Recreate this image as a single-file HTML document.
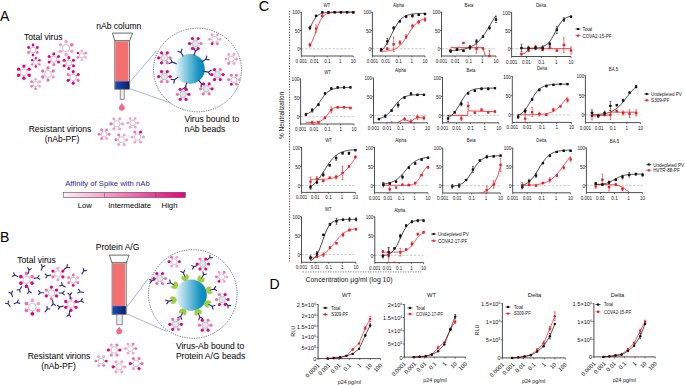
<!DOCTYPE html>
<html><head><meta charset="utf-8"><style>html,body{margin:0;padding:0;background:#fff;width:685px;height:385px;overflow:hidden}svg{display:block}text{font-family:"Liberation Sans", sans-serif}</style></head>
<body><svg width="685" height="385" viewBox="0 0 685 385" font-family='"Liberation Sans", sans-serif'>
<defs>
<linearGradient id="blueg" x1="0" y1="0" x2="1" y2="0"><stop offset="0" stop-color="#1a4fb0"/><stop offset="1" stop-color="#0a1f70"/></linearGradient>
<linearGradient id="beadg" x1="0" y1="0" x2="1" y2="0"><stop offset="0" stop-color="#f0f8fb"/><stop offset="0.45" stop-color="#72c0da"/><stop offset="0.8" stop-color="#1492c0"/><stop offset="1" stop-color="#0788b8"/></linearGradient>
<linearGradient id="affg" x1="0" y1="0" x2="1" y2="0"><stop offset="0" stop-color="#fdf0f6"/><stop offset="0.5" stop-color="#f47ab9"/><stop offset="1" stop-color="#e6007a"/></linearGradient>
</defs>
<rect width="685" height="385" fill="#fff"/>
<text x="0.00" y="21.20" font-size="14" text-anchor="start" fill="#000" >A</text>
<text x="0.00" y="242.30" font-size="14" text-anchor="start" fill="#000" >B</text>
<text x="258.80" y="10.60" font-size="14.6" text-anchor="start" fill="#000" >C</text>
<text x="269.60" y="288.60" font-size="14" text-anchor="start" fill="#000" >D</text>
<text x="24.00" y="40.30" font-size="8.55" text-anchor="start" fill="#000" >Total virus</text>
<line x1="33.00" y1="47.20" x2="33.00" y2="44.96" stroke="#e6007e" stroke-width="0.55"/><circle cx="33.00" cy="44.96" r="1.40" fill="#e6007e"/><line x1="35.42" y1="48.60" x2="37.36" y2="47.48" stroke="#e6007e" stroke-width="0.55"/><circle cx="37.36" cy="47.48" r="1.40" fill="#e6007e"/><line x1="35.42" y1="51.40" x2="37.36" y2="52.52" stroke="#ef6fb2" stroke-width="0.55"/><circle cx="37.36" cy="52.52" r="1.40" fill="#ef6fb2"/><line x1="33.00" y1="52.80" x2="33.00" y2="55.04" stroke="#e6007e" stroke-width="0.55"/><circle cx="33.00" cy="55.04" r="1.40" fill="#e6007e"/><line x1="30.58" y1="51.40" x2="28.64" y2="52.52" stroke="#ef6fb2" stroke-width="0.55"/><circle cx="28.64" cy="52.52" r="1.40" fill="#ef6fb2"/><line x1="30.58" y1="48.60" x2="28.64" y2="47.48" stroke="#e6007e" stroke-width="0.55"/><circle cx="28.64" cy="47.48" r="1.40" fill="#e6007e"/>
<circle cx="33.00" cy="50.00" r="2.80" fill="#fff" stroke="#b4b4b4" stroke-width="0.75"/>
<line x1="66.10" y1="44.50" x2="66.10" y2="41.62" stroke="#f5a0cc" stroke-width="0.55"/><circle cx="66.10" cy="41.62" r="1.80" fill="#f5a0cc"/><line x1="69.22" y1="46.30" x2="71.71" y2="44.86" stroke="#ef6fb2" stroke-width="0.55"/><circle cx="71.71" cy="44.86" r="1.80" fill="#ef6fb2"/><line x1="69.22" y1="49.90" x2="71.71" y2="51.34" stroke="#f5a0cc" stroke-width="0.55"/><circle cx="71.71" cy="51.34" r="1.80" fill="#f5a0cc"/><line x1="66.10" y1="51.70" x2="66.10" y2="54.58" stroke="#f5a0cc" stroke-width="0.55"/><circle cx="66.10" cy="54.58" r="1.80" fill="#f5a0cc"/><line x1="62.98" y1="49.90" x2="60.49" y2="51.34" stroke="#f5a0cc" stroke-width="0.55"/><circle cx="60.49" cy="51.34" r="1.80" fill="#f5a0cc"/><line x1="62.98" y1="46.30" x2="60.49" y2="44.86" stroke="#f5a0cc" stroke-width="0.55"/><circle cx="60.49" cy="44.86" r="1.80" fill="#f5a0cc"/>
<circle cx="66.10" cy="48.10" r="3.60" fill="#fff" stroke="#b4b4b4" stroke-width="0.75"/>
<line x1="81.80" y1="52.80" x2="81.80" y2="50.80" stroke="#f5a0cc" stroke-width="0.55"/><circle cx="81.80" cy="50.80" r="1.25" fill="#f5a0cc"/><line x1="83.97" y1="54.05" x2="85.70" y2="53.05" stroke="#ef6fb2" stroke-width="0.55"/><circle cx="85.70" cy="53.05" r="1.25" fill="#ef6fb2"/><line x1="83.97" y1="56.55" x2="85.70" y2="57.55" stroke="#f5a0cc" stroke-width="0.55"/><circle cx="85.70" cy="57.55" r="1.25" fill="#f5a0cc"/><line x1="81.80" y1="57.80" x2="81.80" y2="59.80" stroke="#f5a0cc" stroke-width="0.55"/><circle cx="81.80" cy="59.80" r="1.25" fill="#f5a0cc"/><line x1="79.63" y1="56.55" x2="77.90" y2="57.55" stroke="#ef6fb2" stroke-width="0.55"/><circle cx="77.90" cy="57.55" r="1.25" fill="#ef6fb2"/><line x1="79.63" y1="54.05" x2="77.90" y2="53.05" stroke="#e6007e" stroke-width="0.55"/><circle cx="77.90" cy="53.05" r="1.25" fill="#e6007e"/>
<circle cx="81.80" cy="55.30" r="2.50" fill="#fff" stroke="#b4b4b4" stroke-width="0.75"/>
<line x1="35.80" y1="59.95" x2="35.80" y2="58.07" stroke="#e6007e" stroke-width="0.55"/><circle cx="35.80" cy="58.07" r="1.18" fill="#e6007e"/><line x1="37.84" y1="61.12" x2="39.46" y2="60.18" stroke="#e6007e" stroke-width="0.55"/><circle cx="39.46" cy="60.18" r="1.18" fill="#e6007e"/><line x1="37.84" y1="63.47" x2="39.46" y2="64.41" stroke="#ef6fb2" stroke-width="0.55"/><circle cx="39.46" cy="64.41" r="1.18" fill="#ef6fb2"/><line x1="35.80" y1="64.65" x2="35.80" y2="66.53" stroke="#e6007e" stroke-width="0.55"/><circle cx="35.80" cy="66.53" r="1.18" fill="#e6007e"/><line x1="33.76" y1="63.48" x2="32.14" y2="64.41" stroke="#ef6fb2" stroke-width="0.55"/><circle cx="32.14" cy="64.41" r="1.18" fill="#ef6fb2"/><line x1="33.76" y1="61.12" x2="32.14" y2="60.18" stroke="#e6007e" stroke-width="0.55"/><circle cx="32.14" cy="60.18" r="1.18" fill="#e6007e"/>
<circle cx="35.80" cy="62.30" r="2.35" fill="#fff" stroke="#b4b4b4" stroke-width="0.75"/>
<line x1="53.80" y1="56.20" x2="53.80" y2="53.80" stroke="#e6007e" stroke-width="0.55"/><circle cx="53.80" cy="53.80" r="1.50" fill="#e6007e"/><line x1="56.40" y1="57.70" x2="58.48" y2="56.50" stroke="#e6007e" stroke-width="0.55"/><circle cx="58.48" cy="56.50" r="1.50" fill="#e6007e"/><line x1="56.40" y1="60.70" x2="58.48" y2="61.90" stroke="#e6007e" stroke-width="0.55"/><circle cx="58.48" cy="61.90" r="1.50" fill="#e6007e"/><line x1="53.80" y1="62.20" x2="53.80" y2="64.60" stroke="#ef6fb2" stroke-width="0.55"/><circle cx="53.80" cy="64.60" r="1.50" fill="#ef6fb2"/><line x1="51.20" y1="60.70" x2="49.12" y2="61.90" stroke="#e6007e" stroke-width="0.55"/><circle cx="49.12" cy="61.90" r="1.50" fill="#e6007e"/><line x1="51.20" y1="57.70" x2="49.12" y2="56.50" stroke="#e6007e" stroke-width="0.55"/><circle cx="49.12" cy="56.50" r="1.50" fill="#e6007e"/>
<circle cx="53.80" cy="59.20" r="3.00" fill="#fff" stroke="#b4b4b4" stroke-width="0.75"/>
<line x1="68.80" y1="60.00" x2="68.80" y2="57.60" stroke="#e6007e" stroke-width="0.55"/><circle cx="68.80" cy="57.60" r="1.50" fill="#e6007e"/><line x1="71.40" y1="61.50" x2="73.48" y2="60.30" stroke="#e6007e" stroke-width="0.55"/><circle cx="73.48" cy="60.30" r="1.50" fill="#e6007e"/><line x1="71.40" y1="64.50" x2="73.48" y2="65.70" stroke="#e6007e" stroke-width="0.55"/><circle cx="73.48" cy="65.70" r="1.50" fill="#e6007e"/><line x1="68.80" y1="66.00" x2="68.80" y2="68.40" stroke="#e6007e" stroke-width="0.55"/><circle cx="68.80" cy="68.40" r="1.50" fill="#e6007e"/><line x1="66.20" y1="64.50" x2="64.12" y2="65.70" stroke="#e6007e" stroke-width="0.55"/><circle cx="64.12" cy="65.70" r="1.50" fill="#e6007e"/><line x1="66.20" y1="61.50" x2="64.12" y2="60.30" stroke="#e6007e" stroke-width="0.55"/><circle cx="64.12" cy="60.30" r="1.50" fill="#e6007e"/>
<circle cx="68.80" cy="63.00" r="3.00" fill="#fff" stroke="#b4b4b4" stroke-width="0.75"/>
<line x1="23.90" y1="68.80" x2="23.90" y2="66.08" stroke="#e6007e" stroke-width="0.55"/><circle cx="23.90" cy="66.08" r="1.70" fill="#e6007e"/><line x1="26.84" y1="70.50" x2="29.20" y2="69.14" stroke="#e6007e" stroke-width="0.55"/><circle cx="29.20" cy="69.14" r="1.70" fill="#e6007e"/><line x1="26.84" y1="73.90" x2="29.20" y2="75.26" stroke="#e6007e" stroke-width="0.55"/><circle cx="29.20" cy="75.26" r="1.70" fill="#e6007e"/><line x1="23.90" y1="75.60" x2="23.90" y2="78.32" stroke="#e6007e" stroke-width="0.55"/><circle cx="23.90" cy="78.32" r="1.70" fill="#e6007e"/><line x1="20.96" y1="73.90" x2="18.60" y2="75.26" stroke="#e6007e" stroke-width="0.55"/><circle cx="18.60" cy="75.26" r="1.70" fill="#e6007e"/><line x1="20.96" y1="70.50" x2="18.60" y2="69.14" stroke="#e6007e" stroke-width="0.55"/><circle cx="18.60" cy="69.14" r="1.70" fill="#e6007e"/>
<circle cx="23.90" cy="72.20" r="3.40" fill="#fff" stroke="#b4b4b4" stroke-width="0.75"/>
<line x1="48.00" y1="70.60" x2="48.00" y2="67.88" stroke="#ef6fb2" stroke-width="0.55"/><circle cx="48.00" cy="67.88" r="1.70" fill="#ef6fb2"/><line x1="50.94" y1="72.30" x2="53.30" y2="70.94" stroke="#ef6fb2" stroke-width="0.55"/><circle cx="53.30" cy="70.94" r="1.70" fill="#ef6fb2"/><line x1="50.94" y1="75.70" x2="53.30" y2="77.06" stroke="#f5a0cc" stroke-width="0.55"/><circle cx="53.30" cy="77.06" r="1.70" fill="#f5a0cc"/><line x1="48.00" y1="77.40" x2="48.00" y2="80.12" stroke="#ef6fb2" stroke-width="0.55"/><circle cx="48.00" cy="80.12" r="1.70" fill="#ef6fb2"/><line x1="45.06" y1="75.70" x2="42.70" y2="77.06" stroke="#ef6fb2" stroke-width="0.55"/><circle cx="42.70" cy="77.06" r="1.70" fill="#ef6fb2"/><line x1="45.06" y1="72.30" x2="42.70" y2="70.94" stroke="#ef6fb2" stroke-width="0.55"/><circle cx="42.70" cy="70.94" r="1.70" fill="#ef6fb2"/>
<circle cx="48.00" cy="74.00" r="3.40" fill="#fff" stroke="#b4b4b4" stroke-width="0.75"/>
<line x1="73.20" y1="74.20" x2="73.20" y2="71.64" stroke="#e6007e" stroke-width="0.55"/><circle cx="73.20" cy="71.64" r="1.60" fill="#e6007e"/><line x1="75.97" y1="75.80" x2="78.19" y2="74.52" stroke="#e6007e" stroke-width="0.55"/><circle cx="78.19" cy="74.52" r="1.60" fill="#e6007e"/><line x1="75.97" y1="79.00" x2="78.19" y2="80.28" stroke="#ef6fb2" stroke-width="0.55"/><circle cx="78.19" cy="80.28" r="1.60" fill="#ef6fb2"/><line x1="73.20" y1="80.60" x2="73.20" y2="83.16" stroke="#e6007e" stroke-width="0.55"/><circle cx="73.20" cy="83.16" r="1.60" fill="#e6007e"/><line x1="70.43" y1="79.00" x2="68.21" y2="80.28" stroke="#e6007e" stroke-width="0.55"/><circle cx="68.21" cy="80.28" r="1.60" fill="#e6007e"/><line x1="70.43" y1="75.80" x2="68.21" y2="74.52" stroke="#ef6fb2" stroke-width="0.55"/><circle cx="68.21" cy="74.52" r="1.60" fill="#ef6fb2"/>
<circle cx="73.20" cy="77.40" r="3.20" fill="#fff" stroke="#b4b4b4" stroke-width="0.75"/>
<line x1="35.60" y1="81.40" x2="35.60" y2="79.32" stroke="#f5a0cc" stroke-width="0.55"/><circle cx="35.60" cy="79.32" r="1.30" fill="#f5a0cc"/><line x1="37.85" y1="82.70" x2="39.65" y2="81.66" stroke="#f5a0cc" stroke-width="0.55"/><circle cx="39.65" cy="81.66" r="1.30" fill="#f5a0cc"/><line x1="37.85" y1="85.30" x2="39.65" y2="86.34" stroke="#f5a0cc" stroke-width="0.55"/><circle cx="39.65" cy="86.34" r="1.30" fill="#f5a0cc"/><line x1="35.60" y1="86.60" x2="35.60" y2="88.68" stroke="#ef6fb2" stroke-width="0.55"/><circle cx="35.60" cy="88.68" r="1.30" fill="#ef6fb2"/><line x1="33.35" y1="85.30" x2="31.55" y2="86.34" stroke="#ef6fb2" stroke-width="0.55"/><circle cx="31.55" cy="86.34" r="1.30" fill="#ef6fb2"/><line x1="33.35" y1="82.70" x2="31.55" y2="81.66" stroke="#ef6fb2" stroke-width="0.55"/><circle cx="31.55" cy="81.66" r="1.30" fill="#ef6fb2"/>
<circle cx="35.60" cy="84.00" r="2.60" fill="#fff" stroke="#b4b4b4" stroke-width="0.75"/>
<text x="96.20" y="29.40" font-size="8.55" text-anchor="start" fill="#000" >nAb column</text>
<path d="M112.5,33.1 L132.6,33.1 L129.5,40.9 L114.8,40.9 Z" fill="#fff" stroke="#444" stroke-width="0.8"/>
<rect x="114.8" y="40.9" width="14.700000000000003" height="48.300000000000004" fill="#e9ecee" stroke="#555" stroke-width="0.8"/>
<rect x="115.39999999999999" y="41.5" width="13.000000000000004" height="39.8" fill="#f46f6f"/>
<rect x="115.2" y="81.3" width="13.900000000000002" height="7.7000000000000055" fill="url(#blueg)"/>
<rect x="120.2" y="89.2" width="4.0" height="10.099999999999994" fill="#ececec" stroke="#666" stroke-width="0.7"/>
<path d="M121.8,102.8 C122.6,104.8 124.8,106.39999999999999 124.8,107.8 A3,3 0 0 1 118.8,107.8 C118.8,106.39999999999999 121.0,104.8 121.8,102.8 Z" fill="#ee6d84"/>
<line x1="129.5" y1="82.5" x2="156.7" y2="50.5" stroke="#6f85cf" stroke-width="0.6"/>
<line x1="129.5" y1="88.5" x2="170.5" y2="103" stroke="#6f85cf" stroke-width="0.6"/>
<ellipse cx="197.5" cy="70" rx="44" ry="41.8" fill="#fff" stroke="#333" stroke-width="0.7" stroke-dasharray="1.2,1.2"/>
<circle cx="189.8" cy="68.9" r="15.0" fill="url(#beadg)"/>
<path d="M182.95,56.01 L180.99,52.34 M177.80,51.23 L180.99,52.34 L181.87,49.07" stroke="#2b2d8c" stroke-width="1.2" fill="none" stroke-linecap="round" stroke-linejoin="round"/>
<path d="M194.14,54.96 L195.38,50.99 M193.91,47.94 L195.38,50.99 L198.31,49.31" stroke="#2b2d8c" stroke-width="1.2" fill="none" stroke-linecap="round" stroke-linejoin="round"/>
<path d="M202.31,61.38 L205.88,59.24 M206.81,55.99 L205.88,59.24 L209.19,59.94" stroke="#2b2d8c" stroke-width="1.2" fill="none" stroke-linecap="round" stroke-linejoin="round"/>
<path d="M176.17,63.67 L172.29,62.18 M169.15,63.44 L172.29,62.18 L170.80,59.14" stroke="#2b2d8c" stroke-width="1.2" fill="none" stroke-linecap="round" stroke-linejoin="round"/>
<path d="M177.90,77.36 L174.51,79.77 M173.83,83.08 L174.51,79.77 L171.16,79.32" stroke="#2b2d8c" stroke-width="1.2" fill="none" stroke-linecap="round" stroke-linejoin="round"/>
<path d="M186.52,83.13 L185.58,87.18 M187.27,90.11 L185.58,87.18 L182.78,89.07" stroke="#2b2d8c" stroke-width="1.2" fill="none" stroke-linecap="round" stroke-linejoin="round"/>
<path d="M198.83,80.37 L201.40,83.64 M204.74,84.16 L201.40,83.64 L201.12,87.01" stroke="#2b2d8c" stroke-width="1.2" fill="none" stroke-linecap="round" stroke-linejoin="round"/>
<path d="M204.18,71.44 L208.27,72.16 M211.11,70.32 L208.27,72.16 L210.31,74.86" stroke="#2b2d8c" stroke-width="1.2" fill="none" stroke-linecap="round" stroke-linejoin="round"/>
<line x1="198.50" y1="43.50" x2="201.06" y2="43.50" stroke="#ef6fb2" stroke-width="0.55"/><circle cx="201.06" cy="43.50" r="1.60" fill="#ef6fb2"/><line x1="196.90" y1="46.27" x2="198.18" y2="48.49" stroke="#e6007e" stroke-width="0.55"/><circle cx="198.18" cy="48.49" r="1.60" fill="#e6007e"/><line x1="193.70" y1="46.27" x2="192.42" y2="48.49" stroke="#e6007e" stroke-width="0.55"/><circle cx="192.42" cy="48.49" r="1.60" fill="#e6007e"/><line x1="192.10" y1="43.50" x2="189.54" y2="43.50" stroke="#e6007e" stroke-width="0.55"/><circle cx="189.54" cy="43.50" r="1.60" fill="#e6007e"/><line x1="193.70" y1="40.73" x2="192.42" y2="38.51" stroke="#e6007e" stroke-width="0.55"/><circle cx="192.42" cy="38.51" r="1.60" fill="#e6007e"/><line x1="196.90" y1="40.73" x2="198.18" y2="38.51" stroke="#e6007e" stroke-width="0.55"/><circle cx="198.18" cy="38.51" r="1.60" fill="#e6007e"/>
<circle cx="195.30" cy="43.50" r="3.20" fill="#dde7ea" stroke="#b4b4b4" stroke-width="0.75"/>
<line x1="167.60" y1="57.80" x2="170.16" y2="57.80" stroke="#ef6fb2" stroke-width="0.55"/><circle cx="170.16" cy="57.80" r="1.60" fill="#ef6fb2"/><line x1="166.00" y1="60.57" x2="167.28" y2="62.79" stroke="#ef6fb2" stroke-width="0.55"/><circle cx="167.28" cy="62.79" r="1.60" fill="#ef6fb2"/><line x1="162.80" y1="60.57" x2="161.52" y2="62.79" stroke="#e6007e" stroke-width="0.55"/><circle cx="161.52" cy="62.79" r="1.60" fill="#e6007e"/><line x1="161.20" y1="57.80" x2="158.64" y2="57.80" stroke="#e6007e" stroke-width="0.55"/><circle cx="158.64" cy="57.80" r="1.60" fill="#e6007e"/><line x1="162.80" y1="55.03" x2="161.52" y2="52.81" stroke="#e6007e" stroke-width="0.55"/><circle cx="161.52" cy="52.81" r="1.60" fill="#e6007e"/><line x1="166.00" y1="55.03" x2="167.28" y2="52.81" stroke="#e6007e" stroke-width="0.55"/><circle cx="167.28" cy="52.81" r="1.60" fill="#e6007e"/>
<circle cx="164.40" cy="57.80" r="3.20" fill="#dde7ea" stroke="#b4b4b4" stroke-width="0.75"/>
<line x1="167.60" y1="76.60" x2="170.16" y2="76.60" stroke="#e6007e" stroke-width="0.55"/><circle cx="170.16" cy="76.60" r="1.60" fill="#e6007e"/><line x1="166.00" y1="79.37" x2="167.28" y2="81.59" stroke="#ef6fb2" stroke-width="0.55"/><circle cx="167.28" cy="81.59" r="1.60" fill="#ef6fb2"/><line x1="162.80" y1="79.37" x2="161.52" y2="81.59" stroke="#ef6fb2" stroke-width="0.55"/><circle cx="161.52" cy="81.59" r="1.60" fill="#ef6fb2"/><line x1="161.20" y1="76.60" x2="158.64" y2="76.60" stroke="#e6007e" stroke-width="0.55"/><circle cx="158.64" cy="76.60" r="1.60" fill="#e6007e"/><line x1="162.80" y1="73.83" x2="161.52" y2="71.61" stroke="#e6007e" stroke-width="0.55"/><circle cx="161.52" cy="71.61" r="1.60" fill="#e6007e"/><line x1="166.00" y1="73.83" x2="167.28" y2="71.61" stroke="#e6007e" stroke-width="0.55"/><circle cx="167.28" cy="71.61" r="1.60" fill="#e6007e"/>
<circle cx="164.40" cy="76.60" r="3.20" fill="#dde7ea" stroke="#b4b4b4" stroke-width="0.75"/>
<line x1="220.60" y1="74.60" x2="223.16" y2="74.60" stroke="#e6007e" stroke-width="0.55"/><circle cx="223.16" cy="74.60" r="1.60" fill="#e6007e"/><line x1="219.00" y1="77.37" x2="220.28" y2="79.59" stroke="#e6007e" stroke-width="0.55"/><circle cx="220.28" cy="79.59" r="1.60" fill="#e6007e"/><line x1="215.80" y1="77.37" x2="214.52" y2="79.59" stroke="#e6007e" stroke-width="0.55"/><circle cx="214.52" cy="79.59" r="1.60" fill="#e6007e"/><line x1="214.20" y1="74.60" x2="211.64" y2="74.60" stroke="#e6007e" stroke-width="0.55"/><circle cx="211.64" cy="74.60" r="1.60" fill="#e6007e"/><line x1="215.80" y1="71.83" x2="214.52" y2="69.61" stroke="#e6007e" stroke-width="0.55"/><circle cx="214.52" cy="69.61" r="1.60" fill="#e6007e"/><line x1="219.00" y1="71.83" x2="220.28" y2="69.61" stroke="#ef6fb2" stroke-width="0.55"/><circle cx="220.28" cy="69.61" r="1.60" fill="#ef6fb2"/>
<circle cx="217.40" cy="74.60" r="3.20" fill="#dde7ea" stroke="#b4b4b4" stroke-width="0.75"/>
<line x1="186.30" y1="94.30" x2="188.86" y2="94.30" stroke="#e6007e" stroke-width="0.55"/><circle cx="188.86" cy="94.30" r="1.60" fill="#e6007e"/><line x1="184.70" y1="97.07" x2="185.98" y2="99.29" stroke="#e6007e" stroke-width="0.55"/><circle cx="185.98" cy="99.29" r="1.60" fill="#e6007e"/><line x1="181.50" y1="97.07" x2="180.22" y2="99.29" stroke="#e6007e" stroke-width="0.55"/><circle cx="180.22" cy="99.29" r="1.60" fill="#e6007e"/><line x1="179.90" y1="94.30" x2="177.34" y2="94.30" stroke="#ef6fb2" stroke-width="0.55"/><circle cx="177.34" cy="94.30" r="1.60" fill="#ef6fb2"/><line x1="181.50" y1="91.53" x2="180.22" y2="89.31" stroke="#e6007e" stroke-width="0.55"/><circle cx="180.22" cy="89.31" r="1.60" fill="#e6007e"/><line x1="184.70" y1="91.53" x2="185.98" y2="89.31" stroke="#e6007e" stroke-width="0.55"/><circle cx="185.98" cy="89.31" r="1.60" fill="#e6007e"/>
<circle cx="183.10" cy="94.30" r="3.20" fill="#dde7ea" stroke="#b4b4b4" stroke-width="0.75"/>
<line x1="209.50" y1="88.80" x2="212.06" y2="88.80" stroke="#e6007e" stroke-width="0.55"/><circle cx="212.06" cy="88.80" r="1.60" fill="#e6007e"/><line x1="207.90" y1="91.57" x2="209.18" y2="93.79" stroke="#ef6fb2" stroke-width="0.55"/><circle cx="209.18" cy="93.79" r="1.60" fill="#ef6fb2"/><line x1="204.70" y1="91.57" x2="203.42" y2="93.79" stroke="#ef6fb2" stroke-width="0.55"/><circle cx="203.42" cy="93.79" r="1.60" fill="#ef6fb2"/><line x1="203.10" y1="88.80" x2="200.54" y2="88.80" stroke="#ef6fb2" stroke-width="0.55"/><circle cx="200.54" cy="88.80" r="1.60" fill="#ef6fb2"/><line x1="204.70" y1="86.03" x2="203.42" y2="83.81" stroke="#e6007e" stroke-width="0.55"/><circle cx="203.42" cy="83.81" r="1.60" fill="#e6007e"/><line x1="207.90" y1="86.03" x2="209.18" y2="83.81" stroke="#e6007e" stroke-width="0.55"/><circle cx="209.18" cy="83.81" r="1.60" fill="#e6007e"/>
<circle cx="206.30" cy="88.80" r="3.20" fill="#dde7ea" stroke="#b4b4b4" stroke-width="0.75"/>
<line x1="217.70" y1="39.30" x2="220.02" y2="39.30" stroke="#f5a0cc" stroke-width="0.55"/><circle cx="220.02" cy="39.30" r="1.45" fill="#f5a0cc"/><line x1="216.25" y1="41.81" x2="217.41" y2="43.82" stroke="#ef6fb2" stroke-width="0.55"/><circle cx="217.41" cy="43.82" r="1.45" fill="#ef6fb2"/><line x1="213.35" y1="41.81" x2="212.19" y2="43.82" stroke="#e6007e" stroke-width="0.55"/><circle cx="212.19" cy="43.82" r="1.45" fill="#e6007e"/><line x1="211.90" y1="39.30" x2="209.58" y2="39.30" stroke="#f5a0cc" stroke-width="0.55"/><circle cx="209.58" cy="39.30" r="1.45" fill="#f5a0cc"/><line x1="213.35" y1="36.79" x2="212.19" y2="34.78" stroke="#f5a0cc" stroke-width="0.55"/><circle cx="212.19" cy="34.78" r="1.45" fill="#f5a0cc"/><line x1="216.25" y1="36.79" x2="217.41" y2="34.78" stroke="#f5a0cc" stroke-width="0.55"/><circle cx="217.41" cy="34.78" r="1.45" fill="#f5a0cc"/>
<circle cx="214.80" cy="39.30" r="2.90" fill="#fff" stroke="#b4b4b4" stroke-width="0.75"/>
<line x1="234.20" y1="59.00" x2="236.52" y2="59.00" stroke="#f5a0cc" stroke-width="0.55"/><circle cx="236.52" cy="59.00" r="1.45" fill="#f5a0cc"/><line x1="232.75" y1="61.51" x2="233.91" y2="63.52" stroke="#f5a0cc" stroke-width="0.55"/><circle cx="233.91" cy="63.52" r="1.45" fill="#f5a0cc"/><line x1="229.85" y1="61.51" x2="228.69" y2="63.52" stroke="#ef6fb2" stroke-width="0.55"/><circle cx="228.69" cy="63.52" r="1.45" fill="#ef6fb2"/><line x1="228.40" y1="59.00" x2="226.08" y2="59.00" stroke="#f5a0cc" stroke-width="0.55"/><circle cx="226.08" cy="59.00" r="1.45" fill="#f5a0cc"/><line x1="229.85" y1="56.49" x2="228.69" y2="54.48" stroke="#f5a0cc" stroke-width="0.55"/><circle cx="228.69" cy="54.48" r="1.45" fill="#f5a0cc"/><line x1="232.75" y1="56.49" x2="233.91" y2="54.48" stroke="#f5a0cc" stroke-width="0.55"/><circle cx="233.91" cy="54.48" r="1.45" fill="#f5a0cc"/>
<circle cx="231.30" cy="59.00" r="2.90" fill="#fff" stroke="#b4b4b4" stroke-width="0.75"/>
<line x1="236.80" y1="79.80" x2="239.12" y2="79.80" stroke="#f5a0cc" stroke-width="0.55"/><circle cx="239.12" cy="79.80" r="1.45" fill="#f5a0cc"/><line x1="235.35" y1="82.31" x2="236.51" y2="84.32" stroke="#ef6fb2" stroke-width="0.55"/><circle cx="236.51" cy="84.32" r="1.45" fill="#ef6fb2"/><line x1="232.45" y1="82.31" x2="231.29" y2="84.32" stroke="#e6007e" stroke-width="0.55"/><circle cx="231.29" cy="84.32" r="1.45" fill="#e6007e"/><line x1="231.00" y1="79.80" x2="228.68" y2="79.80" stroke="#ef6fb2" stroke-width="0.55"/><circle cx="228.68" cy="79.80" r="1.45" fill="#ef6fb2"/><line x1="232.45" y1="77.29" x2="231.29" y2="75.28" stroke="#ef6fb2" stroke-width="0.55"/><circle cx="231.29" cy="75.28" r="1.45" fill="#ef6fb2"/><line x1="235.35" y1="77.29" x2="236.51" y2="75.28" stroke="#ef6fb2" stroke-width="0.55"/><circle cx="236.51" cy="75.28" r="1.45" fill="#ef6fb2"/>
<circle cx="233.90" cy="79.80" r="2.90" fill="#fff" stroke="#b4b4b4" stroke-width="0.75"/>
<text x="184.40" y="122.00" font-size="8.55" text-anchor="start" fill="#000" >Virus bound to</text>
<text x="184.40" y="132.30" font-size="8.55" text-anchor="start" fill="#000" >nAb beads</text>
<text x="60.00" y="131.60" font-size="8.55" text-anchor="middle" fill="#000" >Resistant virions</text>
<text x="62.00" y="141.70" font-size="8.55" text-anchor="middle" fill="#000" >(nAb-PF)</text>
<line x1="106.90" y1="134.30" x2="109.14" y2="134.30" stroke="#ef6fb2" stroke-width="0.55"/><circle cx="109.14" cy="134.30" r="1.40" fill="#ef6fb2"/><line x1="105.50" y1="136.72" x2="106.62" y2="138.66" stroke="#f5a0cc" stroke-width="0.55"/><circle cx="106.62" cy="138.66" r="1.40" fill="#f5a0cc"/><line x1="102.70" y1="136.72" x2="101.58" y2="138.66" stroke="#ef6fb2" stroke-width="0.55"/><circle cx="101.58" cy="138.66" r="1.40" fill="#ef6fb2"/><line x1="101.30" y1="134.30" x2="99.06" y2="134.30" stroke="#ef6fb2" stroke-width="0.55"/><circle cx="99.06" cy="134.30" r="1.40" fill="#ef6fb2"/><line x1="102.70" y1="131.88" x2="101.58" y2="129.94" stroke="#ef6fb2" stroke-width="0.55"/><circle cx="101.58" cy="129.94" r="1.40" fill="#ef6fb2"/><line x1="105.50" y1="131.88" x2="106.62" y2="129.94" stroke="#ef6fb2" stroke-width="0.55"/><circle cx="106.62" cy="129.94" r="1.40" fill="#ef6fb2"/>
<circle cx="104.10" cy="134.30" r="2.80" fill="#fff" stroke="#b4b4b4" stroke-width="0.75"/>
<line x1="120.00" y1="123.80" x2="122.56" y2="123.80" stroke="#f5a0cc" stroke-width="0.55"/><circle cx="122.56" cy="123.80" r="1.60" fill="#f5a0cc"/><line x1="118.40" y1="126.57" x2="119.68" y2="128.79" stroke="#f5a0cc" stroke-width="0.55"/><circle cx="119.68" cy="128.79" r="1.60" fill="#f5a0cc"/><line x1="115.20" y1="126.57" x2="113.92" y2="128.79" stroke="#f5a0cc" stroke-width="0.55"/><circle cx="113.92" cy="128.79" r="1.60" fill="#f5a0cc"/><line x1="113.60" y1="123.80" x2="111.04" y2="123.80" stroke="#ef6fb2" stroke-width="0.55"/><circle cx="111.04" cy="123.80" r="1.60" fill="#ef6fb2"/><line x1="115.20" y1="121.03" x2="113.92" y2="118.81" stroke="#f5a0cc" stroke-width="0.55"/><circle cx="113.92" cy="118.81" r="1.60" fill="#f5a0cc"/><line x1="118.40" y1="121.03" x2="119.68" y2="118.81" stroke="#f5a0cc" stroke-width="0.55"/><circle cx="119.68" cy="118.81" r="1.60" fill="#f5a0cc"/>
<circle cx="116.80" cy="123.80" r="3.20" fill="#fff" stroke="#b4b4b4" stroke-width="0.75"/>
<line x1="135.50" y1="122.90" x2="137.74" y2="122.90" stroke="#f5a0cc" stroke-width="0.55"/><circle cx="137.74" cy="122.90" r="1.40" fill="#f5a0cc"/><line x1="134.10" y1="125.32" x2="135.22" y2="127.26" stroke="#f5a0cc" stroke-width="0.55"/><circle cx="135.22" cy="127.26" r="1.40" fill="#f5a0cc"/><line x1="131.30" y1="125.32" x2="130.18" y2="127.26" stroke="#f5a0cc" stroke-width="0.55"/><circle cx="130.18" cy="127.26" r="1.40" fill="#f5a0cc"/><line x1="129.90" y1="122.90" x2="127.66" y2="122.90" stroke="#f5a0cc" stroke-width="0.55"/><circle cx="127.66" cy="122.90" r="1.40" fill="#f5a0cc"/><line x1="131.30" y1="120.48" x2="130.18" y2="118.54" stroke="#f5a0cc" stroke-width="0.55"/><circle cx="130.18" cy="118.54" r="1.40" fill="#f5a0cc"/><line x1="134.10" y1="120.48" x2="135.22" y2="118.54" stroke="#f5a0cc" stroke-width="0.55"/><circle cx="135.22" cy="118.54" r="1.40" fill="#f5a0cc"/>
<circle cx="132.70" cy="122.90" r="2.80" fill="#fff" stroke="#b4b4b4" stroke-width="0.75"/>
<line x1="124.40" y1="139.70" x2="126.80" y2="139.70" stroke="#f5a0cc" stroke-width="0.55"/><circle cx="126.80" cy="139.70" r="1.50" fill="#f5a0cc"/><line x1="122.90" y1="142.30" x2="124.10" y2="144.38" stroke="#f5a0cc" stroke-width="0.55"/><circle cx="124.10" cy="144.38" r="1.50" fill="#f5a0cc"/><line x1="119.90" y1="142.30" x2="118.70" y2="144.38" stroke="#f5a0cc" stroke-width="0.55"/><circle cx="118.70" cy="144.38" r="1.50" fill="#f5a0cc"/><line x1="118.40" y1="139.70" x2="116.00" y2="139.70" stroke="#ef6fb2" stroke-width="0.55"/><circle cx="116.00" cy="139.70" r="1.50" fill="#ef6fb2"/><line x1="119.90" y1="137.10" x2="118.70" y2="135.02" stroke="#ef6fb2" stroke-width="0.55"/><circle cx="118.70" cy="135.02" r="1.50" fill="#ef6fb2"/><line x1="122.90" y1="137.10" x2="124.10" y2="135.02" stroke="#f5a0cc" stroke-width="0.55"/><circle cx="124.10" cy="135.02" r="1.50" fill="#f5a0cc"/>
<circle cx="121.40" cy="139.70" r="3.00" fill="#fff" stroke="#b4b4b4" stroke-width="0.75"/>
<line x1="140.90" y1="137.00" x2="143.46" y2="137.00" stroke="#f5a0cc" stroke-width="0.55"/><circle cx="143.46" cy="137.00" r="1.60" fill="#f5a0cc"/><line x1="139.30" y1="139.77" x2="140.58" y2="141.99" stroke="#f5a0cc" stroke-width="0.55"/><circle cx="140.58" cy="141.99" r="1.60" fill="#f5a0cc"/><line x1="136.10" y1="139.77" x2="134.82" y2="141.99" stroke="#f5a0cc" stroke-width="0.55"/><circle cx="134.82" cy="141.99" r="1.60" fill="#f5a0cc"/><line x1="134.50" y1="137.00" x2="131.94" y2="137.00" stroke="#f5a0cc" stroke-width="0.55"/><circle cx="131.94" cy="137.00" r="1.60" fill="#f5a0cc"/><line x1="136.10" y1="134.23" x2="134.82" y2="132.01" stroke="#ef6fb2" stroke-width="0.55"/><circle cx="134.82" cy="132.01" r="1.60" fill="#ef6fb2"/><line x1="139.30" y1="134.23" x2="140.58" y2="132.01" stroke="#e6007e" stroke-width="0.55"/><circle cx="140.58" cy="132.01" r="1.60" fill="#e6007e"/>
<circle cx="137.70" cy="137.00" r="3.20" fill="#fff" stroke="#b4b4b4" stroke-width="0.75"/>
<text x="65.20" y="185.60" font-size="7.7" text-anchor="start" fill="#2a2aae" >Affinity of Spike with nAb</text>
<rect x="63.2" y="192.4" width="122.1" height="5.1" fill="url(#affg)" stroke="#333" stroke-width="0.5"/>
<line x1="104.5" y1="192.4" x2="104.5" y2="197.5" stroke="#555" stroke-width="0.5"/>
<line x1="155.8" y1="192.4" x2="155.8" y2="197.5" stroke="#555" stroke-width="0.5"/>
<text x="84.70" y="207.80" font-size="7.7" text-anchor="middle" fill="#000" >Low</text>
<text x="129.60" y="207.80" font-size="7.7" text-anchor="middle" fill="#000" >Intermediate</text>
<text x="169.50" y="207.80" font-size="7.7" text-anchor="middle" fill="#000" >High</text>
<text x="17.30" y="262.50" font-size="8.55" text-anchor="start" fill="#000" >Total virus</text>
<line x1="26.50" y1="276.30" x2="26.50" y2="273.42" stroke="#ef6fb2" stroke-width="0.55"/><circle cx="26.50" cy="273.42" r="1.80" fill="#ef6fb2"/><line x1="29.62" y1="278.10" x2="32.11" y2="276.66" stroke="#ef6fb2" stroke-width="0.55"/><circle cx="32.11" cy="276.66" r="1.80" fill="#ef6fb2"/><line x1="29.62" y1="281.70" x2="32.11" y2="283.14" stroke="#e6007e" stroke-width="0.55"/><circle cx="32.11" cy="283.14" r="1.80" fill="#e6007e"/><line x1="26.50" y1="283.50" x2="26.50" y2="286.38" stroke="#e6007e" stroke-width="0.55"/><circle cx="26.50" cy="286.38" r="1.80" fill="#e6007e"/><line x1="23.38" y1="281.70" x2="20.89" y2="283.14" stroke="#e6007e" stroke-width="0.55"/><circle cx="20.89" cy="283.14" r="1.80" fill="#e6007e"/><line x1="23.38" y1="278.10" x2="20.89" y2="276.66" stroke="#e6007e" stroke-width="0.55"/><circle cx="20.89" cy="276.66" r="1.80" fill="#e6007e"/>
<circle cx="26.50" cy="279.90" r="3.60" fill="#fff" stroke="#b4b4b4" stroke-width="0.75"/>
<line x1="57.90" y1="270.80" x2="57.90" y2="268.24" stroke="#f5a0cc" stroke-width="0.55"/><circle cx="57.90" cy="268.24" r="1.60" fill="#f5a0cc"/><line x1="60.67" y1="272.40" x2="62.89" y2="271.12" stroke="#e6007e" stroke-width="0.55"/><circle cx="62.89" cy="271.12" r="1.60" fill="#e6007e"/><line x1="60.67" y1="275.60" x2="62.89" y2="276.88" stroke="#e6007e" stroke-width="0.55"/><circle cx="62.89" cy="276.88" r="1.60" fill="#e6007e"/><line x1="57.90" y1="277.20" x2="57.90" y2="279.76" stroke="#f5a0cc" stroke-width="0.55"/><circle cx="57.90" cy="279.76" r="1.60" fill="#f5a0cc"/><line x1="55.13" y1="275.60" x2="52.91" y2="276.88" stroke="#ef6fb2" stroke-width="0.55"/><circle cx="52.91" cy="276.88" r="1.60" fill="#ef6fb2"/><line x1="55.13" y1="272.40" x2="52.91" y2="271.12" stroke="#e6007e" stroke-width="0.55"/><circle cx="52.91" cy="271.12" r="1.60" fill="#e6007e"/>
<circle cx="57.90" cy="274.00" r="3.20" fill="#fff" stroke="#b4b4b4" stroke-width="0.75"/>
<line x1="73.20" y1="277.30" x2="73.20" y2="274.98" stroke="#ef6fb2" stroke-width="0.55"/><circle cx="73.20" cy="274.98" r="1.45" fill="#ef6fb2"/><line x1="75.71" y1="278.75" x2="77.72" y2="277.59" stroke="#f5a0cc" stroke-width="0.55"/><circle cx="77.72" cy="277.59" r="1.45" fill="#f5a0cc"/><line x1="75.71" y1="281.65" x2="77.72" y2="282.81" stroke="#ef6fb2" stroke-width="0.55"/><circle cx="77.72" cy="282.81" r="1.45" fill="#ef6fb2"/><line x1="73.20" y1="283.10" x2="73.20" y2="285.42" stroke="#e6007e" stroke-width="0.55"/><circle cx="73.20" cy="285.42" r="1.45" fill="#e6007e"/><line x1="70.69" y1="281.65" x2="68.68" y2="282.81" stroke="#ef6fb2" stroke-width="0.55"/><circle cx="68.68" cy="282.81" r="1.45" fill="#ef6fb2"/><line x1="70.69" y1="278.75" x2="68.68" y2="277.59" stroke="#ef6fb2" stroke-width="0.55"/><circle cx="68.68" cy="277.59" r="1.45" fill="#ef6fb2"/>
<circle cx="73.20" cy="280.20" r="2.90" fill="#fff" stroke="#b4b4b4" stroke-width="0.75"/>
<line x1="51.40" y1="289.70" x2="51.40" y2="287.06" stroke="#e6007e" stroke-width="0.55"/><circle cx="51.40" cy="287.06" r="1.65" fill="#e6007e"/><line x1="54.26" y1="291.35" x2="56.54" y2="290.03" stroke="#e6007e" stroke-width="0.55"/><circle cx="56.54" cy="290.03" r="1.65" fill="#e6007e"/><line x1="54.26" y1="294.65" x2="56.54" y2="295.97" stroke="#e6007e" stroke-width="0.55"/><circle cx="56.54" cy="295.97" r="1.65" fill="#e6007e"/><line x1="51.40" y1="296.30" x2="51.40" y2="298.94" stroke="#ef6fb2" stroke-width="0.55"/><circle cx="51.40" cy="298.94" r="1.65" fill="#ef6fb2"/><line x1="48.54" y1="294.65" x2="46.26" y2="295.97" stroke="#e6007e" stroke-width="0.55"/><circle cx="46.26" cy="295.97" r="1.65" fill="#e6007e"/><line x1="48.54" y1="291.35" x2="46.26" y2="290.03" stroke="#ef6fb2" stroke-width="0.55"/><circle cx="46.26" cy="290.03" r="1.65" fill="#ef6fb2"/>
<circle cx="51.40" cy="293.00" r="3.30" fill="#fff" stroke="#b4b4b4" stroke-width="0.75"/>
<line x1="32.40" y1="303.20" x2="32.40" y2="300.16" stroke="#f5a0cc" stroke-width="0.55"/><circle cx="32.40" cy="300.16" r="1.90" fill="#f5a0cc"/><line x1="35.69" y1="305.10" x2="38.32" y2="303.58" stroke="#f5a0cc" stroke-width="0.55"/><circle cx="38.32" cy="303.58" r="1.90" fill="#f5a0cc"/><line x1="35.69" y1="308.90" x2="38.32" y2="310.42" stroke="#ef6fb2" stroke-width="0.55"/><circle cx="38.32" cy="310.42" r="1.90" fill="#ef6fb2"/><line x1="32.40" y1="310.80" x2="32.40" y2="313.84" stroke="#e6007e" stroke-width="0.55"/><circle cx="32.40" cy="313.84" r="1.90" fill="#e6007e"/><line x1="29.11" y1="308.90" x2="26.48" y2="310.42" stroke="#ef6fb2" stroke-width="0.55"/><circle cx="26.48" cy="310.42" r="1.90" fill="#ef6fb2"/><line x1="29.11" y1="305.10" x2="26.48" y2="303.58" stroke="#ef6fb2" stroke-width="0.55"/><circle cx="26.48" cy="303.58" r="1.90" fill="#ef6fb2"/>
<circle cx="32.40" cy="307.00" r="3.80" fill="#fff" stroke="#b4b4b4" stroke-width="0.75"/>
<line x1="70.90" y1="301.10" x2="70.90" y2="298.46" stroke="#ef6fb2" stroke-width="0.55"/><circle cx="70.90" cy="298.46" r="1.65" fill="#ef6fb2"/><line x1="73.76" y1="302.75" x2="76.04" y2="301.43" stroke="#e6007e" stroke-width="0.55"/><circle cx="76.04" cy="301.43" r="1.65" fill="#e6007e"/><line x1="73.76" y1="306.05" x2="76.04" y2="307.37" stroke="#e6007e" stroke-width="0.55"/><circle cx="76.04" cy="307.37" r="1.65" fill="#e6007e"/><line x1="70.90" y1="307.70" x2="70.90" y2="310.34" stroke="#e6007e" stroke-width="0.55"/><circle cx="70.90" cy="310.34" r="1.65" fill="#e6007e"/><line x1="68.04" y1="306.05" x2="65.76" y2="307.37" stroke="#e6007e" stroke-width="0.55"/><circle cx="65.76" cy="307.37" r="1.65" fill="#e6007e"/><line x1="68.04" y1="302.75" x2="65.76" y2="301.43" stroke="#e6007e" stroke-width="0.55"/><circle cx="65.76" cy="301.43" r="1.65" fill="#e6007e"/>
<circle cx="70.90" cy="304.40" r="3.30" fill="#fff" stroke="#b4b4b4" stroke-width="0.75"/>
<path d="M17.94,276.52 L14.82,275.29 M12.28,276.29 L14.82,275.29 L13.64,272.83" stroke="#2b2d8c" stroke-width="1.15" fill="none" stroke-linecap="round" stroke-linejoin="round"/>
<path d="M28.18,273.34 L29.01,270.09 M27.70,267.69 L29.01,270.09 L31.31,268.61" stroke="#2b2d8c" stroke-width="1.15" fill="none" stroke-linecap="round" stroke-linejoin="round"/>
<path d="M34.13,278.39 L37.42,277.74 M39.02,275.52 L37.42,277.74 L39.74,279.17" stroke="#2b2d8c" stroke-width="1.15" fill="none" stroke-linecap="round" stroke-linejoin="round"/>
<path d="M21.66,286.74 L19.71,289.49 M20.08,292.19 L19.71,289.49 L17.04,290.04" stroke="#2b2d8c" stroke-width="1.15" fill="none" stroke-linecap="round" stroke-linejoin="round"/>
<path d="M28.26,287.94 L28.98,291.22 M31.22,292.77 L28.98,291.22 L27.59,293.57" stroke="#2b2d8c" stroke-width="1.15" fill="none" stroke-linecap="round" stroke-linejoin="round"/>
<path d="M50.79,275.19 L47.47,275.74 M45.81,277.90 L47.47,275.74 L45.20,274.23" stroke="#2b2d8c" stroke-width="1.15" fill="none" stroke-linecap="round" stroke-linejoin="round"/>
<path d="M64.18,269.31 L66.87,267.30 M67.36,264.61 L66.87,267.30 L69.59,267.59" stroke="#2b2d8c" stroke-width="1.15" fill="none" stroke-linecap="round" stroke-linejoin="round"/>
<path d="M43.82,292.77 L40.46,292.68 M38.41,294.48 L40.46,292.68 L38.52,290.76" stroke="#2b2d8c" stroke-width="1.15" fill="none" stroke-linecap="round" stroke-linejoin="round"/>
<path d="M58.98,293.00 L62.34,293.00 M64.34,291.14 L62.34,293.00 L64.34,294.86" stroke="#2b2d8c" stroke-width="1.15" fill="none" stroke-linecap="round" stroke-linejoin="round"/>
<path d="M52.59,300.31 L53.14,303.63 M55.29,305.30 L53.14,303.63 L51.62,305.90" stroke="#2b2d8c" stroke-width="1.15" fill="none" stroke-linecap="round" stroke-linejoin="round"/>
<path d="M70.33,298.31 L70.02,294.96 M67.98,293.15 L70.02,294.96 L71.69,292.80" stroke="#2b2d8c" stroke-width="1.15" fill="none" stroke-linecap="round" stroke-linejoin="round"/>
<path d="M77.81,302.10 L81.00,301.03 M82.30,298.64 L81.00,301.03 L83.48,302.17" stroke="#2b2d8c" stroke-width="1.15" fill="none" stroke-linecap="round" stroke-linejoin="round"/>
<path d="M69.73,311.22 L69.16,314.53 M70.65,316.81 L69.16,314.53 L66.98,316.18" stroke="#2b2d8c" stroke-width="1.15" fill="none" stroke-linecap="round" stroke-linejoin="round"/>
<path d="M63.16,306.15 L59.88,306.88 M58.34,309.14 L59.88,306.88 L57.52,305.51" stroke="#2b2d8c" stroke-width="1.15" fill="none" stroke-linecap="round" stroke-linejoin="round"/>
<path d="M41.19,270.15 L42.40,267.02 M41.39,264.48 L42.40,267.02 L44.86,265.83" stroke="#2b2d8c" stroke-width="1.15" fill="none" stroke-linecap="round" stroke-linejoin="round"/>
<path d="M81.94,273.82 L83.75,270.99 M83.27,268.31 L83.75,270.99 L86.40,270.32" stroke="#2b2d8c" stroke-width="1.15" fill="none" stroke-linecap="round" stroke-linejoin="round"/>
<path d="M65.26,287.00 L62.38,285.27 M59.71,285.83 L62.38,285.27 L61.63,282.64" stroke="#2b2d8c" stroke-width="1.15" fill="none" stroke-linecap="round" stroke-linejoin="round"/>
<path d="M83.45,292.50 L80.18,291.70 M77.80,293.03 L80.18,291.70 L78.69,289.41" stroke="#2b2d8c" stroke-width="1.15" fill="none" stroke-linecap="round" stroke-linejoin="round"/>
<path d="M12.51,296.68 L11.43,293.51 M9.02,292.22 L11.43,293.51 L12.54,291.01" stroke="#2b2d8c" stroke-width="1.15" fill="none" stroke-linecap="round" stroke-linejoin="round"/>
<path d="M10.08,306.44 L8.11,303.72 M5.43,303.20 L8.11,303.72 L8.43,301.01" stroke="#2b2d8c" stroke-width="1.15" fill="none" stroke-linecap="round" stroke-linejoin="round"/>
<path d="M14.08,303.78 L17.17,302.47 M18.29,299.98 L17.17,302.47 L19.74,303.41" stroke="#2b2d8c" stroke-width="1.15" fill="none" stroke-linecap="round" stroke-linejoin="round"/>
<path d="M45.13,311.77 L47.22,309.14 M47.01,306.42 L47.22,309.14 L49.92,308.73" stroke="#2b2d8c" stroke-width="1.15" fill="none" stroke-linecap="round" stroke-linejoin="round"/>
<text x="95.70" y="249.50" font-size="8.55" text-anchor="start" fill="#000" >Protein A/G</text>
<path d="M109.3,255.1 L129.2,255.1 L126.2,262.9 L112.1,262.9 Z" fill="#fff" stroke="#444" stroke-width="0.8"/>
<rect x="112.1" y="262.9" width="14.100000000000009" height="51.400000000000034" fill="#e9ecee" stroke="#555" stroke-width="0.8"/>
<rect x="112.69999999999999" y="263.5" width="12.40000000000001" height="42.600000000000044" fill="#f46f6f"/>
<rect x="112.5" y="306.1" width="13.300000000000008" height="7.9999999999999885" fill="url(#blueg)"/>
<rect x="116.8" y="314.3" width="5.400000000000006" height="10.5" fill="#ececec" stroke="#666" stroke-width="0.7"/>
<path d="M119.2,326.2 C120.0,328.2 122.2,329.8 122.2,331.2 A3,3 0 0 1 116.2,331.2 C116.2,329.8 118.4,328.2 119.2,326.2 Z" fill="#ee6d84"/>
<line x1="126.2" y1="308" x2="148.4" y2="278.4" stroke="#6f85cf" stroke-width="0.6"/>
<line x1="126.2" y1="313.5" x2="166.6" y2="331.4" stroke="#6f85cf" stroke-width="0.6"/>
<ellipse cx="192.8" cy="294" rx="44.3" ry="44.3" fill="#fff" stroke="#333" stroke-width="0.7" stroke-dasharray="1.2,1.2"/>
<circle cx="191.2" cy="295.1" r="15.7" fill="url(#beadg)"/>
<g transform="translate(174.20,285.00) rotate(-149.3) scale(1.15)"><path d="M2.15,-2.2 A3.3,3.3 0 1 0 2.15,2.2 A2.3,2.3 0 0 1 2.15,-2.2 Z" fill="#9fd03a"/></g>
<g transform="translate(184.90,276.90) rotate(-109.1) scale(1.15)"><path d="M2.15,-2.2 A3.3,3.3 0 1 0 2.15,2.2 A2.3,2.3 0 0 1 2.15,-2.2 Z" fill="#9fd03a"/></g>
<g transform="translate(201.30,278.50) rotate(-58.7) scale(1.15)"><path d="M2.15,-2.2 A3.3,3.3 0 1 0 2.15,2.2 A2.3,2.3 0 0 1 2.15,-2.2 Z" fill="#9fd03a"/></g>
<g transform="translate(209.90,290.20) rotate(-14.7) scale(1.15)"><path d="M2.15,-2.2 A3.3,3.3 0 1 0 2.15,2.2 A2.3,2.3 0 0 1 2.15,-2.2 Z" fill="#9fd03a"/></g>
<g transform="translate(208.30,304.20) rotate(28.0) scale(1.15)"><path d="M2.15,-2.2 A3.3,3.3 0 1 0 2.15,2.2 A2.3,2.3 0 0 1 2.15,-2.2 Z" fill="#9fd03a"/></g>
<g transform="translate(198.20,313.10) rotate(68.7) scale(1.15)"><path d="M2.15,-2.2 A3.3,3.3 0 1 0 2.15,2.2 A2.3,2.3 0 0 1 2.15,-2.2 Z" fill="#9fd03a"/></g>
<g transform="translate(182.60,312.60) rotate(116.2) scale(1.15)"><path d="M2.15,-2.2 A3.3,3.3 0 1 0 2.15,2.2 A2.3,2.3 0 0 1 2.15,-2.2 Z" fill="#9fd03a"/></g>
<g transform="translate(172.50,300.20) rotate(164.7) scale(1.15)"><path d="M2.15,-2.2 A3.3,3.3 0 1 0 2.15,2.2 A2.3,2.3 0 0 1 2.15,-2.2 Z" fill="#9fd03a"/></g>
<path d="M173.68,284.69 L170.52,282.81 M167.60,283.45 L170.52,282.81 L169.68,279.94" stroke="#2b2d8c" stroke-width="1.15" fill="none" stroke-linecap="round" stroke-linejoin="round"/>
<path d="M184.70,276.33 L183.50,272.86 M180.86,271.45 L183.50,272.86 L184.71,270.12" stroke="#2b2d8c" stroke-width="1.15" fill="none" stroke-linecap="round" stroke-linejoin="round"/>
<path d="M201.61,277.99 L203.52,274.84 M202.92,271.92 L203.52,274.84 L206.40,274.03" stroke="#2b2d8c" stroke-width="1.15" fill="none" stroke-linecap="round" stroke-linejoin="round"/>
<path d="M210.48,290.05 L214.04,289.12 M215.64,286.59 L214.04,289.12 L216.67,290.53" stroke="#2b2d8c" stroke-width="1.15" fill="none" stroke-linecap="round" stroke-linejoin="round"/>
<path d="M208.83,304.48 L212.08,306.21 M214.97,305.44 L212.08,306.21 L213.05,309.04" stroke="#2b2d8c" stroke-width="1.15" fill="none" stroke-linecap="round" stroke-linejoin="round"/>
<path d="M198.42,313.66 L199.75,317.09 M202.44,318.39 L199.75,317.09 L198.64,319.87" stroke="#2b2d8c" stroke-width="1.15" fill="none" stroke-linecap="round" stroke-linejoin="round"/>
<path d="M182.34,313.14 L180.71,316.44 M181.58,319.30 L180.71,316.44 L177.92,317.51" stroke="#2b2d8c" stroke-width="1.15" fill="none" stroke-linecap="round" stroke-linejoin="round"/>
<path d="M171.92,300.36 L168.37,301.33 M166.80,303.87 L168.37,301.33 L165.72,299.94" stroke="#2b2d8c" stroke-width="1.15" fill="none" stroke-linecap="round" stroke-linejoin="round"/>
<line x1="206.10" y1="264.00" x2="208.66" y2="264.00" stroke="#e6007e" stroke-width="0.55"/><circle cx="208.66" cy="264.00" r="1.60" fill="#e6007e"/><line x1="204.50" y1="266.77" x2="205.78" y2="268.99" stroke="#e6007e" stroke-width="0.55"/><circle cx="205.78" cy="268.99" r="1.60" fill="#e6007e"/><line x1="201.30" y1="266.77" x2="200.02" y2="268.99" stroke="#e6007e" stroke-width="0.55"/><circle cx="200.02" cy="268.99" r="1.60" fill="#e6007e"/><line x1="199.70" y1="264.00" x2="197.14" y2="264.00" stroke="#e6007e" stroke-width="0.55"/><circle cx="197.14" cy="264.00" r="1.60" fill="#e6007e"/><line x1="201.30" y1="261.23" x2="200.02" y2="259.01" stroke="#ef6fb2" stroke-width="0.55"/><circle cx="200.02" cy="259.01" r="1.60" fill="#ef6fb2"/><line x1="204.50" y1="261.23" x2="205.78" y2="259.01" stroke="#e6007e" stroke-width="0.55"/><circle cx="205.78" cy="259.01" r="1.60" fill="#e6007e"/>
<circle cx="202.90" cy="264.00" r="3.20" fill="#dde7ea" stroke="#b4b4b4" stroke-width="0.75"/>
<line x1="162.90" y1="278.50" x2="165.46" y2="278.50" stroke="#ef6fb2" stroke-width="0.55"/><circle cx="165.46" cy="278.50" r="1.60" fill="#ef6fb2"/><line x1="161.30" y1="281.27" x2="162.58" y2="283.49" stroke="#ef6fb2" stroke-width="0.55"/><circle cx="162.58" cy="283.49" r="1.60" fill="#ef6fb2"/><line x1="158.10" y1="281.27" x2="156.82" y2="283.49" stroke="#ef6fb2" stroke-width="0.55"/><circle cx="156.82" cy="283.49" r="1.60" fill="#ef6fb2"/><line x1="156.50" y1="278.50" x2="153.94" y2="278.50" stroke="#e6007e" stroke-width="0.55"/><circle cx="153.94" cy="278.50" r="1.60" fill="#e6007e"/><line x1="158.10" y1="275.73" x2="156.82" y2="273.51" stroke="#e6007e" stroke-width="0.55"/><circle cx="156.82" cy="273.51" r="1.60" fill="#e6007e"/><line x1="161.30" y1="275.73" x2="162.58" y2="273.51" stroke="#e6007e" stroke-width="0.55"/><circle cx="162.58" cy="273.51" r="1.60" fill="#e6007e"/>
<circle cx="159.70" cy="278.50" r="3.20" fill="#dde7ea" stroke="#b4b4b4" stroke-width="0.75"/>
<line x1="225.50" y1="299.50" x2="228.06" y2="299.50" stroke="#e6007e" stroke-width="0.55"/><circle cx="228.06" cy="299.50" r="1.60" fill="#e6007e"/><line x1="223.90" y1="302.27" x2="225.18" y2="304.49" stroke="#e6007e" stroke-width="0.55"/><circle cx="225.18" cy="304.49" r="1.60" fill="#e6007e"/><line x1="220.70" y1="302.27" x2="219.42" y2="304.49" stroke="#e6007e" stroke-width="0.55"/><circle cx="219.42" cy="304.49" r="1.60" fill="#e6007e"/><line x1="219.10" y1="299.50" x2="216.54" y2="299.50" stroke="#ef6fb2" stroke-width="0.55"/><circle cx="216.54" cy="299.50" r="1.60" fill="#ef6fb2"/><line x1="220.70" y1="296.73" x2="219.42" y2="294.51" stroke="#ef6fb2" stroke-width="0.55"/><circle cx="219.42" cy="294.51" r="1.60" fill="#ef6fb2"/><line x1="223.90" y1="296.73" x2="225.18" y2="294.51" stroke="#e6007e" stroke-width="0.55"/><circle cx="225.18" cy="294.51" r="1.60" fill="#e6007e"/>
<circle cx="222.30" cy="299.50" r="3.20" fill="#dde7ea" stroke="#b4b4b4" stroke-width="0.75"/>
<line x1="178.80" y1="324.30" x2="181.36" y2="324.30" stroke="#e6007e" stroke-width="0.55"/><circle cx="181.36" cy="324.30" r="1.60" fill="#e6007e"/><line x1="177.20" y1="327.07" x2="178.48" y2="329.29" stroke="#ef6fb2" stroke-width="0.55"/><circle cx="178.48" cy="329.29" r="1.60" fill="#ef6fb2"/><line x1="174.00" y1="327.07" x2="172.72" y2="329.29" stroke="#e6007e" stroke-width="0.55"/><circle cx="172.72" cy="329.29" r="1.60" fill="#e6007e"/><line x1="172.40" y1="324.30" x2="169.84" y2="324.30" stroke="#e6007e" stroke-width="0.55"/><circle cx="169.84" cy="324.30" r="1.60" fill="#e6007e"/><line x1="174.00" y1="321.53" x2="172.72" y2="319.31" stroke="#ef6fb2" stroke-width="0.55"/><circle cx="172.72" cy="319.31" r="1.60" fill="#ef6fb2"/><line x1="177.20" y1="321.53" x2="178.48" y2="319.31" stroke="#ef6fb2" stroke-width="0.55"/><circle cx="178.48" cy="319.31" r="1.60" fill="#ef6fb2"/>
<circle cx="175.60" cy="324.30" r="3.20" fill="#dde7ea" stroke="#b4b4b4" stroke-width="0.75"/>
<line x1="208.40" y1="325.20" x2="210.96" y2="325.20" stroke="#ef6fb2" stroke-width="0.55"/><circle cx="210.96" cy="325.20" r="1.60" fill="#ef6fb2"/><line x1="206.80" y1="327.97" x2="208.08" y2="330.19" stroke="#e6007e" stroke-width="0.55"/><circle cx="208.08" cy="330.19" r="1.60" fill="#e6007e"/><line x1="203.60" y1="327.97" x2="202.32" y2="330.19" stroke="#e6007e" stroke-width="0.55"/><circle cx="202.32" cy="330.19" r="1.60" fill="#e6007e"/><line x1="202.00" y1="325.20" x2="199.44" y2="325.20" stroke="#ef6fb2" stroke-width="0.55"/><circle cx="199.44" cy="325.20" r="1.60" fill="#ef6fb2"/><line x1="203.60" y1="322.43" x2="202.32" y2="320.21" stroke="#e6007e" stroke-width="0.55"/><circle cx="202.32" cy="320.21" r="1.60" fill="#e6007e"/><line x1="206.80" y1="322.43" x2="208.08" y2="320.21" stroke="#ef6fb2" stroke-width="0.55"/><circle cx="208.08" cy="320.21" r="1.60" fill="#ef6fb2"/>
<circle cx="205.20" cy="325.20" r="3.20" fill="#dde7ea" stroke="#b4b4b4" stroke-width="0.75"/>
<line x1="177.10" y1="261.70" x2="179.42" y2="261.70" stroke="#e6007e" stroke-width="0.55"/><circle cx="179.42" cy="261.70" r="1.45" fill="#e6007e"/><line x1="175.65" y1="264.21" x2="176.81" y2="266.22" stroke="#f5a0cc" stroke-width="0.55"/><circle cx="176.81" cy="266.22" r="1.45" fill="#f5a0cc"/><line x1="172.75" y1="264.21" x2="171.59" y2="266.22" stroke="#f5a0cc" stroke-width="0.55"/><circle cx="171.59" cy="266.22" r="1.45" fill="#f5a0cc"/><line x1="171.30" y1="261.70" x2="168.98" y2="261.70" stroke="#e6007e" stroke-width="0.55"/><circle cx="168.98" cy="261.70" r="1.45" fill="#e6007e"/><line x1="172.75" y1="259.19" x2="171.59" y2="257.18" stroke="#ef6fb2" stroke-width="0.55"/><circle cx="171.59" cy="257.18" r="1.45" fill="#ef6fb2"/><line x1="175.65" y1="259.19" x2="176.81" y2="257.18" stroke="#f5a0cc" stroke-width="0.55"/><circle cx="176.81" cy="257.18" r="1.45" fill="#f5a0cc"/>
<circle cx="174.20" cy="261.70" r="2.90" fill="#fff" stroke="#b4b4b4" stroke-width="0.75"/>
<line x1="224.50" y1="276.90" x2="226.82" y2="276.90" stroke="#f5a0cc" stroke-width="0.55"/><circle cx="226.82" cy="276.90" r="1.45" fill="#f5a0cc"/><line x1="223.05" y1="279.41" x2="224.21" y2="281.42" stroke="#f5a0cc" stroke-width="0.55"/><circle cx="224.21" cy="281.42" r="1.45" fill="#f5a0cc"/><line x1="220.15" y1="279.41" x2="218.99" y2="281.42" stroke="#e6007e" stroke-width="0.55"/><circle cx="218.99" cy="281.42" r="1.45" fill="#e6007e"/><line x1="218.70" y1="276.90" x2="216.38" y2="276.90" stroke="#ef6fb2" stroke-width="0.55"/><circle cx="216.38" cy="276.90" r="1.45" fill="#ef6fb2"/><line x1="220.15" y1="274.39" x2="218.99" y2="272.38" stroke="#f5a0cc" stroke-width="0.55"/><circle cx="218.99" cy="272.38" r="1.45" fill="#f5a0cc"/><line x1="223.05" y1="274.39" x2="224.21" y2="272.38" stroke="#ef6fb2" stroke-width="0.55"/><circle cx="224.21" cy="272.38" r="1.45" fill="#ef6fb2"/>
<circle cx="221.60" cy="276.90" r="2.90" fill="#fff" stroke="#b4b4b4" stroke-width="0.75"/>
<path d="M197.00,265.73 L193.93,266.62 M192.60,268.86 L193.93,266.62 L191.61,265.46" stroke="#2b2d8c" stroke-width="1.1" fill="none" stroke-linecap="round" stroke-linejoin="round"/>
<path d="M207.43,259.83 L209.79,257.66 M209.99,255.07 L209.79,257.66 L212.39,257.67" stroke="#2b2d8c" stroke-width="1.1" fill="none" stroke-linecap="round" stroke-linejoin="round"/>
<path d="M155.02,279.77 L151.93,280.61 M150.56,282.82 L151.93,280.61 L149.63,279.40" stroke="#2b2d8c" stroke-width="1.1" fill="none" stroke-linecap="round" stroke-linejoin="round"/>
<path d="M225.75,303.16 L227.95,305.48 M230.54,305.65 L227.95,305.48 L227.97,308.08" stroke="#2b2d8c" stroke-width="1.1" fill="none" stroke-linecap="round" stroke-linejoin="round"/>
<text x="175.90" y="348.80" font-size="8.55" text-anchor="start" fill="#000" >Virus-Ab bound to</text>
<text x="175.90" y="358.60" font-size="8.55" text-anchor="start" fill="#000" >Protein A/G beads</text>
<text x="59.00" y="358.60" font-size="8.55" text-anchor="middle" fill="#000" >Resistant virions</text>
<text x="58.50" y="368.70" font-size="8.55" text-anchor="middle" fill="#000" >(nAb-PF)</text>
<line x1="104.00" y1="361.10" x2="106.32" y2="361.10" stroke="#e6007e" stroke-width="0.55"/><circle cx="106.32" cy="361.10" r="1.45" fill="#e6007e"/><line x1="102.55" y1="363.61" x2="103.71" y2="365.62" stroke="#ef6fb2" stroke-width="0.55"/><circle cx="103.71" cy="365.62" r="1.45" fill="#ef6fb2"/><line x1="99.65" y1="363.61" x2="98.49" y2="365.62" stroke="#f5a0cc" stroke-width="0.55"/><circle cx="98.49" cy="365.62" r="1.45" fill="#f5a0cc"/><line x1="98.20" y1="361.10" x2="95.88" y2="361.10" stroke="#ef6fb2" stroke-width="0.55"/><circle cx="95.88" cy="361.10" r="1.45" fill="#ef6fb2"/><line x1="99.65" y1="358.59" x2="98.49" y2="356.58" stroke="#f5a0cc" stroke-width="0.55"/><circle cx="98.49" cy="356.58" r="1.45" fill="#f5a0cc"/><line x1="102.55" y1="358.59" x2="103.71" y2="356.58" stroke="#f5a0cc" stroke-width="0.55"/><circle cx="103.71" cy="356.58" r="1.45" fill="#f5a0cc"/>
<circle cx="101.10" cy="361.10" r="2.90" fill="#fff" stroke="#b4b4b4" stroke-width="0.75"/>
<line x1="117.30" y1="350.00" x2="119.86" y2="350.00" stroke="#e6007e" stroke-width="0.55"/><circle cx="119.86" cy="350.00" r="1.60" fill="#e6007e"/><line x1="115.70" y1="352.77" x2="116.98" y2="354.99" stroke="#ef6fb2" stroke-width="0.55"/><circle cx="116.98" cy="354.99" r="1.60" fill="#ef6fb2"/><line x1="112.50" y1="352.77" x2="111.22" y2="354.99" stroke="#ef6fb2" stroke-width="0.55"/><circle cx="111.22" cy="354.99" r="1.60" fill="#ef6fb2"/><line x1="110.90" y1="350.00" x2="108.34" y2="350.00" stroke="#e6007e" stroke-width="0.55"/><circle cx="108.34" cy="350.00" r="1.60" fill="#e6007e"/><line x1="112.50" y1="347.23" x2="111.22" y2="345.01" stroke="#f5a0cc" stroke-width="0.55"/><circle cx="111.22" cy="345.01" r="1.60" fill="#f5a0cc"/><line x1="115.70" y1="347.23" x2="116.98" y2="345.01" stroke="#ef6fb2" stroke-width="0.55"/><circle cx="116.98" cy="345.01" r="1.60" fill="#ef6fb2"/>
<circle cx="114.10" cy="350.00" r="3.20" fill="#fff" stroke="#b4b4b4" stroke-width="0.75"/>
<line x1="133.40" y1="348.60" x2="135.72" y2="348.60" stroke="#ef6fb2" stroke-width="0.55"/><circle cx="135.72" cy="348.60" r="1.45" fill="#ef6fb2"/><line x1="131.95" y1="351.11" x2="133.11" y2="353.12" stroke="#f5a0cc" stroke-width="0.55"/><circle cx="133.11" cy="353.12" r="1.45" fill="#f5a0cc"/><line x1="129.05" y1="351.11" x2="127.89" y2="353.12" stroke="#f5a0cc" stroke-width="0.55"/><circle cx="127.89" cy="353.12" r="1.45" fill="#f5a0cc"/><line x1="127.60" y1="348.60" x2="125.28" y2="348.60" stroke="#f5a0cc" stroke-width="0.55"/><circle cx="125.28" cy="348.60" r="1.45" fill="#f5a0cc"/><line x1="129.05" y1="346.09" x2="127.89" y2="344.08" stroke="#f5a0cc" stroke-width="0.55"/><circle cx="127.89" cy="344.08" r="1.45" fill="#f5a0cc"/><line x1="131.95" y1="346.09" x2="133.11" y2="344.08" stroke="#ef6fb2" stroke-width="0.55"/><circle cx="133.11" cy="344.08" r="1.45" fill="#ef6fb2"/>
<circle cx="130.50" cy="348.60" r="2.90" fill="#fff" stroke="#b4b4b4" stroke-width="0.75"/>
<line x1="122.10" y1="366.80" x2="124.66" y2="366.80" stroke="#f5a0cc" stroke-width="0.55"/><circle cx="124.66" cy="366.80" r="1.60" fill="#f5a0cc"/><line x1="120.50" y1="369.57" x2="121.78" y2="371.79" stroke="#f5a0cc" stroke-width="0.55"/><circle cx="121.78" cy="371.79" r="1.60" fill="#f5a0cc"/><line x1="117.30" y1="369.57" x2="116.02" y2="371.79" stroke="#f5a0cc" stroke-width="0.55"/><circle cx="116.02" cy="371.79" r="1.60" fill="#f5a0cc"/><line x1="115.70" y1="366.80" x2="113.14" y2="366.80" stroke="#e6007e" stroke-width="0.55"/><circle cx="113.14" cy="366.80" r="1.60" fill="#e6007e"/><line x1="117.30" y1="364.03" x2="116.02" y2="361.81" stroke="#f5a0cc" stroke-width="0.55"/><circle cx="116.02" cy="361.81" r="1.60" fill="#f5a0cc"/><line x1="120.50" y1="364.03" x2="121.78" y2="361.81" stroke="#f5a0cc" stroke-width="0.55"/><circle cx="121.78" cy="361.81" r="1.60" fill="#f5a0cc"/>
<circle cx="118.90" cy="366.80" r="3.20" fill="#fff" stroke="#b4b4b4" stroke-width="0.75"/>
<line x1="139.40" y1="363.50" x2="141.96" y2="363.50" stroke="#ef6fb2" stroke-width="0.55"/><circle cx="141.96" cy="363.50" r="1.60" fill="#ef6fb2"/><line x1="137.80" y1="366.27" x2="139.08" y2="368.49" stroke="#e6007e" stroke-width="0.55"/><circle cx="139.08" cy="368.49" r="1.60" fill="#e6007e"/><line x1="134.60" y1="366.27" x2="133.32" y2="368.49" stroke="#f5a0cc" stroke-width="0.55"/><circle cx="133.32" cy="368.49" r="1.60" fill="#f5a0cc"/><line x1="133.00" y1="363.50" x2="130.44" y2="363.50" stroke="#e6007e" stroke-width="0.55"/><circle cx="130.44" cy="363.50" r="1.60" fill="#e6007e"/><line x1="134.60" y1="360.73" x2="133.32" y2="358.51" stroke="#ef6fb2" stroke-width="0.55"/><circle cx="133.32" cy="358.51" r="1.60" fill="#ef6fb2"/><line x1="137.80" y1="360.73" x2="139.08" y2="358.51" stroke="#ef6fb2" stroke-width="0.55"/><circle cx="139.08" cy="358.51" r="1.60" fill="#ef6fb2"/>
<circle cx="136.20" cy="363.50" r="3.20" fill="#fff" stroke="#b4b4b4" stroke-width="0.75"/>
<clipPath id="c301_48"><rect x="301.3" y="6.199999999999999" width="55.0" height="49.8"/></clipPath>
<line x1="301.3" y1="48.70" x2="353.3" y2="48.70" stroke="#b0b0b0" stroke-width="0.7" stroke-dasharray="2.4,1.5"/>
<path d="M301.30,11.90 L301.30,56.00 L353.30,56.00" fill="none" stroke="#222" stroke-width="0.8"/>
<line x1="299.80" y1="12.20" x2="301.30" y2="12.20" stroke="#222" stroke-width="0.6"/>
<text transform="translate(299.90,14.40) scale(0.93,1)" x="0" y="0" font-size="4.9" text-anchor="end" fill="#111" >100</text>
<line x1="299.80" y1="30.45" x2="301.30" y2="30.45" stroke="#222" stroke-width="0.6"/>
<text transform="translate(299.90,32.65) scale(0.93,1)" x="0" y="0" font-size="4.9" text-anchor="end" fill="#111" >50</text>
<line x1="299.80" y1="48.70" x2="301.30" y2="48.70" stroke="#222" stroke-width="0.6"/>
<text transform="translate(299.90,50.90) scale(0.93,1)" x="0" y="0" font-size="4.9" text-anchor="end" fill="#111" >0</text>
<line x1="301.30" y1="56.00" x2="301.30" y2="57.50" stroke="#222" stroke-width="0.6"/>
<text transform="translate(301.30,63.00) scale(0.93,1)" x="0" y="0" font-size="4.9" text-anchor="middle" fill="#111" >0.001</text>
<line x1="314.30" y1="56.00" x2="314.30" y2="57.50" stroke="#222" stroke-width="0.6"/>
<text transform="translate(314.30,63.00) scale(0.93,1)" x="0" y="0" font-size="4.9" text-anchor="middle" fill="#111" >0.01</text>
<line x1="327.30" y1="56.00" x2="327.30" y2="57.50" stroke="#222" stroke-width="0.6"/>
<text transform="translate(327.30,63.00) scale(0.93,1)" x="0" y="0" font-size="4.9" text-anchor="middle" fill="#111" >0.1</text>
<line x1="340.30" y1="56.00" x2="340.30" y2="57.50" stroke="#222" stroke-width="0.6"/>
<text transform="translate(340.30,63.00) scale(0.93,1)" x="0" y="0" font-size="4.9" text-anchor="middle" fill="#111" >1</text>
<line x1="353.30" y1="56.00" x2="353.30" y2="57.50" stroke="#222" stroke-width="0.6"/>
<text transform="translate(353.30,63.00) scale(0.93,1)" x="0" y="0" font-size="4.9" text-anchor="middle" fill="#111" >10</text>
<text transform="translate(326.80,7.10) scale(0.8,1)" x="0" y="0" font-size="5.4" text-anchor="middle" fill="#111" >WT</text>
<path d="M309.92,45.67 L310.46,44.77 L311.00,43.77 L311.54,42.69 L312.09,41.52 L312.63,40.26 L313.17,38.93 L313.71,37.52 L314.25,36.06 L314.80,34.55 L315.34,33.02 L315.88,31.48 L316.42,29.94 L316.97,28.44 L317.51,26.98 L318.05,25.57 L318.59,24.24 L319.13,22.98 L319.68,21.82 L320.22,20.74 L320.76,19.75 L321.30,18.85 L321.85,18.04 L322.39,17.32 L322.93,16.67 L323.47,16.09 L324.02,15.59 L324.56,15.14 L325.10,14.75 L325.64,14.40 L326.18,14.10 L326.73,13.84 L327.27,13.62 L327.81,13.42 L328.35,13.25 L328.90,13.11 L329.44,12.98 L329.98,12.87 L330.52,12.78 L331.07,12.70 L331.61,12.63 L332.15,12.57 L332.69,12.51 L333.23,12.47 L333.78,12.43 L334.32,12.40 L334.86,12.37 L335.40,12.35 L335.95,12.33 L336.49,12.31 L337.03,12.29 L337.57,12.28 L338.12,12.27 L338.66,12.26 L339.20,12.25 L339.74,12.24 L340.28,12.24 L340.83,12.23 L341.37,12.23 L341.91,12.22 L342.45,12.22 L343.00,12.22 L343.54,12.21 L344.08,12.21 L344.62,12.21 L345.17,12.21 L345.71,12.21 L346.25,12.21 L346.79,12.21 L347.33,12.20 L347.88,12.20 L348.42,12.20 L348.96,12.20 L349.50,12.20 L350.05,12.20 L350.59,12.20 L351.13,12.20 L351.67,12.20 L352.22,12.20 L352.76,12.20 L353.30,12.20" fill="none" stroke="#ee1c24" stroke-width="0.8" clip-path="url(#c301_48)"/>
<path d="M309.92,28.48 L310.46,27.19 L311.00,25.94 L311.54,24.73 L312.09,23.57 L312.63,22.47 L313.17,21.44 L313.71,20.49 L314.25,19.60 L314.80,18.79 L315.34,18.04 L315.88,17.37 L316.42,16.76 L316.97,16.22 L317.51,15.73 L318.05,15.30 L318.59,14.91 L319.13,14.57 L319.68,14.27 L320.22,14.01 L320.76,13.78 L321.30,13.57 L321.85,13.39 L322.39,13.24 L322.93,13.10 L323.47,12.98 L324.02,12.88 L324.56,12.79 L325.10,12.71 L325.64,12.64 L326.18,12.59 L326.73,12.53 L327.27,12.49 L327.81,12.45 L328.35,12.42 L328.90,12.39 L329.44,12.36 L329.98,12.34 L330.52,12.32 L331.07,12.31 L331.61,12.29 L332.15,12.28 L332.69,12.27 L333.23,12.26 L333.78,12.25 L334.32,12.24 L334.86,12.24 L335.40,12.23 L335.95,12.23 L336.49,12.23 L337.03,12.22 L337.57,12.22 L338.12,12.22 L338.66,12.21 L339.20,12.21 L339.74,12.21 L340.28,12.21 L340.83,12.21 L341.37,12.21 L341.91,12.21 L342.45,12.21 L343.00,12.20 L343.54,12.20 L344.08,12.20 L344.62,12.20 L345.17,12.20 L345.71,12.20 L346.25,12.20 L346.79,12.20 L347.33,12.20 L347.88,12.20 L348.42,12.20 L348.96,12.20 L349.50,12.20 L350.05,12.20 L350.59,12.20 L351.13,12.20 L351.67,12.20 L352.22,12.20 L352.76,12.20 L353.30,12.20" fill="none" stroke="#111" stroke-width="0.8" clip-path="url(#c301_48)"/>
<path d="M309.92,43.23 L309.92,46.88 M309.02,43.23 L310.82,43.23 M309.02,46.88 L310.82,46.88" stroke="#ee1c24" stroke-width="0.6" fill="none"/>
<rect x="308.72" y="43.85" width="2.4" height="2.4" rx="0.5" fill="#ee1c24"/>
<path d="M316.08,24.98 L316.08,32.28 M315.18,24.98 L316.98,24.98 M315.18,32.28 L316.98,32.28" stroke="#ee1c24" stroke-width="0.6" fill="none"/>
<rect x="314.88" y="27.43" width="2.4" height="2.4" rx="0.5" fill="#ee1c24"/>
<path d="M322.27,14.76 L322.27,16.95 M321.37,14.76 L323.17,14.76 M321.37,16.95 L323.17,16.95" stroke="#ee1c24" stroke-width="0.6" fill="none"/>
<rect x="321.07" y="14.65" width="2.4" height="2.4" rx="0.5" fill="#ee1c24"/>
<rect x="327.27" y="11.73" width="2.4" height="2.4" rx="0.5" fill="#ee1c24"/>
<rect x="333.49" y="11.00" width="2.4" height="2.4" rx="0.5" fill="#ee1c24"/>
<rect x="339.69" y="11.00" width="2.4" height="2.4" rx="0.5" fill="#ee1c24"/>
<rect x="345.89" y="11.00" width="2.4" height="2.4" rx="0.5" fill="#ee1c24"/>
<rect x="352.10" y="11.37" width="2.4" height="2.4" rx="0.5" fill="#ee1c24"/>
<path d="M309.92,26.07 L309.92,29.72 M309.02,26.07 L310.82,26.07 M309.02,29.72 L310.82,29.72" stroke="#111" stroke-width="0.6" fill="none"/>
<rect x="308.72" y="26.70" width="2.4" height="2.4" rx="0.5" fill="#111"/>
<path d="M316.08,15.12 L316.08,16.58 M315.18,15.12 L316.98,15.12 M315.18,16.58 L316.98,16.58" stroke="#111" stroke-width="0.6" fill="none"/>
<rect x="314.88" y="14.65" width="2.4" height="2.4" rx="0.5" fill="#111"/>
<rect x="321.07" y="11.00" width="2.4" height="2.4" rx="0.5" fill="#111"/>
<rect x="327.27" y="11.00" width="2.4" height="2.4" rx="0.5" fill="#111"/>
<rect x="333.49" y="11.00" width="2.4" height="2.4" rx="0.5" fill="#111"/>
<rect x="339.69" y="11.00" width="2.4" height="2.4" rx="0.5" fill="#111"/>
<rect x="345.89" y="11.00" width="2.4" height="2.4" rx="0.5" fill="#111"/>
<rect x="352.10" y="11.00" width="2.4" height="2.4" rx="0.5" fill="#111"/>
<clipPath id="c372_48"><rect x="372.4" y="6.199999999999999" width="55.60000000000002" height="49.8"/></clipPath>
<line x1="372.4" y1="48.70" x2="425" y2="48.70" stroke="#b0b0b0" stroke-width="0.7" stroke-dasharray="2.4,1.5"/>
<path d="M372.40,11.90 L372.40,56.00 L425.00,56.00" fill="none" stroke="#222" stroke-width="0.8"/>
<line x1="370.90" y1="12.20" x2="372.40" y2="12.20" stroke="#222" stroke-width="0.6"/>
<text transform="translate(371.00,14.40) scale(0.93,1)" x="0" y="0" font-size="4.9" text-anchor="end" fill="#111" >100</text>
<line x1="370.90" y1="30.45" x2="372.40" y2="30.45" stroke="#222" stroke-width="0.6"/>
<text transform="translate(371.00,32.65) scale(0.93,1)" x="0" y="0" font-size="4.9" text-anchor="end" fill="#111" >50</text>
<line x1="370.90" y1="48.70" x2="372.40" y2="48.70" stroke="#222" stroke-width="0.6"/>
<text transform="translate(371.00,50.90) scale(0.93,1)" x="0" y="0" font-size="4.9" text-anchor="end" fill="#111" >0</text>
<line x1="372.40" y1="56.00" x2="372.40" y2="57.50" stroke="#222" stroke-width="0.6"/>
<text transform="translate(372.40,63.00) scale(0.93,1)" x="0" y="0" font-size="4.9" text-anchor="middle" fill="#111" >0.001</text>
<line x1="385.55" y1="56.00" x2="385.55" y2="57.50" stroke="#222" stroke-width="0.6"/>
<text transform="translate(385.55,63.00) scale(0.93,1)" x="0" y="0" font-size="4.9" text-anchor="middle" fill="#111" >0.01</text>
<line x1="398.70" y1="56.00" x2="398.70" y2="57.50" stroke="#222" stroke-width="0.6"/>
<text transform="translate(398.70,63.00) scale(0.93,1)" x="0" y="0" font-size="4.9" text-anchor="middle" fill="#111" >0.1</text>
<line x1="411.85" y1="56.00" x2="411.85" y2="57.50" stroke="#222" stroke-width="0.6"/>
<text transform="translate(411.85,63.00) scale(0.93,1)" x="0" y="0" font-size="4.9" text-anchor="middle" fill="#111" >1</text>
<line x1="425.00" y1="56.00" x2="425.00" y2="57.50" stroke="#222" stroke-width="0.6"/>
<text transform="translate(425.00,63.00) scale(0.93,1)" x="0" y="0" font-size="4.9" text-anchor="middle" fill="#111" >10</text>
<text transform="translate(398.50,7.10) scale(0.8,1)" x="0" y="0" font-size="5.4" text-anchor="middle" fill="#111" >Alpha</text>
<path d="M381.12,51.43 L381.66,51.40 L382.21,51.38 L382.76,51.35 L383.31,51.33 L383.86,51.29 L384.41,51.26 L384.96,51.22 L385.50,51.17 L386.05,51.12 L386.60,51.07 L387.15,51.01 L387.70,50.94 L388.25,50.87 L388.80,50.79 L389.34,50.70 L389.89,50.60 L390.44,50.48 L390.99,50.36 L391.54,50.23 L392.09,50.08 L392.64,49.92 L393.18,49.74 L393.73,49.54 L394.28,49.33 L394.83,49.09 L395.38,48.83 L395.93,48.55 L396.47,48.24 L397.02,47.90 L397.57,47.54 L398.12,47.14 L398.67,46.72 L399.22,46.26 L399.77,45.76 L400.31,45.23 L400.86,44.67 L401.41,44.06 L401.96,43.43 L402.51,42.75 L403.06,42.04 L403.61,41.30 L404.15,40.52 L404.70,39.72 L405.25,38.89 L405.80,38.04 L406.35,37.17 L406.90,36.29 L407.45,35.40 L407.99,34.50 L408.54,33.61 L409.09,32.72 L409.64,31.84 L410.19,30.97 L410.74,30.13 L411.29,29.31 L411.83,28.51 L412.38,27.75 L412.93,27.02 L413.48,26.32 L414.03,25.66 L414.58,25.03 L415.13,24.44 L415.67,23.89 L416.22,23.37 L416.77,22.88 L417.32,22.43 L417.87,22.02 L418.42,21.63 L418.97,21.28 L419.51,20.95 L420.06,20.65 L420.61,20.38 L421.16,20.13 L421.71,19.90 L422.26,19.69 L422.81,19.50 L423.35,19.32 L423.90,19.16 L424.45,19.02 L425.00,18.89" fill="none" stroke="#ee1c24" stroke-width="0.8" clip-path="url(#c372_48)"/>
<path d="M381.12,50.88 L381.66,50.39 L382.21,49.85 L382.76,49.27 L383.31,48.65 L383.86,47.99 L384.41,47.28 L384.96,46.52 L385.50,45.72 L386.05,44.87 L386.60,43.98 L387.15,43.05 L387.70,42.08 L388.25,41.07 L388.80,40.02 L389.34,38.96 L389.89,37.86 L390.44,36.75 L390.99,35.63 L391.54,34.50 L392.09,33.38 L392.64,32.26 L393.18,31.15 L393.73,30.06 L394.28,29.00 L394.83,27.97 L395.38,26.97 L395.93,26.00 L396.47,25.08 L397.02,24.20 L397.57,23.37 L398.12,22.57 L398.67,21.83 L399.22,21.13 L399.77,20.48 L400.31,19.87 L400.86,19.30 L401.41,18.78 L401.96,18.29 L402.51,17.84 L403.06,17.43 L403.61,17.05 L404.15,16.71 L404.70,16.39 L405.25,16.10 L405.80,15.84 L406.35,15.59 L406.90,15.38 L407.45,15.18 L407.99,14.99 L408.54,14.83 L409.09,14.68 L409.64,14.55 L410.19,14.42 L410.74,14.31 L411.29,14.21 L411.83,14.12 L412.38,14.04 L412.93,13.97 L413.48,13.90 L414.03,13.84 L414.58,13.79 L415.13,13.74 L415.67,13.69 L416.22,13.65 L416.77,13.62 L417.32,13.59 L417.87,13.56 L418.42,13.53 L418.97,13.51 L419.51,13.49 L420.06,13.47 L420.61,13.45 L421.16,13.43 L421.71,13.42 L422.26,13.41 L422.81,13.40 L423.35,13.39 L423.90,13.38 L424.45,13.37 L425.00,13.36" fill="none" stroke="#111" stroke-width="0.8" clip-path="url(#c372_48)"/>
<path d="M381.12,49.80 L381.12,51.26 M380.22,49.80 L382.02,49.80 M380.22,51.26 L382.02,51.26" stroke="#ee1c24" stroke-width="0.6" fill="none"/>
<rect x="379.92" y="49.33" width="2.4" height="2.4" rx="0.5" fill="#ee1c24"/>
<path d="M387.35,47.61 L387.35,49.80 M386.45,47.61 L388.25,47.61 M386.45,49.80 L388.25,49.80" stroke="#ee1c24" stroke-width="0.6" fill="none"/>
<rect x="386.15" y="47.50" width="2.4" height="2.4" rx="0.5" fill="#ee1c24"/>
<path d="M393.61,37.02 L393.61,51.62 M392.71,37.02 L394.51,37.02 M392.71,51.62 L394.51,51.62" stroke="#ee1c24" stroke-width="0.6" fill="none"/>
<rect x="392.41" y="43.12" width="2.4" height="2.4" rx="0.5" fill="#ee1c24"/>
<path d="M399.88,40.67 L399.88,44.32 M398.98,40.67 L400.78,40.67 M398.98,44.32 L400.78,44.32" stroke="#ee1c24" stroke-width="0.6" fill="none"/>
<rect x="398.68" y="41.30" width="2.4" height="2.4" rx="0.5" fill="#ee1c24"/>
<path d="M406.17,34.83 L406.17,38.48 M405.27,34.83 L407.07,34.83 M405.27,38.48 L407.07,38.48" stroke="#ee1c24" stroke-width="0.6" fill="none"/>
<rect x="404.97" y="35.45" width="2.4" height="2.4" rx="0.5" fill="#ee1c24"/>
<path d="M412.45,24.25 L412.45,27.90 M411.55,24.25 L413.35,24.25 M411.55,27.90 L413.35,27.90" stroke="#ee1c24" stroke-width="0.6" fill="none"/>
<rect x="411.25" y="24.87" width="2.4" height="2.4" rx="0.5" fill="#ee1c24"/>
<path d="M418.72,20.23 L418.72,23.88 M417.82,20.23 L419.62,20.23 M417.82,23.88 L419.62,23.88" stroke="#ee1c24" stroke-width="0.6" fill="none"/>
<rect x="417.52" y="20.86" width="2.4" height="2.4" rx="0.5" fill="#ee1c24"/>
<path d="M425.00,17.68 L425.00,21.33 M424.10,17.68 L425.90,17.68 M424.10,21.33 L425.90,21.33" stroke="#ee1c24" stroke-width="0.6" fill="none"/>
<rect x="423.80" y="18.30" width="2.4" height="2.4" rx="0.5" fill="#ee1c24"/>
<path d="M381.12,48.34 L381.12,50.52 M380.22,48.34 L382.02,48.34 M380.22,50.52 L382.02,50.52" stroke="#111" stroke-width="0.6" fill="none"/>
<rect x="379.92" y="48.23" width="2.4" height="2.4" rx="0.5" fill="#111"/>
<path d="M387.35,38.48 L387.35,44.32 M386.45,38.48 L388.25,38.48 M386.45,44.32 L388.25,44.32" stroke="#111" stroke-width="0.6" fill="none"/>
<rect x="386.15" y="40.20" width="2.4" height="2.4" rx="0.5" fill="#111"/>
<path d="M393.61,26.44 L393.61,29.36 M392.71,26.44 L394.51,26.44 M392.71,29.36 L394.51,29.36" stroke="#111" stroke-width="0.6" fill="none"/>
<rect x="392.41" y="26.70" width="2.4" height="2.4" rx="0.5" fill="#111"/>
<path d="M399.88,20.60 L399.88,22.06 M398.98,20.60 L400.78,20.60 M398.98,22.06 L400.78,22.06" stroke="#111" stroke-width="0.6" fill="none"/>
<rect x="398.68" y="20.13" width="2.4" height="2.4" rx="0.5" fill="#111"/>
<path d="M406.17,15.49 L406.17,17.68 M405.27,15.49 L407.07,15.49 M405.27,17.68 L407.07,17.68" stroke="#111" stroke-width="0.6" fill="none"/>
<rect x="404.97" y="15.38" width="2.4" height="2.4" rx="0.5" fill="#111"/>
<path d="M412.45,14.39 L412.45,17.31 M411.55,14.39 L413.35,14.39 M411.55,17.31 L413.35,17.31" stroke="#111" stroke-width="0.6" fill="none"/>
<rect x="411.25" y="14.65" width="2.4" height="2.4" rx="0.5" fill="#111"/>
<path d="M418.72,14.03 L418.72,15.49 M417.82,14.03 L419.62,14.03 M417.82,15.49 L419.62,15.49" stroke="#111" stroke-width="0.6" fill="none"/>
<rect x="417.52" y="13.56" width="2.4" height="2.4" rx="0.5" fill="#111"/>
<path d="M425.00,13.66 L425.00,14.39 M424.10,13.66 L425.90,13.66 M424.10,14.39 L425.90,14.39" stroke="#111" stroke-width="0.6" fill="none"/>
<rect x="423.80" y="12.83" width="2.4" height="2.4" rx="0.5" fill="#111"/>
<clipPath id="c441_48"><rect x="441.5" y="6.199999999999999" width="57.5" height="49.8"/></clipPath>
<line x1="441.5" y1="48.70" x2="496" y2="48.70" stroke="#b0b0b0" stroke-width="0.7" stroke-dasharray="2.4,1.5"/>
<path d="M441.50,11.90 L441.50,56.00 L496.00,56.00" fill="none" stroke="#222" stroke-width="0.8"/>
<line x1="440.00" y1="12.20" x2="441.50" y2="12.20" stroke="#222" stroke-width="0.6"/>
<text transform="translate(440.10,14.40) scale(0.93,1)" x="0" y="0" font-size="4.9" text-anchor="end" fill="#111" >100</text>
<line x1="440.00" y1="30.45" x2="441.50" y2="30.45" stroke="#222" stroke-width="0.6"/>
<text transform="translate(440.10,32.65) scale(0.93,1)" x="0" y="0" font-size="4.9" text-anchor="end" fill="#111" >50</text>
<line x1="440.00" y1="48.70" x2="441.50" y2="48.70" stroke="#222" stroke-width="0.6"/>
<text transform="translate(440.10,50.90) scale(0.93,1)" x="0" y="0" font-size="4.9" text-anchor="end" fill="#111" >0</text>
<line x1="441.50" y1="56.00" x2="441.50" y2="57.50" stroke="#222" stroke-width="0.6"/>
<text transform="translate(441.50,63.00) scale(0.93,1)" x="0" y="0" font-size="4.9" text-anchor="middle" fill="#111" >0.001</text>
<line x1="455.12" y1="56.00" x2="455.12" y2="57.50" stroke="#222" stroke-width="0.6"/>
<text transform="translate(455.12,63.00) scale(0.93,1)" x="0" y="0" font-size="4.9" text-anchor="middle" fill="#111" >0.01</text>
<line x1="468.75" y1="56.00" x2="468.75" y2="57.50" stroke="#222" stroke-width="0.6"/>
<text transform="translate(468.75,63.00) scale(0.93,1)" x="0" y="0" font-size="4.9" text-anchor="middle" fill="#111" >0.1</text>
<line x1="482.38" y1="56.00" x2="482.38" y2="57.50" stroke="#222" stroke-width="0.6"/>
<text transform="translate(482.38,63.00) scale(0.93,1)" x="0" y="0" font-size="4.9" text-anchor="middle" fill="#111" >1</text>
<line x1="496.00" y1="56.00" x2="496.00" y2="57.50" stroke="#222" stroke-width="0.6"/>
<text transform="translate(496.00,63.00) scale(0.93,1)" x="0" y="0" font-size="4.9" text-anchor="middle" fill="#111" >10</text>
<text transform="translate(469.00,7.10) scale(0.8,1)" x="0" y="0" font-size="5.4" text-anchor="middle" fill="#111" >Beta</text>
<path d="M450.49,47.61 L482.10,47.61 L483.19,48.70 L485.64,56.73" fill="none" stroke="#ee1c24" stroke-width="0.8" clip-path="url(#c441_48)"/>
<path d="M450.53,50.56 L451.10,50.53 L451.67,50.51 L452.24,50.48 L452.80,50.45 L453.37,50.42 L453.94,50.38 L454.51,50.34 L455.08,50.30 L455.65,50.26 L456.21,50.21 L456.78,50.16 L457.35,50.11 L457.92,50.05 L458.49,49.99 L459.06,49.92 L459.62,49.85 L460.19,49.78 L460.76,49.70 L461.33,49.61 L461.90,49.52 L462.47,49.42 L463.03,49.31 L463.60,49.19 L464.17,49.07 L464.74,48.94 L465.31,48.80 L465.88,48.65 L466.44,48.49 L467.01,48.32 L467.58,48.14 L468.15,47.95 L468.72,47.74 L469.29,47.52 L469.85,47.28 L470.42,47.03 L470.99,46.77 L471.56,46.49 L472.13,46.19 L472.70,45.87 L473.27,45.53 L473.83,45.17 L474.40,44.79 L474.97,44.39 L475.54,43.97 L476.11,43.53 L476.68,43.06 L477.24,42.56 L477.81,42.05 L478.38,41.50 L478.95,40.93 L479.52,40.33 L480.09,39.71 L480.65,39.06 L481.22,38.39 L481.79,37.68 L482.36,36.95 L482.93,36.20 L483.50,35.42 L484.06,34.62 L484.63,33.79 L485.20,32.95 L485.77,32.08 L486.34,31.19 L486.91,30.29 L487.47,29.37 L488.04,28.44 L488.61,27.50 L489.18,26.55 L489.75,25.60 L490.32,24.64 L490.88,23.68 L491.45,22.72 L492.02,21.77 L492.59,20.82 L493.16,19.88 L493.73,18.95 L494.29,18.04 L494.86,17.14 L495.43,16.26 L496.00,15.39" fill="none" stroke="#111" stroke-width="0.8" clip-path="url(#c441_48)"/>
<path d="M450.53,49.80 L450.53,51.26 M449.63,49.80 L451.43,49.80 M449.63,51.26 L451.43,51.26" stroke="#ee1c24" stroke-width="0.6" fill="none"/>
<rect x="449.33" y="49.33" width="2.4" height="2.4" rx="0.5" fill="#ee1c24"/>
<path d="M456.99,48.34 L456.99,49.80 M456.09,48.34 L457.89,48.34 M456.09,49.80 L457.89,49.80" stroke="#ee1c24" stroke-width="0.6" fill="none"/>
<rect x="455.79" y="47.87" width="2.4" height="2.4" rx="0.5" fill="#ee1c24"/>
<rect x="462.27" y="41.66" width="2.4" height="2.4" rx="0.5" fill="#ee1c24"/>
<path d="M469.97,45.78 L469.97,47.97 M469.07,45.78 L470.87,45.78 M469.07,47.97 L470.87,47.97" stroke="#ee1c24" stroke-width="0.6" fill="none"/>
<rect x="468.77" y="45.67" width="2.4" height="2.4" rx="0.5" fill="#ee1c24"/>
<path d="M476.49,44.32 L476.49,53.08 M475.59,44.32 L477.39,44.32 M475.59,53.08 L477.39,53.08" stroke="#ee1c24" stroke-width="0.6" fill="none"/>
<rect x="475.29" y="47.50" width="2.4" height="2.4" rx="0.5" fill="#ee1c24"/>
<path d="M482.99,47.61 L482.99,49.06 M482.09,47.61 L483.89,47.61 M482.09,49.06 L483.89,49.06" stroke="#ee1c24" stroke-width="0.6" fill="none"/>
<rect x="481.79" y="47.13" width="2.4" height="2.4" rx="0.5" fill="#ee1c24"/>
<path d="M489.49,50.52 L489.49,56.00 M488.59,50.52 L490.39,50.52 M488.59,56.00 L490.39,56.00" stroke="#ee1c24" stroke-width="0.6" fill="none"/>
<rect x="488.29" y="54.80" width="2.4" height="2.4" rx="0.5" fill="#ee1c24"/>
<path d="M450.53,50.16 L450.53,52.35 M449.63,50.16 L451.43,50.16 M449.63,52.35 L451.43,52.35" stroke="#111" stroke-width="0.6" fill="none"/>
<rect x="449.33" y="50.05" width="2.4" height="2.4" rx="0.5" fill="#111"/>
<path d="M456.99,49.07 L456.99,50.52 M456.09,49.07 L457.89,49.07 M456.09,50.52 L457.89,50.52" stroke="#111" stroke-width="0.6" fill="none"/>
<rect x="455.79" y="48.59" width="2.4" height="2.4" rx="0.5" fill="#111"/>
<path d="M463.47,50.16 L463.47,51.62 M462.57,50.16 L464.37,50.16 M462.57,51.62 L464.37,51.62" stroke="#111" stroke-width="0.6" fill="none"/>
<rect x="462.27" y="49.69" width="2.4" height="2.4" rx="0.5" fill="#111"/>
<path d="M469.97,45.78 L469.97,49.43 M469.07,45.78 L470.87,45.78 M469.07,49.43 L470.87,49.43" stroke="#111" stroke-width="0.6" fill="none"/>
<rect x="468.77" y="46.41" width="2.4" height="2.4" rx="0.5" fill="#111"/>
<path d="M476.49,39.58 L476.49,43.23 M475.59,39.58 L477.39,39.58 M475.59,43.23 L477.39,43.23" stroke="#111" stroke-width="0.6" fill="none"/>
<rect x="475.29" y="40.20" width="2.4" height="2.4" rx="0.5" fill="#111"/>
<path d="M482.99,35.56 L482.99,37.75 M482.09,35.56 L483.89,35.56 M482.09,37.75 L483.89,37.75" stroke="#111" stroke-width="0.6" fill="none"/>
<rect x="481.79" y="35.45" width="2.4" height="2.4" rx="0.5" fill="#111"/>
<path d="M489.49,26.07 L489.49,29.72 M488.59,26.07 L490.39,26.07 M488.59,29.72 L490.39,29.72" stroke="#111" stroke-width="0.6" fill="none"/>
<rect x="488.29" y="26.70" width="2.4" height="2.4" rx="0.5" fill="#111"/>
<path d="M496.00,16.58 L496.00,22.42 M495.10,16.58 L496.90,16.58 M495.10,22.42 L496.90,22.42" stroke="#111" stroke-width="0.6" fill="none"/>
<rect x="494.80" y="18.30" width="2.4" height="2.4" rx="0.5" fill="#111"/>
<clipPath id="c511_48"><rect x="511.6" y="6.4" width="62.39999999999998" height="50.1"/></clipPath>
<line x1="511.6" y1="48.70" x2="571" y2="48.70" stroke="#b0b0b0" stroke-width="0.7" stroke-dasharray="2.4,1.5"/>
<path d="M511.60,12.10 L511.60,56.50 L571.00,56.50" fill="none" stroke="#222" stroke-width="0.8"/>
<line x1="510.10" y1="12.40" x2="511.60" y2="12.40" stroke="#222" stroke-width="0.6"/>
<text transform="translate(510.20,14.60) scale(0.93,1)" x="0" y="0" font-size="4.9" text-anchor="end" fill="#111" >100</text>
<line x1="510.10" y1="30.55" x2="511.60" y2="30.55" stroke="#222" stroke-width="0.6"/>
<text transform="translate(510.20,32.75) scale(0.93,1)" x="0" y="0" font-size="4.9" text-anchor="end" fill="#111" >50</text>
<line x1="510.10" y1="48.70" x2="511.60" y2="48.70" stroke="#222" stroke-width="0.6"/>
<text transform="translate(510.20,50.90) scale(0.93,1)" x="0" y="0" font-size="4.9" text-anchor="end" fill="#111" >0</text>
<line x1="511.60" y1="56.50" x2="511.60" y2="58.00" stroke="#222" stroke-width="0.6"/>
<text transform="translate(511.60,63.50) scale(0.93,1)" x="0" y="0" font-size="4.9" text-anchor="middle" fill="#111" >0.001</text>
<line x1="526.45" y1="56.50" x2="526.45" y2="58.00" stroke="#222" stroke-width="0.6"/>
<text transform="translate(526.45,63.50) scale(0.93,1)" x="0" y="0" font-size="4.9" text-anchor="middle" fill="#111" >0.01</text>
<line x1="541.30" y1="56.50" x2="541.30" y2="58.00" stroke="#222" stroke-width="0.6"/>
<text transform="translate(541.30,63.50) scale(0.93,1)" x="0" y="0" font-size="4.9" text-anchor="middle" fill="#111" >0.1</text>
<line x1="556.15" y1="56.50" x2="556.15" y2="58.00" stroke="#222" stroke-width="0.6"/>
<text transform="translate(556.15,63.50) scale(0.93,1)" x="0" y="0" font-size="4.9" text-anchor="middle" fill="#111" >1</text>
<line x1="571.00" y1="56.50" x2="571.00" y2="58.00" stroke="#222" stroke-width="0.6"/>
<text transform="translate(571.00,63.50) scale(0.93,1)" x="0" y="0" font-size="4.9" text-anchor="middle" fill="#111" >10</text>
<text transform="translate(541.00,7.10) scale(0.8,1)" x="0" y="0" font-size="5.4" text-anchor="middle" fill="#111" >Delta</text>
<path d="M520.51,53.42 L524.97,53.42 L527.19,50.52 L529.42,48.70 L571.00,48.70" fill="none" stroke="#ee1c24" stroke-width="0.8" clip-path="url(#c511_48)"/>
<path d="M521.44,48.32 L522.06,48.32 L522.68,48.32 L523.30,48.32 L523.92,48.32 L524.54,48.31 L525.16,48.31 L525.78,48.30 L526.40,48.30 L527.02,48.29 L527.64,48.29 L528.26,48.28 L528.88,48.27 L529.50,48.26 L530.11,48.25 L530.73,48.23 L531.35,48.21 L531.97,48.20 L532.59,48.17 L533.21,48.15 L533.83,48.12 L534.45,48.09 L535.07,48.05 L535.69,48.00 L536.31,47.95 L536.93,47.89 L537.55,47.83 L538.17,47.75 L538.79,47.66 L539.41,47.56 L540.03,47.44 L540.65,47.30 L541.27,47.15 L541.88,46.97 L542.50,46.77 L543.12,46.54 L543.74,46.28 L544.36,45.99 L544.98,45.65 L545.60,45.27 L546.22,44.85 L546.84,44.37 L547.46,43.84 L548.08,43.25 L548.70,42.60 L549.32,41.89 L549.94,41.11 L550.56,40.26 L551.18,39.35 L551.80,38.38 L552.42,37.35 L553.04,36.26 L553.65,35.14 L554.27,33.98 L554.89,32.81 L555.51,31.62 L556.13,30.43 L556.75,29.26 L557.37,28.11 L557.99,27.00 L558.61,25.94 L559.23,24.93 L559.85,23.97 L560.47,23.09 L561.09,22.26 L561.71,21.50 L562.33,20.81 L562.95,20.18 L563.57,19.61 L564.19,19.10 L564.81,18.64 L565.42,18.23 L566.04,17.87 L566.66,17.55 L567.28,17.27 L567.90,17.02 L568.52,16.80 L569.14,16.60 L569.76,16.44 L570.38,16.29 L571.00,16.16" fill="none" stroke="#111" stroke-width="0.8" clip-path="url(#c511_48)"/>
<path d="M521.44,53.06 L521.44,55.23 M520.54,53.06 L522.34,53.06 M520.54,55.23 L522.34,55.23" stroke="#ee1c24" stroke-width="0.6" fill="none"/>
<rect x="520.24" y="52.95" width="2.4" height="2.4" rx="0.5" fill="#ee1c24"/>
<path d="M528.48,49.43 L528.48,51.60 M527.58,49.43 L529.38,49.43 M527.58,51.60 L529.38,51.60" stroke="#ee1c24" stroke-width="0.6" fill="none"/>
<rect x="527.28" y="49.31" width="2.4" height="2.4" rx="0.5" fill="#ee1c24"/>
<path d="M535.55,45.07 L535.55,48.70 M534.65,45.07 L536.45,45.07 M534.65,48.70 L536.45,48.70" stroke="#ee1c24" stroke-width="0.6" fill="none"/>
<rect x="534.35" y="45.69" width="2.4" height="2.4" rx="0.5" fill="#ee1c24"/>
<path d="M542.64,48.34 L542.64,50.52 M541.74,48.34 L543.54,48.34 M541.74,50.52 L543.54,50.52" stroke="#ee1c24" stroke-width="0.6" fill="none"/>
<rect x="541.44" y="48.23" width="2.4" height="2.4" rx="0.5" fill="#ee1c24"/>
<path d="M549.74,46.52 L549.74,48.70 M548.84,46.52 L550.64,46.52 M548.84,48.70 L550.64,48.70" stroke="#ee1c24" stroke-width="0.6" fill="none"/>
<rect x="548.54" y="46.41" width="2.4" height="2.4" rx="0.5" fill="#ee1c24"/>
<path d="M556.82,49.79 L556.82,51.24 M555.92,49.79 L557.72,49.79 M555.92,51.24 L557.72,51.24" stroke="#ee1c24" stroke-width="0.6" fill="none"/>
<rect x="555.62" y="49.31" width="2.4" height="2.4" rx="0.5" fill="#ee1c24"/>
<path d="M563.91,37.81 L563.91,52.33 M563.01,37.81 L564.81,37.81 M563.01,52.33 L564.81,52.33" stroke="#ee1c24" stroke-width="0.6" fill="none"/>
<rect x="562.71" y="43.87" width="2.4" height="2.4" rx="0.5" fill="#ee1c24"/>
<path d="M571.00,46.88 L571.00,54.15 M570.10,46.88 L571.90,46.88 M570.10,54.15 L571.90,54.15" stroke="#ee1c24" stroke-width="0.6" fill="none"/>
<rect x="569.80" y="49.31" width="2.4" height="2.4" rx="0.5" fill="#ee1c24"/>
<path d="M521.44,44.34 L521.44,51.60 M520.54,44.34 L522.34,44.34 M520.54,51.60 L522.34,51.60" stroke="#111" stroke-width="0.6" fill="none"/>
<rect x="520.24" y="46.77" width="2.4" height="2.4" rx="0.5" fill="#111"/>
<path d="M528.48,46.16 L528.48,49.79 M527.58,46.16 L529.38,46.16 M527.58,49.79 L529.38,49.79" stroke="#111" stroke-width="0.6" fill="none"/>
<rect x="527.28" y="46.77" width="2.4" height="2.4" rx="0.5" fill="#111"/>
<path d="M535.55,46.16 L535.55,49.79 M534.65,46.16 L536.45,46.16 M534.65,49.79 L536.45,49.79" stroke="#111" stroke-width="0.6" fill="none"/>
<rect x="534.35" y="46.77" width="2.4" height="2.4" rx="0.5" fill="#111"/>
<path d="M542.64,45.80 L542.64,50.15 M541.74,45.80 L543.54,45.80 M541.74,50.15 L543.54,50.15" stroke="#111" stroke-width="0.6" fill="none"/>
<rect x="541.44" y="46.77" width="2.4" height="2.4" rx="0.5" fill="#111"/>
<path d="M549.74,42.17 L549.74,45.80 M548.84,42.17 L550.64,42.17 M548.84,45.80 L550.64,45.80" stroke="#111" stroke-width="0.6" fill="none"/>
<rect x="548.54" y="42.78" width="2.4" height="2.4" rx="0.5" fill="#111"/>
<path d="M556.82,26.19 L556.82,33.45 M555.92,26.19 L557.72,26.19 M555.92,33.45 L557.72,33.45" stroke="#111" stroke-width="0.6" fill="none"/>
<rect x="555.62" y="28.62" width="2.4" height="2.4" rx="0.5" fill="#111"/>
<path d="M563.91,17.84 L563.91,21.47 M563.01,17.84 L564.81,17.84 M563.01,21.47 L564.81,21.47" stroke="#111" stroke-width="0.6" fill="none"/>
<rect x="562.71" y="18.46" width="2.4" height="2.4" rx="0.5" fill="#111"/>
<path d="M571.00,16.03 L571.00,17.48 M570.10,16.03 L571.90,16.03 M570.10,17.48 L571.90,17.48" stroke="#111" stroke-width="0.6" fill="none"/>
<rect x="569.80" y="15.56" width="2.4" height="2.4" rx="0.5" fill="#111"/>
<line x1="575.5" y1="29" x2="580.5" y2="29" stroke="#111" stroke-width="0.7"/><rect x="576.95" y="27.95" width="2.1" height="2.1" fill="#111"/>
<text transform="translate(582.40,31.10) scale(0.9,1)" x="0" y="0" font-size="5.1" text-anchor="start" fill="#111" >Total</text>
<line x1="575.5" y1="35.6" x2="580.5" y2="35.6" stroke="#ee1c24" stroke-width="0.7"/><rect x="576.95" y="34.550000000000004" width="2.1" height="2.1" fill="#ee1c24"/>
<text transform="translate(582.40,37.70) scale(0.9,1)" x="0" y="0" font-size="5.1" text-anchor="start" fill="#111" >COVA2-15-PF</text>
<clipPath id="c300_116"><rect x="300.6" y="73.1" width="56.39999999999998" height="50.900000000000006"/></clipPath>
<line x1="300.6" y1="116.70" x2="354" y2="116.70" stroke="#b0b0b0" stroke-width="0.7" stroke-dasharray="2.4,1.5"/>
<path d="M300.60,78.80 L300.60,124.00 L354.00,124.00" fill="none" stroke="#222" stroke-width="0.8"/>
<line x1="299.10" y1="79.10" x2="300.60" y2="79.10" stroke="#222" stroke-width="0.6"/>
<text transform="translate(299.20,81.30) scale(0.93,1)" x="0" y="0" font-size="4.9" text-anchor="end" fill="#111" >100</text>
<line x1="299.10" y1="97.90" x2="300.60" y2="97.90" stroke="#222" stroke-width="0.6"/>
<text transform="translate(299.20,100.10) scale(0.93,1)" x="0" y="0" font-size="4.9" text-anchor="end" fill="#111" >50</text>
<line x1="299.10" y1="116.70" x2="300.60" y2="116.70" stroke="#222" stroke-width="0.6"/>
<text transform="translate(299.20,118.90) scale(0.93,1)" x="0" y="0" font-size="4.9" text-anchor="end" fill="#111" >0</text>
<line x1="300.60" y1="124.00" x2="300.60" y2="125.50" stroke="#222" stroke-width="0.6"/>
<text transform="translate(300.60,131.00) scale(0.93,1)" x="0" y="0" font-size="4.9" text-anchor="middle" fill="#111" >0.001</text>
<line x1="313.95" y1="124.00" x2="313.95" y2="125.50" stroke="#222" stroke-width="0.6"/>
<text transform="translate(313.95,131.00) scale(0.93,1)" x="0" y="0" font-size="4.9" text-anchor="middle" fill="#111" >0.01</text>
<line x1="327.30" y1="124.00" x2="327.30" y2="125.50" stroke="#222" stroke-width="0.6"/>
<text transform="translate(327.30,131.00) scale(0.93,1)" x="0" y="0" font-size="4.9" text-anchor="middle" fill="#111" >0.1</text>
<line x1="340.65" y1="124.00" x2="340.65" y2="125.50" stroke="#222" stroke-width="0.6"/>
<text transform="translate(340.65,131.00) scale(0.93,1)" x="0" y="0" font-size="4.9" text-anchor="middle" fill="#111" >1</text>
<line x1="354.00" y1="124.00" x2="354.00" y2="125.50" stroke="#222" stroke-width="0.6"/>
<text transform="translate(354.00,131.00) scale(0.93,1)" x="0" y="0" font-size="4.9" text-anchor="middle" fill="#111" >10</text>
<text transform="translate(327.50,73.60) scale(0.8,1)" x="0" y="0" font-size="5.4" text-anchor="middle" fill="#111" >WT</text>
<path d="M305.94,122.34 L315.29,122.34 L320.62,121.21 L325.30,117.83 L329.30,112.19 L332.64,108.43 L336.64,107.30 L350.00,107.68" fill="none" stroke="#ee1c24" stroke-width="0.8" clip-path="url(#c300_116)"/>
<path d="M305.91,114.11 L306.47,113.94 L307.03,113.76 L307.58,113.55 L308.14,113.32 L308.69,113.07 L309.25,112.80 L309.81,112.50 L310.36,112.17 L310.92,111.81 L311.48,111.42 L312.03,110.99 L312.59,110.53 L313.15,110.04 L313.70,109.51 L314.26,108.94 L314.82,108.34 L315.37,107.70 L315.93,107.03 L316.48,106.33 L317.04,105.60 L317.60,104.85 L318.15,104.07 L318.71,103.28 L319.27,102.48 L319.82,101.67 L320.38,100.86 L320.94,100.05 L321.49,99.25 L322.05,98.47 L322.61,97.70 L323.16,96.96 L323.72,96.25 L324.27,95.56 L324.83,94.91 L325.39,94.29 L325.94,93.71 L326.50,93.16 L327.06,92.65 L327.61,92.17 L328.17,91.73 L328.73,91.32 L329.28,90.95 L329.84,90.60 L330.40,90.29 L330.95,90.00 L331.51,89.74 L332.07,89.50 L332.62,89.28 L333.18,89.09 L333.73,88.91 L334.29,88.75 L334.85,88.61 L335.40,88.48 L335.96,88.36 L336.52,88.26 L337.07,88.17 L337.63,88.08 L338.19,88.01 L338.74,87.94 L339.30,87.88 L339.86,87.82 L340.41,87.78 L340.97,87.73 L341.52,87.69 L342.08,87.66 L342.64,87.63 L343.19,87.60 L343.75,87.58 L344.31,87.55 L344.86,87.53 L345.42,87.52 L345.98,87.50 L346.53,87.49 L347.09,87.47 L347.65,87.46 L348.20,87.45 L348.76,87.44 L349.31,87.44 L349.87,87.43 L350.43,87.42" fill="none" stroke="#111" stroke-width="0.8" clip-path="url(#c300_116)"/>
<path d="M312.20,121.21 L312.20,123.47 M311.30,121.21 L313.10,121.21 M311.30,123.47 L313.10,123.47" stroke="#ee1c24" stroke-width="0.6" fill="none"/>
<rect x="311.00" y="121.14" width="2.4" height="2.4" rx="0.5" fill="#ee1c24"/>
<path d="M318.52,121.21 L318.52,123.47 M317.62,121.21 L319.42,121.21 M317.62,123.47 L319.42,123.47" stroke="#ee1c24" stroke-width="0.6" fill="none"/>
<rect x="317.32" y="121.14" width="2.4" height="2.4" rx="0.5" fill="#ee1c24"/>
<path d="M324.98,116.70 L324.98,118.96 M324.08,116.70 L325.88,116.70 M324.08,118.96 L325.88,118.96" stroke="#ee1c24" stroke-width="0.6" fill="none"/>
<rect x="323.78" y="116.63" width="2.4" height="2.4" rx="0.5" fill="#ee1c24"/>
<path d="M331.32,106.92 L331.32,112.94 M330.42,106.92 L332.22,106.92 M330.42,112.94 L332.22,112.94" stroke="#ee1c24" stroke-width="0.6" fill="none"/>
<rect x="330.12" y="108.73" width="2.4" height="2.4" rx="0.5" fill="#ee1c24"/>
<path d="M337.69,106.55 L337.69,108.05 M336.79,106.55 L338.59,106.55 M336.79,108.05 L338.59,108.05" stroke="#ee1c24" stroke-width="0.6" fill="none"/>
<rect x="336.49" y="106.10" width="2.4" height="2.4" rx="0.5" fill="#ee1c24"/>
<path d="M344.06,106.55 L344.06,108.05 M343.16,106.55 L344.96,106.55 M343.16,108.05 L344.96,108.05" stroke="#ee1c24" stroke-width="0.6" fill="none"/>
<rect x="342.86" y="106.10" width="2.4" height="2.4" rx="0.5" fill="#ee1c24"/>
<path d="M350.43,107.30 L350.43,108.80 M349.53,107.30 L351.33,107.30 M349.53,108.80 L351.33,108.80" stroke="#ee1c24" stroke-width="0.6" fill="none"/>
<rect x="349.23" y="106.85" width="2.4" height="2.4" rx="0.5" fill="#ee1c24"/>
<path d="M305.91,113.32 L305.91,115.57 M305.01,113.32 L306.81,113.32 M305.01,115.57 L306.81,115.57" stroke="#111" stroke-width="0.6" fill="none"/>
<rect x="304.71" y="113.24" width="2.4" height="2.4" rx="0.5" fill="#111"/>
<path d="M312.20,108.43 L312.20,112.19 M311.30,108.43 L313.10,108.43 M311.30,112.19 L313.10,112.19" stroke="#111" stroke-width="0.6" fill="none"/>
<rect x="311.00" y="109.11" width="2.4" height="2.4" rx="0.5" fill="#111"/>
<path d="M318.52,103.54 L318.52,105.80 M317.62,103.54 L319.42,103.54 M317.62,105.80 L319.42,105.80" stroke="#111" stroke-width="0.6" fill="none"/>
<rect x="317.32" y="103.47" width="2.4" height="2.4" rx="0.5" fill="#111"/>
<path d="M324.98,92.64 L324.98,94.14 M324.08,92.64 L325.88,92.64 M324.08,94.14 L325.88,94.14" stroke="#111" stroke-width="0.6" fill="none"/>
<rect x="323.78" y="92.19" width="2.4" height="2.4" rx="0.5" fill="#111"/>
<path d="M331.32,87.75 L331.32,89.25 M330.42,87.75 L332.22,87.75 M330.42,89.25 L332.22,89.25" stroke="#111" stroke-width="0.6" fill="none"/>
<rect x="330.12" y="87.30" width="2.4" height="2.4" rx="0.5" fill="#111"/>
<path d="M337.69,86.62 L337.69,88.12 M336.79,86.62 L338.59,86.62 M336.79,88.12 L338.59,88.12" stroke="#111" stroke-width="0.6" fill="none"/>
<rect x="336.49" y="86.17" width="2.4" height="2.4" rx="0.5" fill="#111"/>
<path d="M344.06,86.24 L344.06,88.50 M343.16,86.24 L344.96,86.24 M343.16,88.50 L344.96,88.50" stroke="#111" stroke-width="0.6" fill="none"/>
<rect x="342.86" y="86.17" width="2.4" height="2.4" rx="0.5" fill="#111"/>
<path d="M350.43,86.62 L350.43,88.12 M349.53,86.62 L351.33,86.62 M349.53,88.12 L351.33,88.12" stroke="#111" stroke-width="0.6" fill="none"/>
<rect x="349.23" y="86.17" width="2.4" height="2.4" rx="0.5" fill="#111"/>
<clipPath id="c373_115"><rect x="373.5" y="72" width="57.0" height="50.8"/></clipPath>
<line x1="373.5" y1="115.40" x2="427.5" y2="115.40" stroke="#b0b0b0" stroke-width="0.7" stroke-dasharray="2.4,1.5"/>
<path d="M373.50,77.70 L373.50,122.80 L427.50,122.80" fill="none" stroke="#222" stroke-width="0.8"/>
<line x1="372.00" y1="78.00" x2="373.50" y2="78.00" stroke="#222" stroke-width="0.6"/>
<text transform="translate(372.10,80.20) scale(0.93,1)" x="0" y="0" font-size="4.9" text-anchor="end" fill="#111" >100</text>
<line x1="372.00" y1="96.70" x2="373.50" y2="96.70" stroke="#222" stroke-width="0.6"/>
<text transform="translate(372.10,98.90) scale(0.93,1)" x="0" y="0" font-size="4.9" text-anchor="end" fill="#111" >50</text>
<line x1="372.00" y1="115.40" x2="373.50" y2="115.40" stroke="#222" stroke-width="0.6"/>
<text transform="translate(372.10,117.60) scale(0.93,1)" x="0" y="0" font-size="4.9" text-anchor="end" fill="#111" >0</text>
<line x1="373.50" y1="122.80" x2="373.50" y2="124.30" stroke="#222" stroke-width="0.6"/>
<text transform="translate(373.50,129.80) scale(0.93,1)" x="0" y="0" font-size="4.9" text-anchor="middle" fill="#111" >0.001</text>
<line x1="387.00" y1="122.80" x2="387.00" y2="124.30" stroke="#222" stroke-width="0.6"/>
<text transform="translate(387.00,129.80) scale(0.93,1)" x="0" y="0" font-size="4.9" text-anchor="middle" fill="#111" >0.01</text>
<line x1="400.50" y1="122.80" x2="400.50" y2="124.30" stroke="#222" stroke-width="0.6"/>
<text transform="translate(400.50,129.80) scale(0.93,1)" x="0" y="0" font-size="4.9" text-anchor="middle" fill="#111" >0.1</text>
<line x1="414.00" y1="122.80" x2="414.00" y2="124.30" stroke="#222" stroke-width="0.6"/>
<text transform="translate(414.00,129.80) scale(0.93,1)" x="0" y="0" font-size="4.9" text-anchor="middle" fill="#111" >1</text>
<line x1="427.50" y1="122.80" x2="427.50" y2="124.30" stroke="#222" stroke-width="0.6"/>
<text transform="translate(427.50,129.80) scale(0.93,1)" x="0" y="0" font-size="4.9" text-anchor="middle" fill="#111" >10</text>
<text transform="translate(400.50,72.40) scale(0.8,1)" x="0" y="0" font-size="5.4" text-anchor="middle" fill="#111" >Alpha</text>
<path d="M397.12,122.88 L403.88,119.14 L410.62,121.76 L416.70,117.27 L423.18,118.02" fill="none" stroke="#ee1c24" stroke-width="0.8" clip-path="url(#c373_115)"/>
<path d="M378.87,118.73 L379.43,118.60 L380.00,118.45 L380.56,118.29 L381.12,118.10 L381.69,117.90 L382.25,117.68 L382.81,117.44 L383.37,117.17 L383.94,116.88 L384.50,116.56 L385.06,116.21 L385.62,115.84 L386.19,115.43 L386.75,114.99 L387.31,114.52 L387.88,114.01 L388.44,113.48 L389.00,112.91 L389.56,112.31 L390.13,111.68 L390.69,111.03 L391.25,110.35 L391.81,109.66 L392.38,108.95 L392.94,108.22 L393.50,107.49 L394.06,106.76 L394.63,106.03 L395.19,105.31 L395.75,104.60 L396.32,103.91 L396.88,103.23 L397.44,102.59 L398.00,101.96 L398.57,101.37 L399.13,100.80 L399.69,100.27 L400.25,99.77 L400.82,99.30 L401.38,98.87 L401.94,98.46 L402.51,98.09 L403.07,97.74 L403.63,97.43 L404.19,97.14 L404.76,96.88 L405.32,96.63 L405.88,96.42 L406.44,96.22 L407.01,96.04 L407.57,95.88 L408.13,95.73 L408.69,95.60 L409.26,95.48 L409.82,95.37 L410.38,95.27 L410.95,95.19 L411.51,95.11 L412.07,95.04 L412.63,94.98 L413.20,94.92 L413.76,94.87 L414.32,94.83 L414.88,94.79 L415.45,94.75 L416.01,94.72 L416.57,94.69 L417.14,94.67 L417.70,94.64 L418.26,94.62 L418.82,94.61 L419.39,94.59 L419.95,94.57 L420.51,94.56 L421.07,94.55 L421.64,94.54 L422.20,94.53 L422.76,94.52 L423.32,94.52 L423.89,94.51" fill="none" stroke="#111" stroke-width="0.8" clip-path="url(#c373_115)"/>
<path d="M391.62,121.76 L391.62,122.80 M390.72,121.76 L392.52,121.76 M390.72,122.80 L392.52,122.80" stroke="#ee1c24" stroke-width="0.6" fill="none"/>
<path d="M404.56,117.64 L404.56,120.64 M403.66,117.64 L405.46,117.64 M403.66,120.64 L405.46,120.64" stroke="#ee1c24" stroke-width="0.6" fill="none"/>
<rect x="403.36" y="117.94" width="2.4" height="2.4" rx="0.5" fill="#ee1c24"/>
<path d="M411.01,119.89 L411.01,122.80 M410.11,119.89 L411.91,119.89 M410.11,122.80 L411.91,122.80" stroke="#ee1c24" stroke-width="0.6" fill="none"/>
<rect x="409.81" y="120.56" width="2.4" height="2.4" rx="0.5" fill="#ee1c24"/>
<path d="M417.45,115.03 L417.45,119.51 M416.55,115.03 L418.35,115.03 M416.55,119.51 L418.35,119.51" stroke="#ee1c24" stroke-width="0.6" fill="none"/>
<rect x="416.25" y="116.07" width="2.4" height="2.4" rx="0.5" fill="#ee1c24"/>
<path d="M423.89,116.15 L423.89,119.89 M422.99,116.15 L424.79,116.15 M422.99,119.89 L424.79,119.89" stroke="#ee1c24" stroke-width="0.6" fill="none"/>
<rect x="422.69" y="116.82" width="2.4" height="2.4" rx="0.5" fill="#ee1c24"/>
<rect x="377.67" y="117.94" width="2.4" height="2.4" rx="0.5" fill="#111"/>
<path d="M385.23,114.65 L385.23,117.64 M384.33,114.65 L386.13,114.65 M384.33,117.64 L386.13,117.64" stroke="#111" stroke-width="0.6" fill="none"/>
<rect x="384.03" y="114.95" width="2.4" height="2.4" rx="0.5" fill="#111"/>
<path d="M391.62,109.79 L391.62,111.29 M390.72,109.79 L392.52,109.79 M390.72,111.29 L392.52,111.29" stroke="#111" stroke-width="0.6" fill="none"/>
<rect x="390.42" y="109.34" width="2.4" height="2.4" rx="0.5" fill="#111"/>
<path d="M398.15,102.68 L398.15,107.17 M397.25,102.68 L399.05,102.68 M397.25,107.17 L399.05,107.17" stroke="#111" stroke-width="0.6" fill="none"/>
<rect x="396.95" y="103.73" width="2.4" height="2.4" rx="0.5" fill="#111"/>
<path d="M404.56,96.70 L404.56,98.20 M403.66,96.70 L405.46,96.70 M403.66,98.20 L405.46,98.20" stroke="#111" stroke-width="0.6" fill="none"/>
<rect x="403.36" y="96.25" width="2.4" height="2.4" rx="0.5" fill="#111"/>
<path d="M411.01,92.59 L411.01,94.83 M410.11,92.59 L411.91,92.59 M410.11,94.83 L411.91,94.83" stroke="#111" stroke-width="0.6" fill="none"/>
<rect x="409.81" y="92.51" width="2.4" height="2.4" rx="0.5" fill="#111"/>
<path d="M417.45,94.08 L417.45,95.58 M416.55,94.08 L418.35,94.08 M416.55,95.58 L418.35,95.58" stroke="#111" stroke-width="0.6" fill="none"/>
<rect x="416.25" y="93.63" width="2.4" height="2.4" rx="0.5" fill="#111"/>
<path d="M423.89,94.08 L423.89,95.58 M422.99,94.08 L424.79,94.08 M422.99,95.58 L424.79,95.58" stroke="#111" stroke-width="0.6" fill="none"/>
<rect x="422.69" y="93.63" width="2.4" height="2.4" rx="0.5" fill="#111"/>
<clipPath id="c442_115"><rect x="442.5" y="71.5" width="59.19999999999999" height="51.3"/></clipPath>
<line x1="442.5" y1="115.40" x2="498.7" y2="115.40" stroke="#b0b0b0" stroke-width="0.7" stroke-dasharray="2.4,1.5"/>
<path d="M442.50,77.20 L442.50,122.80 L498.70,122.80" fill="none" stroke="#222" stroke-width="0.8"/>
<line x1="441.00" y1="77.50" x2="442.50" y2="77.50" stroke="#222" stroke-width="0.6"/>
<text transform="translate(441.10,79.70) scale(0.93,1)" x="0" y="0" font-size="4.9" text-anchor="end" fill="#111" >100</text>
<line x1="441.00" y1="96.45" x2="442.50" y2="96.45" stroke="#222" stroke-width="0.6"/>
<text transform="translate(441.10,98.65) scale(0.93,1)" x="0" y="0" font-size="4.9" text-anchor="end" fill="#111" >50</text>
<line x1="441.00" y1="115.40" x2="442.50" y2="115.40" stroke="#222" stroke-width="0.6"/>
<text transform="translate(441.10,117.60) scale(0.93,1)" x="0" y="0" font-size="4.9" text-anchor="end" fill="#111" >0</text>
<line x1="442.50" y1="122.80" x2="442.50" y2="124.30" stroke="#222" stroke-width="0.6"/>
<text transform="translate(442.50,129.80) scale(0.93,1)" x="0" y="0" font-size="4.9" text-anchor="middle" fill="#111" >0.001</text>
<line x1="456.55" y1="122.80" x2="456.55" y2="124.30" stroke="#222" stroke-width="0.6"/>
<text transform="translate(456.55,129.80) scale(0.93,1)" x="0" y="0" font-size="4.9" text-anchor="middle" fill="#111" >0.01</text>
<line x1="470.60" y1="122.80" x2="470.60" y2="124.30" stroke="#222" stroke-width="0.6"/>
<text transform="translate(470.60,129.80) scale(0.93,1)" x="0" y="0" font-size="4.9" text-anchor="middle" fill="#111" >0.1</text>
<line x1="484.65" y1="122.80" x2="484.65" y2="124.30" stroke="#222" stroke-width="0.6"/>
<text transform="translate(484.65,129.80) scale(0.93,1)" x="0" y="0" font-size="4.9" text-anchor="middle" fill="#111" >1</text>
<line x1="498.70" y1="122.80" x2="498.70" y2="124.30" stroke="#222" stroke-width="0.6"/>
<text transform="translate(498.70,129.80) scale(0.93,1)" x="0" y="0" font-size="4.9" text-anchor="middle" fill="#111" >10</text>
<text transform="translate(471.00,72.40) scale(0.8,1)" x="0" y="0" font-size="5.4" text-anchor="middle" fill="#111" >Beta</text>
<path d="M448.12,115.40 L467.79,115.40 L467.79,110.85 L494.20,111.61" fill="none" stroke="#ee1c24" stroke-width="0.8" clip-path="url(#c442_115)"/>
<path d="M448.09,117.32 L448.68,117.07 L449.26,116.78 L449.85,116.47 L450.43,116.12 L451.02,115.72 L451.60,115.29 L452.19,114.80 L452.78,114.27 L453.36,113.69 L453.95,113.06 L454.53,112.37 L455.12,111.63 L455.70,110.83 L456.29,109.99 L456.88,109.09 L457.46,108.16 L458.05,107.18 L458.63,106.18 L459.22,105.15 L459.80,104.11 L460.39,103.07 L460.97,102.03 L461.56,101.01 L462.15,100.01 L462.73,99.04 L463.32,98.10 L463.90,97.22 L464.49,96.38 L465.07,95.59 L465.66,94.85 L466.25,94.17 L466.83,93.54 L467.42,92.96 L468.00,92.44 L468.59,91.96 L469.17,91.53 L469.76,91.14 L470.34,90.80 L470.93,90.48 L471.52,90.21 L472.10,89.96 L472.69,89.74 L473.27,89.54 L473.86,89.37 L474.44,89.22 L475.03,89.08 L475.61,88.96 L476.20,88.86 L476.79,88.77 L477.37,88.69 L477.96,88.62 L478.54,88.55 L479.13,88.50 L479.71,88.45 L480.30,88.41 L480.89,88.37 L481.47,88.34 L482.06,88.31 L482.64,88.29 L483.23,88.26 L483.81,88.25 L484.40,88.23 L484.98,88.21 L485.57,88.20 L486.16,88.19 L486.74,88.18 L487.33,88.17 L487.91,88.16 L488.50,88.16 L489.08,88.15 L489.67,88.15 L490.26,88.14 L490.84,88.14 L491.43,88.14 L492.01,88.13 L492.60,88.13 L493.18,88.13 L493.77,88.13 L494.35,88.12 L494.94,88.12" fill="none" stroke="#111" stroke-width="0.8" clip-path="url(#c442_115)"/>
<path d="M461.36,116.16 L461.36,120.71 M460.46,116.16 L462.26,116.16 M460.46,120.71 L462.26,120.71" stroke="#ee1c24" stroke-width="0.6" fill="none"/>
<rect x="460.16" y="117.23" width="2.4" height="2.4" rx="0.5" fill="#ee1c24"/>
<path d="M468.16,102.14 L468.16,109.72 M467.26,102.14 L469.06,102.14 M467.26,109.72 L469.06,109.72" stroke="#ee1c24" stroke-width="0.6" fill="none"/>
<rect x="466.96" y="104.73" width="2.4" height="2.4" rx="0.5" fill="#ee1c24"/>
<path d="M474.83,111.99 L474.83,113.50 M473.93,111.99 L475.73,111.99 M473.93,113.50 L475.73,113.50" stroke="#ee1c24" stroke-width="0.6" fill="none"/>
<rect x="473.63" y="111.55" width="2.4" height="2.4" rx="0.5" fill="#ee1c24"/>
<path d="M481.53,108.58 L481.53,110.85 M480.63,108.58 L482.43,108.58 M480.63,110.85 L482.43,110.85" stroke="#ee1c24" stroke-width="0.6" fill="none"/>
<rect x="480.33" y="108.52" width="2.4" height="2.4" rx="0.5" fill="#ee1c24"/>
<path d="M488.24,111.61 L488.24,113.13 M487.34,111.61 L489.14,111.61 M487.34,113.13 L489.14,113.13" stroke="#ee1c24" stroke-width="0.6" fill="none"/>
<rect x="487.04" y="111.17" width="2.4" height="2.4" rx="0.5" fill="#ee1c24"/>
<path d="M494.94,110.47 L494.94,112.75 M494.04,110.47 L495.84,110.47 M494.04,112.75 L495.84,112.75" stroke="#ee1c24" stroke-width="0.6" fill="none"/>
<rect x="493.74" y="110.41" width="2.4" height="2.4" rx="0.5" fill="#ee1c24"/>
<path d="M448.09,115.40 L448.09,121.46 M447.19,115.40 L448.99,115.40 M447.19,121.46 L448.99,121.46" stroke="#111" stroke-width="0.6" fill="none"/>
<rect x="446.89" y="117.23" width="2.4" height="2.4" rx="0.5" fill="#111"/>
<path d="M454.71,111.61 L454.71,113.13 M453.81,111.61 L455.61,111.61 M453.81,113.13 L455.61,113.13" stroke="#111" stroke-width="0.6" fill="none"/>
<rect x="453.51" y="111.17" width="2.4" height="2.4" rx="0.5" fill="#111"/>
<path d="M461.36,102.14 L461.36,105.92 M460.46,102.14 L462.26,102.14 M460.46,105.92 L462.26,105.92" stroke="#111" stroke-width="0.6" fill="none"/>
<rect x="460.16" y="102.83" width="2.4" height="2.4" rx="0.5" fill="#111"/>
<path d="M468.16,92.66 L468.16,94.18 M467.26,92.66 L469.06,92.66 M467.26,94.18 L469.06,94.18" stroke="#111" stroke-width="0.6" fill="none"/>
<rect x="466.96" y="92.22" width="2.4" height="2.4" rx="0.5" fill="#111"/>
<path d="M474.83,90.01 L474.83,91.52 M473.93,90.01 L475.73,90.01 M473.93,91.52 L475.73,91.52" stroke="#111" stroke-width="0.6" fill="none"/>
<rect x="473.63" y="89.56" width="2.4" height="2.4" rx="0.5" fill="#111"/>
<path d="M481.53,87.73 L481.53,90.01 M480.63,87.73 L482.43,87.73 M480.63,90.01 L482.43,90.01" stroke="#111" stroke-width="0.6" fill="none"/>
<rect x="480.33" y="87.67" width="2.4" height="2.4" rx="0.5" fill="#111"/>
<path d="M488.24,87.73 L488.24,90.01 M487.34,87.73 L489.14,87.73 M487.34,90.01 L489.14,90.01" stroke="#111" stroke-width="0.6" fill="none"/>
<rect x="487.04" y="87.67" width="2.4" height="2.4" rx="0.5" fill="#111"/>
<path d="M494.94,87.35 L494.94,88.87 M494.04,87.35 L495.84,87.35 M494.04,88.87 L495.84,88.87" stroke="#111" stroke-width="0.6" fill="none"/>
<rect x="493.74" y="86.91" width="2.4" height="2.4" rx="0.5" fill="#111"/>
<clipPath id="c512_114"><rect x="512.3" y="70.4" width="62.200000000000045" height="52.0"/></clipPath>
<line x1="512.3" y1="114.80" x2="571.5" y2="114.80" stroke="#b0b0b0" stroke-width="0.7" stroke-dasharray="2.4,1.5"/>
<path d="M512.30,76.10 L512.30,122.40 L571.50,122.40" fill="none" stroke="#222" stroke-width="0.8"/>
<line x1="510.80" y1="76.40" x2="512.30" y2="76.40" stroke="#222" stroke-width="0.6"/>
<text transform="translate(510.90,78.60) scale(0.93,1)" x="0" y="0" font-size="4.9" text-anchor="end" fill="#111" >100</text>
<line x1="510.80" y1="95.60" x2="512.30" y2="95.60" stroke="#222" stroke-width="0.6"/>
<text transform="translate(510.90,97.80) scale(0.93,1)" x="0" y="0" font-size="4.9" text-anchor="end" fill="#111" >50</text>
<line x1="510.80" y1="114.80" x2="512.30" y2="114.80" stroke="#222" stroke-width="0.6"/>
<text transform="translate(510.90,117.00) scale(0.93,1)" x="0" y="0" font-size="4.9" text-anchor="end" fill="#111" >0</text>
<line x1="512.30" y1="122.40" x2="512.30" y2="123.90" stroke="#222" stroke-width="0.6"/>
<text transform="translate(512.30,129.40) scale(0.93,1)" x="0" y="0" font-size="4.9" text-anchor="middle" fill="#111" >0.001</text>
<line x1="527.10" y1="122.40" x2="527.10" y2="123.90" stroke="#222" stroke-width="0.6"/>
<text transform="translate(527.10,129.40) scale(0.93,1)" x="0" y="0" font-size="4.9" text-anchor="middle" fill="#111" >0.01</text>
<line x1="541.90" y1="122.40" x2="541.90" y2="123.90" stroke="#222" stroke-width="0.6"/>
<text transform="translate(541.90,129.40) scale(0.93,1)" x="0" y="0" font-size="4.9" text-anchor="middle" fill="#111" >0.1</text>
<line x1="556.70" y1="122.40" x2="556.70" y2="123.90" stroke="#222" stroke-width="0.6"/>
<text transform="translate(556.70,129.40) scale(0.93,1)" x="0" y="0" font-size="4.9" text-anchor="middle" fill="#111" >1</text>
<line x1="571.50" y1="122.40" x2="571.50" y2="123.90" stroke="#222" stroke-width="0.6"/>
<text transform="translate(571.50,129.40) scale(0.93,1)" x="0" y="0" font-size="4.9" text-anchor="middle" fill="#111" >10</text>
<text transform="translate(542.00,70.30) scale(0.8,1)" x="0" y="0" font-size="5.4" text-anchor="middle" fill="#111" >Delta</text>
<path d="M518.19,114.79 L518.81,114.79 L519.42,114.79 L520.04,114.79 L520.66,114.79 L521.27,114.78 L521.89,114.78 L522.51,114.78 L523.12,114.78 L523.74,114.77 L524.36,114.77 L524.98,114.77 L525.59,114.77 L526.21,114.76 L526.83,114.76 L527.44,114.75 L528.06,114.75 L528.68,114.74 L529.29,114.73 L529.91,114.73 L530.53,114.72 L531.14,114.71 L531.76,114.70 L532.38,114.69 L532.99,114.68 L533.61,114.66 L534.23,114.65 L534.85,114.63 L535.46,114.61 L536.08,114.59 L536.70,114.57 L537.31,114.54 L537.93,114.51 L538.55,114.48 L539.16,114.45 L539.78,114.41 L540.40,114.37 L541.01,114.32 L541.63,114.27 L542.25,114.21 L542.86,114.15 L543.48,114.07 L544.10,114.00 L544.72,113.91 L545.33,113.81 L545.95,113.71 L546.57,113.59 L547.18,113.46 L547.80,113.32 L548.42,113.17 L549.03,113.00 L549.65,112.81 L550.27,112.60 L550.88,112.38 L551.50,112.13 L552.12,111.87 L552.73,111.58 L553.35,111.26 L553.97,110.92 L554.59,110.55 L555.20,110.16 L555.82,109.73 L556.44,109.28 L557.05,108.79 L557.67,108.27 L558.29,107.72 L558.90,107.14 L559.52,106.54 L560.14,105.90 L560.75,105.24 L561.37,104.55 L561.99,103.85 L562.60,103.12 L563.22,102.38 L563.84,101.63 L564.46,100.87 L565.07,100.11 L565.69,99.36 L566.31,98.60 L566.92,97.86 L567.54,97.13" fill="none" stroke="#ee1c24" stroke-width="0.8" clip-path="url(#c512_114)"/>
<path d="M518.19,115.43 L518.81,115.13 L519.42,114.80 L520.04,114.43 L520.66,114.02 L521.27,113.58 L521.89,113.09 L522.51,112.55 L523.12,111.97 L523.74,111.33 L524.36,110.65 L524.98,109.92 L525.59,109.13 L526.21,108.30 L526.83,107.42 L527.44,106.50 L528.06,105.54 L528.68,104.55 L529.29,103.53 L529.91,102.49 L530.53,101.44 L531.14,100.39 L531.76,99.34 L532.38,98.30 L532.99,97.29 L533.61,96.30 L534.23,95.34 L534.85,94.43 L535.46,93.55 L536.08,92.73 L536.70,91.95 L537.31,91.22 L537.93,90.54 L538.55,89.92 L539.16,89.34 L539.78,88.81 L540.40,88.32 L541.01,87.88 L541.63,87.48 L542.25,87.12 L542.86,86.79 L543.48,86.49 L544.10,86.23 L544.72,85.99 L545.33,85.78 L545.95,85.59 L546.57,85.42 L547.18,85.27 L547.80,85.13 L548.42,85.01 L549.03,84.91 L549.65,84.81 L550.27,84.73 L550.88,84.65 L551.50,84.59 L552.12,84.53 L552.73,84.48 L553.35,84.43 L553.97,84.39 L554.59,84.35 L555.20,84.32 L555.82,84.29 L556.44,84.27 L557.05,84.25 L557.67,84.23 L558.29,84.21 L558.90,84.19 L559.52,84.18 L560.14,84.17 L560.75,84.16 L561.37,84.15 L561.99,84.14 L562.60,84.13 L563.22,84.13 L563.84,84.12 L564.46,84.12 L565.07,84.11 L565.69,84.11 L566.31,84.11 L566.92,84.10 L567.54,84.10" fill="none" stroke="#111" stroke-width="0.8" clip-path="url(#c512_114)"/>
<path d="M525.16,110.19 L525.16,122.40 M524.26,110.19 L526.06,110.19 M524.26,122.40 L526.06,122.40" stroke="#ee1c24" stroke-width="0.6" fill="none"/>
<rect x="523.96" y="117.44" width="2.4" height="2.4" rx="0.5" fill="#ee1c24"/>
<path d="M532.17,107.50 L532.17,116.72 M531.27,107.50 L533.07,107.50 M531.27,116.72 L533.07,116.72" stroke="#ee1c24" stroke-width="0.6" fill="none"/>
<rect x="530.97" y="110.91" width="2.4" height="2.4" rx="0.5" fill="#ee1c24"/>
<path d="M539.33,112.11 L539.33,115.95 M538.43,112.11 L540.23,112.11 M538.43,115.95 L540.23,115.95" stroke="#ee1c24" stroke-width="0.6" fill="none"/>
<rect x="538.13" y="112.83" width="2.4" height="2.4" rx="0.5" fill="#ee1c24"/>
<path d="M546.36,114.03 L546.36,115.57 M545.46,114.03 L547.26,114.03 M545.46,115.57 L547.26,115.57" stroke="#ee1c24" stroke-width="0.6" fill="none"/>
<rect x="545.16" y="113.60" width="2.4" height="2.4" rx="0.5" fill="#ee1c24"/>
<path d="M553.42,108.27 L553.42,111.34 M552.52,108.27 L554.32,108.27 M552.52,111.34 L554.32,111.34" stroke="#ee1c24" stroke-width="0.6" fill="none"/>
<rect x="552.22" y="108.61" width="2.4" height="2.4" rx="0.5" fill="#ee1c24"/>
<path d="M560.48,105.58 L560.48,107.12 M559.58,105.58 L561.38,105.58 M559.58,107.12 L561.38,107.12" stroke="#ee1c24" stroke-width="0.6" fill="none"/>
<rect x="559.28" y="105.15" width="2.4" height="2.4" rx="0.5" fill="#ee1c24"/>
<path d="M567.54,98.29 L567.54,102.13 M566.64,98.29 L568.44,98.29 M566.64,102.13 L568.44,102.13" stroke="#ee1c24" stroke-width="0.6" fill="none"/>
<rect x="566.34" y="99.01" width="2.4" height="2.4" rx="0.5" fill="#ee1c24"/>
<path d="M518.19,114.80 L518.19,118.64 M517.29,114.80 L519.09,114.80 M517.29,118.64 L519.09,118.64" stroke="#111" stroke-width="0.6" fill="none"/>
<rect x="516.99" y="115.52" width="2.4" height="2.4" rx="0.5" fill="#111"/>
<path d="M525.16,109.04 L525.16,112.88 M524.26,109.04 L526.06,109.04 M524.26,112.88 L526.06,112.88" stroke="#111" stroke-width="0.6" fill="none"/>
<rect x="523.96" y="109.76" width="2.4" height="2.4" rx="0.5" fill="#111"/>
<path d="M532.17,98.67 L532.17,100.21 M531.27,98.67 L533.07,98.67 M531.27,100.21 L533.07,100.21" stroke="#111" stroke-width="0.6" fill="none"/>
<rect x="530.97" y="98.24" width="2.4" height="2.4" rx="0.5" fill="#111"/>
<path d="M539.33,88.69 L539.33,90.99 M538.43,88.69 L540.23,88.69 M538.43,90.99 L540.23,90.99" stroke="#111" stroke-width="0.6" fill="none"/>
<rect x="538.13" y="88.64" width="2.4" height="2.4" rx="0.5" fill="#111"/>
<path d="M546.36,85.23 L546.36,86.77 M545.46,85.23 L547.26,85.23 M545.46,86.77 L547.26,86.77" stroke="#111" stroke-width="0.6" fill="none"/>
<rect x="545.16" y="84.80" width="2.4" height="2.4" rx="0.5" fill="#111"/>
<path d="M553.42,84.08 L553.42,85.62 M552.52,84.08 L554.32,84.08 M552.52,85.62 L554.32,85.62" stroke="#111" stroke-width="0.6" fill="none"/>
<rect x="552.22" y="83.65" width="2.4" height="2.4" rx="0.5" fill="#111"/>
<path d="M560.48,83.70 L560.48,84.46 M559.58,83.70 L561.38,83.70 M559.58,84.46 L561.38,84.46" stroke="#111" stroke-width="0.6" fill="none"/>
<rect x="559.28" y="82.88" width="2.4" height="2.4" rx="0.5" fill="#111"/>
<path d="M567.54,83.31 L567.54,84.85 M566.64,83.31 L568.44,83.31 M566.64,84.85 L568.44,84.85" stroke="#111" stroke-width="0.6" fill="none"/>
<rect x="566.34" y="82.88" width="2.4" height="2.4" rx="0.5" fill="#111"/>
<clipPath id="c585_114"><rect x="585.4" y="69.8" width="58.10000000000002" height="52.8"/></clipPath>
<line x1="585.4" y1="114.90" x2="640.5" y2="114.90" stroke="#b0b0b0" stroke-width="0.7" stroke-dasharray="2.4,1.5"/>
<path d="M585.40,75.50 L585.40,122.60 L640.50,122.60" fill="none" stroke="#222" stroke-width="0.8"/>
<line x1="583.90" y1="75.80" x2="585.40" y2="75.80" stroke="#222" stroke-width="0.6"/>
<text transform="translate(584.00,78.00) scale(0.93,1)" x="0" y="0" font-size="4.9" text-anchor="end" fill="#111" >100</text>
<line x1="583.90" y1="95.35" x2="585.40" y2="95.35" stroke="#222" stroke-width="0.6"/>
<text transform="translate(584.00,97.55) scale(0.93,1)" x="0" y="0" font-size="4.9" text-anchor="end" fill="#111" >50</text>
<line x1="583.90" y1="114.90" x2="585.40" y2="114.90" stroke="#222" stroke-width="0.6"/>
<text transform="translate(584.00,117.10) scale(0.93,1)" x="0" y="0" font-size="4.9" text-anchor="end" fill="#111" >0</text>
<line x1="585.40" y1="122.60" x2="585.40" y2="124.10" stroke="#222" stroke-width="0.6"/>
<text transform="translate(585.40,129.60) scale(0.93,1)" x="0" y="0" font-size="4.9" text-anchor="middle" fill="#111" >0.001</text>
<line x1="599.17" y1="122.60" x2="599.17" y2="124.10" stroke="#222" stroke-width="0.6"/>
<text transform="translate(599.17,129.60) scale(0.93,1)" x="0" y="0" font-size="4.9" text-anchor="middle" fill="#111" >0.01</text>
<line x1="612.95" y1="122.60" x2="612.95" y2="124.10" stroke="#222" stroke-width="0.6"/>
<text transform="translate(612.95,129.60) scale(0.93,1)" x="0" y="0" font-size="4.9" text-anchor="middle" fill="#111" >0.1</text>
<line x1="626.73" y1="122.60" x2="626.73" y2="124.10" stroke="#222" stroke-width="0.6"/>
<text transform="translate(626.73,129.60) scale(0.93,1)" x="0" y="0" font-size="4.9" text-anchor="middle" fill="#111" >1</text>
<line x1="640.50" y1="122.60" x2="640.50" y2="124.10" stroke="#222" stroke-width="0.6"/>
<text transform="translate(640.50,129.60) scale(0.93,1)" x="0" y="0" font-size="4.9" text-anchor="middle" fill="#111" >10</text>
<text transform="translate(613.50,70.80) scale(0.8,1)" x="0" y="0" font-size="5.4" text-anchor="middle" fill="#111" >BA.5</text>
<path d="M591.60,116.07 L610.19,114.90 L610.88,112.16 L636.37,112.16" fill="none" stroke="#ee1c24" stroke-width="0.8" clip-path="url(#c585_114)"/>
<path d="M591.97,114.70 L592.52,114.68 L593.08,114.66 L593.63,114.64 L594.18,114.62 L594.73,114.59 L595.28,114.57 L595.83,114.54 L596.39,114.51 L596.94,114.48 L597.49,114.44 L598.04,114.40 L598.59,114.36 L599.14,114.31 L599.70,114.27 L600.25,114.21 L600.80,114.16 L601.35,114.09 L601.90,114.03 L602.45,113.96 L603.01,113.88 L603.56,113.79 L604.11,113.70 L604.66,113.60 L605.21,113.50 L605.77,113.38 L606.32,113.26 L606.87,113.13 L607.42,112.99 L607.97,112.83 L608.52,112.67 L609.08,112.49 L609.63,112.30 L610.18,112.10 L610.73,111.88 L611.28,111.65 L611.83,111.40 L612.39,111.13 L612.94,110.85 L613.49,110.55 L614.04,110.23 L614.59,109.89 L615.14,109.52 L615.70,109.14 L616.25,108.74 L616.80,108.31 L617.35,107.86 L617.90,107.39 L618.45,106.90 L619.01,106.38 L619.56,105.85 L620.11,105.29 L620.66,104.71 L621.21,104.11 L621.76,103.49 L622.32,102.85 L622.87,102.19 L623.42,101.52 L623.97,100.84 L624.52,100.15 L625.07,99.44 L625.63,98.73 L626.18,98.02 L626.73,97.30 L627.28,96.58 L627.83,95.87 L628.39,95.16 L628.94,94.45 L629.49,93.76 L630.04,93.07 L630.59,92.41 L631.14,91.75 L631.70,91.11 L632.25,90.49 L632.80,89.89 L633.35,89.31 L633.90,88.75 L634.45,88.22 L635.01,87.70 L635.56,87.21 L636.11,86.74" fill="none" stroke="#111" stroke-width="0.8" clip-path="url(#c585_114)"/>
<path d="M591.97,112.16 L591.97,119.98 M591.07,112.16 L592.87,112.16 M591.07,119.98 L592.87,119.98" stroke="#ee1c24" stroke-width="0.6" fill="none"/>
<rect x="590.77" y="114.87" width="2.4" height="2.4" rx="0.5" fill="#ee1c24"/>
<path d="M598.20,114.51 L598.20,116.86 M597.30,114.51 L599.10,114.51 M597.30,116.86 L599.10,116.86" stroke="#ee1c24" stroke-width="0.6" fill="none"/>
<rect x="597.00" y="114.48" width="2.4" height="2.4" rx="0.5" fill="#ee1c24"/>
<path d="M604.66,113.73 L604.66,116.07 M603.76,113.73 L605.56,113.73 M603.76,116.07 L605.56,116.07" stroke="#ee1c24" stroke-width="0.6" fill="none"/>
<rect x="603.46" y="113.70" width="2.4" height="2.4" rx="0.5" fill="#ee1c24"/>
<path d="M610.37,110.21 L610.37,119.59 M609.47,110.21 L611.27,110.21 M609.47,119.59 L611.27,119.59" stroke="#ee1c24" stroke-width="0.6" fill="none"/>
<rect x="609.17" y="113.70" width="2.4" height="2.4" rx="0.5" fill="#ee1c24"/>
<path d="M616.79,110.21 L616.79,111.77 M615.89,110.21 L617.69,110.21 M615.89,111.77 L617.69,111.77" stroke="#ee1c24" stroke-width="0.6" fill="none"/>
<rect x="615.59" y="109.79" width="2.4" height="2.4" rx="0.5" fill="#ee1c24"/>
<path d="M623.15,110.99 L623.15,114.90 M622.25,110.99 L624.05,110.99 M622.25,114.90 L624.05,114.90" stroke="#ee1c24" stroke-width="0.6" fill="none"/>
<rect x="621.95" y="111.75" width="2.4" height="2.4" rx="0.5" fill="#ee1c24"/>
<path d="M629.54,109.82 L629.54,117.64 M628.64,109.82 L630.44,109.82 M628.64,117.64 L630.44,117.64" stroke="#ee1c24" stroke-width="0.6" fill="none"/>
<rect x="628.34" y="112.53" width="2.4" height="2.4" rx="0.5" fill="#ee1c24"/>
<path d="M636.11,109.82 L636.11,116.07 M635.21,109.82 L637.01,109.82 M635.21,116.07 L637.01,116.07" stroke="#ee1c24" stroke-width="0.6" fill="none"/>
<rect x="634.91" y="111.75" width="2.4" height="2.4" rx="0.5" fill="#ee1c24"/>
<path d="M591.97,109.82 L591.97,116.07 M591.07,109.82 L592.87,109.82 M591.07,116.07 L592.87,116.07" stroke="#111" stroke-width="0.6" fill="none"/>
<rect x="590.77" y="111.75" width="2.4" height="2.4" rx="0.5" fill="#111"/>
<path d="M598.20,114.90 L598.20,117.25 M597.30,114.90 L599.10,114.90 M597.30,117.25 L599.10,117.25" stroke="#111" stroke-width="0.6" fill="none"/>
<rect x="597.00" y="114.87" width="2.4" height="2.4" rx="0.5" fill="#111"/>
<path d="M604.66,110.99 L604.66,114.90 M603.76,110.99 L605.56,110.99 M603.76,114.90 L605.56,114.90" stroke="#111" stroke-width="0.6" fill="none"/>
<rect x="603.46" y="111.75" width="2.4" height="2.4" rx="0.5" fill="#111"/>
<path d="M610.37,101.22 L610.37,110.60 M609.47,101.22 L611.27,101.22 M609.47,110.60 L611.27,110.60" stroke="#111" stroke-width="0.6" fill="none"/>
<rect x="609.17" y="104.71" width="2.4" height="2.4" rx="0.5" fill="#111"/>
<path d="M616.79,104.34 L616.79,105.91 M615.89,104.34 L617.69,104.34 M615.89,105.91 L617.69,105.91" stroke="#111" stroke-width="0.6" fill="none"/>
<rect x="615.59" y="103.92" width="2.4" height="2.4" rx="0.5" fill="#111"/>
<path d="M623.15,99.26 L623.15,101.61 M622.25,99.26 L624.05,99.26 M622.25,101.61 L624.05,101.61" stroke="#111" stroke-width="0.6" fill="none"/>
<rect x="621.95" y="99.23" width="2.4" height="2.4" rx="0.5" fill="#111"/>
<path d="M629.54,91.83 L629.54,93.39 M628.64,91.83 L630.44,91.83 M628.64,93.39 L630.44,93.39" stroke="#111" stroke-width="0.6" fill="none"/>
<rect x="628.34" y="91.41" width="2.4" height="2.4" rx="0.5" fill="#111"/>
<path d="M636.11,85.57 L636.11,87.92 M635.21,85.57 L637.01,85.57 M635.21,87.92 L637.01,87.92" stroke="#111" stroke-width="0.6" fill="none"/>
<rect x="634.91" y="85.55" width="2.4" height="2.4" rx="0.5" fill="#111"/>
<line x1="644.2" y1="94" x2="649.2" y2="94" stroke="#111" stroke-width="0.7"/><rect x="645.6500000000001" y="92.95" width="2.1" height="2.1" fill="#111"/>
<text transform="translate(651.10,96.10) scale(0.9,1)" x="0" y="0" font-size="5.1" text-anchor="start" fill="#111" >Undepleted PV</text>
<line x1="644.2" y1="100.3" x2="649.2" y2="100.3" stroke="#ee1c24" stroke-width="0.7"/><rect x="645.6500000000001" y="99.25" width="2.1" height="2.1" fill="#ee1c24"/>
<text transform="translate(651.10,102.40) scale(0.9,1)" x="0" y="0" font-size="5.1" text-anchor="start" fill="#111" >S309-PF</text>
<clipPath id="c301_185"><rect x="301.6" y="141.5" width="56.799999999999955" height="50.900000000000006"/></clipPath>
<line x1="301.6" y1="185.40" x2="355.4" y2="185.40" stroke="#b0b0b0" stroke-width="0.7" stroke-dasharray="2.4,1.5"/>
<path d="M301.60,147.20 L301.60,192.40 L355.40,192.40" fill="none" stroke="#222" stroke-width="0.8"/>
<line x1="300.10" y1="147.50" x2="301.60" y2="147.50" stroke="#222" stroke-width="0.6"/>
<text transform="translate(300.20,149.70) scale(0.93,1)" x="0" y="0" font-size="4.9" text-anchor="end" fill="#111" >100</text>
<line x1="300.10" y1="166.45" x2="301.60" y2="166.45" stroke="#222" stroke-width="0.6"/>
<text transform="translate(300.20,168.65) scale(0.93,1)" x="0" y="0" font-size="4.9" text-anchor="end" fill="#111" >50</text>
<line x1="300.10" y1="185.40" x2="301.60" y2="185.40" stroke="#222" stroke-width="0.6"/>
<text transform="translate(300.20,187.60) scale(0.93,1)" x="0" y="0" font-size="4.9" text-anchor="end" fill="#111" >0</text>
<line x1="301.60" y1="192.40" x2="301.60" y2="193.90" stroke="#222" stroke-width="0.6"/>
<text transform="translate(301.60,199.40) scale(0.93,1)" x="0" y="0" font-size="4.9" text-anchor="middle" fill="#111" >0.001</text>
<line x1="315.05" y1="192.40" x2="315.05" y2="193.90" stroke="#222" stroke-width="0.6"/>
<text transform="translate(315.05,199.40) scale(0.93,1)" x="0" y="0" font-size="4.9" text-anchor="middle" fill="#111" >0.01</text>
<line x1="328.50" y1="192.40" x2="328.50" y2="193.90" stroke="#222" stroke-width="0.6"/>
<text transform="translate(328.50,199.40) scale(0.93,1)" x="0" y="0" font-size="4.9" text-anchor="middle" fill="#111" >0.1</text>
<line x1="341.95" y1="192.40" x2="341.95" y2="193.90" stroke="#222" stroke-width="0.6"/>
<text transform="translate(341.95,199.40) scale(0.93,1)" x="0" y="0" font-size="4.9" text-anchor="middle" fill="#111" >1</text>
<line x1="355.40" y1="192.40" x2="355.40" y2="193.90" stroke="#222" stroke-width="0.6"/>
<text transform="translate(355.40,199.40) scale(0.93,1)" x="0" y="0" font-size="4.9" text-anchor="middle" fill="#111" >10</text>
<text transform="translate(328.50,141.60) scale(0.8,1)" x="0" y="0" font-size="5.4" text-anchor="middle" fill="#111" >WT</text>
<path d="M310.51,179.66 L311.08,179.66 L311.64,179.65 L312.20,179.65 L312.76,179.64 L313.32,179.63 L313.88,179.62 L314.44,179.62 L315.00,179.61 L315.56,179.60 L316.12,179.59 L316.69,179.58 L317.25,179.56 L317.81,179.55 L318.37,179.53 L318.93,179.52 L319.49,179.50 L320.05,179.48 L320.61,179.46 L321.17,179.44 L321.74,179.41 L322.30,179.39 L322.86,179.36 L323.42,179.32 L323.98,179.29 L324.54,179.25 L325.10,179.21 L325.66,179.17 L326.22,179.12 L326.79,179.06 L327.35,179.01 L327.91,178.94 L328.47,178.88 L329.03,178.80 L329.59,178.72 L330.15,178.63 L330.71,178.54 L331.27,178.44 L331.83,178.33 L332.40,178.21 L332.96,178.08 L333.52,177.94 L334.08,177.78 L334.64,177.62 L335.20,177.44 L335.76,177.25 L336.32,177.05 L336.88,176.82 L337.45,176.59 L338.01,176.33 L338.57,176.05 L339.13,175.76 L339.69,175.45 L340.25,175.11 L340.81,174.75 L341.37,174.37 L341.93,173.96 L342.50,173.53 L343.06,173.08 L343.62,172.60 L344.18,172.09 L344.74,171.56 L345.30,171.00 L345.86,170.42 L346.42,169.81 L346.98,169.18 L347.54,168.52 L348.11,167.84 L348.67,167.14 L349.23,166.43 L349.79,165.70 L350.35,164.95 L350.91,164.19 L351.47,163.42 L352.03,162.65 L352.59,161.87 L353.16,161.09 L353.72,160.32 L354.28,159.55 L354.84,158.79 L355.40,158.03" fill="none" stroke="#ee1c24" stroke-width="0.8" clip-path="url(#c301_185)"/>
<path d="M310.51,186.73 L311.08,186.38 L311.64,186.01 L312.20,185.61 L312.76,185.19 L313.32,184.74 L313.88,184.26 L314.44,183.75 L315.00,183.21 L315.56,182.65 L316.12,182.05 L316.69,181.42 L317.25,180.77 L317.81,180.08 L318.37,179.37 L318.93,178.63 L319.49,177.86 L320.05,177.07 L320.61,176.25 L321.17,175.41 L321.74,174.56 L322.30,173.69 L322.86,172.81 L323.42,171.92 L323.98,171.02 L324.54,170.12 L325.10,169.22 L325.66,168.32 L326.22,167.43 L326.79,166.55 L327.35,165.69 L327.91,164.84 L328.47,164.01 L329.03,163.20 L329.59,162.41 L330.15,161.65 L330.71,160.92 L331.27,160.21 L331.83,159.53 L332.40,158.88 L332.96,158.26 L333.52,157.68 L334.08,157.12 L334.64,156.59 L335.20,156.09 L335.76,155.62 L336.32,155.17 L336.88,154.76 L337.45,154.36 L338.01,154.00 L338.57,153.66 L339.13,153.34 L339.69,153.04 L340.25,152.76 L340.81,152.50 L341.37,152.26 L341.93,152.04 L342.50,151.83 L343.06,151.64 L343.62,151.47 L344.18,151.30 L344.74,151.15 L345.30,151.01 L345.86,150.88 L346.42,150.76 L346.98,150.65 L347.54,150.55 L348.11,150.46 L348.67,150.37 L349.23,150.29 L349.79,150.22 L350.35,150.15 L350.91,150.09 L351.47,150.03 L352.03,149.98 L352.59,149.93 L353.16,149.89 L353.72,149.85 L354.28,149.81 L354.84,149.78 L355.40,149.75" fill="none" stroke="#111" stroke-width="0.8" clip-path="url(#c301_185)"/>
<path d="M310.51,177.06 L310.51,186.16 M309.61,177.06 L311.41,177.06 M309.61,186.16 L311.41,186.16" stroke="#ee1c24" stroke-width="0.6" fill="none"/>
<rect x="309.31" y="180.41" width="2.4" height="2.4" rx="0.5" fill="#ee1c24"/>
<path d="M316.89,176.68 L316.89,180.47 M315.99,176.68 L317.79,176.68 M315.99,180.47 L317.79,180.47" stroke="#ee1c24" stroke-width="0.6" fill="none"/>
<rect x="315.69" y="177.38" width="2.4" height="2.4" rx="0.5" fill="#ee1c24"/>
<path d="M323.29,179.72 L323.29,181.99 M322.39,179.72 L324.19,179.72 M322.39,181.99 L324.19,181.99" stroke="#ee1c24" stroke-width="0.6" fill="none"/>
<rect x="322.09" y="179.65" width="2.4" height="2.4" rx="0.5" fill="#ee1c24"/>
<path d="M329.71,177.06 L329.71,178.58 M328.81,177.06 L330.61,177.06 M328.81,178.58 L330.61,178.58" stroke="#ee1c24" stroke-width="0.6" fill="none"/>
<rect x="328.51" y="176.62" width="2.4" height="2.4" rx="0.5" fill="#ee1c24"/>
<path d="M336.14,175.17 L336.14,178.96 M335.24,175.17 L337.04,175.17 M335.24,178.96 L337.04,178.96" stroke="#ee1c24" stroke-width="0.6" fill="none"/>
<rect x="334.94" y="175.86" width="2.4" height="2.4" rx="0.5" fill="#ee1c24"/>
<path d="M342.56,166.07 L342.56,179.72 M341.66,166.07 L343.46,166.07 M341.66,179.72 L343.46,179.72" stroke="#ee1c24" stroke-width="0.6" fill="none"/>
<rect x="341.36" y="171.69" width="2.4" height="2.4" rx="0.5" fill="#ee1c24"/>
<path d="M348.98,165.69 L348.98,167.21 M348.08,165.69 L349.88,165.69 M348.08,167.21 L349.88,167.21" stroke="#ee1c24" stroke-width="0.6" fill="none"/>
<rect x="347.78" y="165.25" width="2.4" height="2.4" rx="0.5" fill="#ee1c24"/>
<path d="M355.40,155.84 L355.40,158.11 M354.50,155.84 L356.30,155.84 M354.50,158.11 L356.30,158.11" stroke="#ee1c24" stroke-width="0.6" fill="none"/>
<rect x="354.20" y="155.78" width="2.4" height="2.4" rx="0.5" fill="#ee1c24"/>
<path d="M310.51,185.40 L310.51,189.19 M309.61,185.40 L311.41,185.40 M309.61,189.19 L311.41,189.19" stroke="#111" stroke-width="0.6" fill="none"/>
<rect x="309.31" y="186.10" width="2.4" height="2.4" rx="0.5" fill="#111"/>
<path d="M316.89,181.23 L316.89,183.50 M315.99,181.23 L317.79,181.23 M315.99,183.50 L317.79,183.50" stroke="#111" stroke-width="0.6" fill="none"/>
<rect x="315.69" y="181.17" width="2.4" height="2.4" rx="0.5" fill="#111"/>
<path d="M323.29,172.89 L323.29,176.68 M322.39,172.89 L324.19,172.89 M322.39,176.68 L324.19,176.68" stroke="#111" stroke-width="0.6" fill="none"/>
<rect x="322.09" y="173.59" width="2.4" height="2.4" rx="0.5" fill="#111"/>
<path d="M329.71,164.55 L329.71,166.07 M328.81,164.55 L330.61,164.55 M328.81,166.07 L330.61,166.07" stroke="#111" stroke-width="0.6" fill="none"/>
<rect x="328.51" y="164.11" width="2.4" height="2.4" rx="0.5" fill="#111"/>
<path d="M336.14,155.84 L336.14,160.39 M335.24,155.84 L337.04,155.84 M335.24,160.39 L337.04,160.39" stroke="#111" stroke-width="0.6" fill="none"/>
<rect x="334.94" y="156.91" width="2.4" height="2.4" rx="0.5" fill="#111"/>
<path d="M342.56,152.43 L342.56,153.94 M341.66,152.43 L343.46,152.43 M341.66,153.94 L343.46,153.94" stroke="#111" stroke-width="0.6" fill="none"/>
<rect x="341.36" y="151.99" width="2.4" height="2.4" rx="0.5" fill="#111"/>
<path d="M348.98,152.05 L348.98,154.32 M348.08,152.05 L349.88,152.05 M348.08,154.32 L349.88,154.32" stroke="#111" stroke-width="0.6" fill="none"/>
<rect x="347.78" y="151.99" width="2.4" height="2.4" rx="0.5" fill="#111"/>
<path d="M355.40,149.39 L355.40,150.91 M354.50,149.39 L356.30,149.39 M354.50,150.91 L356.30,150.91" stroke="#111" stroke-width="0.6" fill="none"/>
<rect x="354.20" y="148.95" width="2.4" height="2.4" rx="0.5" fill="#111"/>
<clipPath id="c374_185"><rect x="374.5" y="141.5" width="56.5" height="51.30000000000001"/></clipPath>
<line x1="374.5" y1="185.40" x2="428" y2="185.40" stroke="#b0b0b0" stroke-width="0.7" stroke-dasharray="2.4,1.5"/>
<path d="M374.50,147.20 L374.50,192.80 L428.00,192.80" fill="none" stroke="#222" stroke-width="0.8"/>
<line x1="373.00" y1="147.50" x2="374.50" y2="147.50" stroke="#222" stroke-width="0.6"/>
<text transform="translate(373.10,149.70) scale(0.93,1)" x="0" y="0" font-size="4.9" text-anchor="end" fill="#111" >100</text>
<line x1="373.00" y1="166.45" x2="374.50" y2="166.45" stroke="#222" stroke-width="0.6"/>
<text transform="translate(373.10,168.65) scale(0.93,1)" x="0" y="0" font-size="4.9" text-anchor="end" fill="#111" >50</text>
<line x1="373.00" y1="185.40" x2="374.50" y2="185.40" stroke="#222" stroke-width="0.6"/>
<text transform="translate(373.10,187.60) scale(0.93,1)" x="0" y="0" font-size="4.9" text-anchor="end" fill="#111" >0</text>
<line x1="374.50" y1="192.80" x2="374.50" y2="194.30" stroke="#222" stroke-width="0.6"/>
<text transform="translate(374.50,199.80) scale(0.93,1)" x="0" y="0" font-size="4.9" text-anchor="middle" fill="#111" >0.001</text>
<line x1="387.88" y1="192.80" x2="387.88" y2="194.30" stroke="#222" stroke-width="0.6"/>
<text transform="translate(387.88,199.80) scale(0.93,1)" x="0" y="0" font-size="4.9" text-anchor="middle" fill="#111" >0.01</text>
<line x1="401.25" y1="192.80" x2="401.25" y2="194.30" stroke="#222" stroke-width="0.6"/>
<text transform="translate(401.25,199.80) scale(0.93,1)" x="0" y="0" font-size="4.9" text-anchor="middle" fill="#111" >0.1</text>
<line x1="414.62" y1="192.80" x2="414.62" y2="194.30" stroke="#222" stroke-width="0.6"/>
<text transform="translate(414.62,199.80) scale(0.93,1)" x="0" y="0" font-size="4.9" text-anchor="middle" fill="#111" >1</text>
<line x1="428.00" y1="192.80" x2="428.00" y2="194.30" stroke="#222" stroke-width="0.6"/>
<text transform="translate(428.00,199.80) scale(0.93,1)" x="0" y="0" font-size="4.9" text-anchor="middle" fill="#111" >10</text>
<text transform="translate(400.80,141.60) scale(0.8,1)" x="0" y="0" font-size="5.4" text-anchor="middle" fill="#111" >Alpha</text>
<path d="M383.36,185.40 L383.92,185.40 L384.48,185.40 L385.04,185.40 L385.60,185.40 L386.15,185.40 L386.71,185.40 L387.27,185.40 L387.83,185.40 L388.39,185.40 L388.94,185.40 L389.50,185.40 L390.06,185.40 L390.62,185.40 L391.18,185.40 L391.73,185.40 L392.29,185.40 L392.85,185.40 L393.41,185.40 L393.97,185.40 L394.52,185.40 L395.08,185.40 L395.64,185.40 L396.20,185.40 L396.76,185.40 L397.31,185.39 L397.87,185.39 L398.43,185.39 L398.99,185.39 L399.54,185.39 L400.10,185.39 L400.66,185.38 L401.22,185.38 L401.78,185.38 L402.33,185.37 L402.89,185.36 L403.45,185.36 L404.01,185.35 L404.57,185.33 L405.12,185.32 L405.68,185.30 L406.24,185.28 L406.80,185.26 L407.36,185.23 L407.91,185.20 L408.47,185.15 L409.03,185.10 L409.59,185.04 L410.15,184.96 L410.70,184.87 L411.26,184.77 L411.82,184.64 L412.38,184.48 L412.94,184.30 L413.49,184.08 L414.05,183.82 L414.61,183.51 L415.17,183.16 L415.73,182.74 L416.28,182.27 L416.84,181.72 L417.40,181.10 L417.96,180.41 L418.51,179.64 L419.07,178.81 L419.63,177.91 L420.19,176.97 L420.75,175.99 L421.30,174.99 L421.86,173.99 L422.42,173.01 L422.98,172.07 L423.54,171.17 L424.09,170.34 L424.65,169.57 L425.21,168.87 L425.77,168.25 L426.33,167.70 L426.88,167.22 L427.44,166.81 L428.00,166.45" fill="none" stroke="#ee1c24" stroke-width="0.8" clip-path="url(#c374_185)"/>
<path d="M383.36,184.02 L383.92,183.96 L384.48,183.89 L385.04,183.82 L385.60,183.74 L386.15,183.65 L386.71,183.55 L387.27,183.45 L387.83,183.33 L388.39,183.21 L388.94,183.07 L389.50,182.92 L390.06,182.76 L390.62,182.58 L391.18,182.39 L391.73,182.19 L392.29,181.96 L392.85,181.72 L393.41,181.46 L393.97,181.18 L394.52,180.88 L395.08,180.56 L395.64,180.21 L396.20,179.84 L396.76,179.45 L397.31,179.03 L397.87,178.59 L398.43,178.12 L398.99,177.63 L399.54,177.12 L400.10,176.58 L400.66,176.02 L401.22,175.44 L401.78,174.84 L402.33,174.22 L402.89,173.59 L403.45,172.95 L404.01,172.30 L404.57,171.64 L405.12,170.97 L405.68,170.31 L406.24,169.65 L406.80,168.99 L407.36,168.34 L407.91,167.70 L408.47,167.08 L409.03,166.47 L409.59,165.88 L410.15,165.31 L410.70,164.76 L411.26,164.24 L411.82,163.74 L412.38,163.26 L412.94,162.80 L413.49,162.37 L414.05,161.97 L414.61,161.59 L415.17,161.23 L415.73,160.90 L416.28,160.58 L416.84,160.29 L417.40,160.02 L417.96,159.77 L418.51,159.54 L419.07,159.32 L419.63,159.13 L420.19,158.94 L420.75,158.77 L421.30,158.62 L421.86,158.48 L422.42,158.35 L422.98,158.23 L423.54,158.12 L424.09,158.02 L424.65,157.92 L425.21,157.84 L425.77,157.76 L426.33,157.69 L426.88,157.63 L427.44,157.57 L428.00,157.52" fill="none" stroke="#111" stroke-width="0.8" clip-path="url(#c374_185)"/>
<path d="M383.36,183.13 L383.36,185.40 M382.46,183.13 L384.26,183.13 M382.46,185.40 L384.26,185.40" stroke="#ee1c24" stroke-width="0.6" fill="none"/>
<rect x="382.16" y="183.06" width="2.4" height="2.4" rx="0.5" fill="#ee1c24"/>
<path d="M389.70,187.29 L389.70,191.09 M388.80,187.29 L390.60,187.29 M388.80,191.09 L390.60,191.09" stroke="#ee1c24" stroke-width="0.6" fill="none"/>
<rect x="388.50" y="187.99" width="2.4" height="2.4" rx="0.5" fill="#ee1c24"/>
<path d="M396.07,187.30 L396.07,188.05 M395.17,187.30 L396.97,187.30 M395.17,188.05 L396.97,188.05" stroke="#ee1c24" stroke-width="0.6" fill="none"/>
<rect x="394.87" y="186.47" width="2.4" height="2.4" rx="0.5" fill="#ee1c24"/>
<path d="M402.45,183.88 L402.45,185.40 M401.55,183.88 L403.35,183.88 M401.55,185.40 L403.35,185.40" stroke="#ee1c24" stroke-width="0.6" fill="none"/>
<rect x="401.25" y="183.44" width="2.4" height="2.4" rx="0.5" fill="#ee1c24"/>
<path d="M408.85,184.26 L408.85,185.78 M407.95,184.26 L409.75,184.26 M407.95,185.78 L409.75,185.78" stroke="#ee1c24" stroke-width="0.6" fill="none"/>
<rect x="407.65" y="183.82" width="2.4" height="2.4" rx="0.5" fill="#ee1c24"/>
<path d="M415.23,181.99 L415.23,184.26 M414.33,181.99 L416.13,181.99 M414.33,184.26 L416.13,184.26" stroke="#ee1c24" stroke-width="0.6" fill="none"/>
<rect x="414.03" y="181.93" width="2.4" height="2.4" rx="0.5" fill="#ee1c24"/>
<path d="M421.61,174.41 L421.61,175.93 M420.71,174.41 L422.51,174.41 M420.71,175.93 L422.51,175.93" stroke="#ee1c24" stroke-width="0.6" fill="none"/>
<rect x="420.41" y="173.97" width="2.4" height="2.4" rx="0.5" fill="#ee1c24"/>
<path d="M428.00,166.07 L428.00,168.34 M427.10,166.07 L428.90,166.07 M427.10,168.34 L428.90,168.34" stroke="#ee1c24" stroke-width="0.6" fill="none"/>
<rect x="426.80" y="166.01" width="2.4" height="2.4" rx="0.5" fill="#ee1c24"/>
<path d="M383.36,182.37 L383.36,186.92 M382.46,182.37 L384.26,182.37 M382.46,186.92 L384.26,186.92" stroke="#111" stroke-width="0.6" fill="none"/>
<rect x="382.16" y="183.44" width="2.4" height="2.4" rx="0.5" fill="#111"/>
<path d="M389.70,182.75 L389.70,184.26 M388.80,182.75 L390.60,182.75 M388.80,184.26 L390.60,184.26" stroke="#111" stroke-width="0.6" fill="none"/>
<rect x="388.50" y="182.31" width="2.4" height="2.4" rx="0.5" fill="#111"/>
<path d="M396.07,180.85 L396.07,182.37 M395.17,180.85 L396.97,180.85 M395.17,182.37 L396.97,182.37" stroke="#111" stroke-width="0.6" fill="none"/>
<rect x="394.87" y="180.41" width="2.4" height="2.4" rx="0.5" fill="#111"/>
<path d="M402.45,175.17 L402.45,178.96 M401.55,175.17 L403.35,175.17 M401.55,178.96 L403.35,178.96" stroke="#111" stroke-width="0.6" fill="none"/>
<rect x="401.25" y="175.86" width="2.4" height="2.4" rx="0.5" fill="#111"/>
<path d="M408.85,166.45 L408.85,168.72 M407.95,166.45 L409.75,166.45 M407.95,168.72 L409.75,168.72" stroke="#111" stroke-width="0.6" fill="none"/>
<rect x="407.65" y="166.39" width="2.4" height="2.4" rx="0.5" fill="#111"/>
<path d="M415.23,162.28 L415.23,164.56 M414.33,162.28 L416.13,162.28 M414.33,164.56 L416.13,164.56" stroke="#111" stroke-width="0.6" fill="none"/>
<rect x="414.03" y="162.22" width="2.4" height="2.4" rx="0.5" fill="#111"/>
<path d="M421.61,158.87 L421.61,160.39 M420.71,158.87 L422.51,158.87 M420.71,160.39 L422.51,160.39" stroke="#111" stroke-width="0.6" fill="none"/>
<rect x="420.41" y="158.43" width="2.4" height="2.4" rx="0.5" fill="#111"/>
<path d="M428.00,157.35 L428.00,158.11 M427.10,157.35 L428.90,157.35 M427.10,158.11 L428.90,158.11" stroke="#111" stroke-width="0.6" fill="none"/>
<rect x="426.80" y="156.53" width="2.4" height="2.4" rx="0.5" fill="#111"/>
<clipPath id="c442_185"><rect x="442.7" y="142.1" width="60.900000000000034" height="50.900000000000006"/></clipPath>
<line x1="442.7" y1="185.60" x2="500.6" y2="185.60" stroke="#b0b0b0" stroke-width="0.7" stroke-dasharray="2.4,1.5"/>
<path d="M442.70,147.80 L442.70,193.00 L500.60,193.00" fill="none" stroke="#222" stroke-width="0.8"/>
<line x1="441.20" y1="148.10" x2="442.70" y2="148.10" stroke="#222" stroke-width="0.6"/>
<text transform="translate(441.30,150.30) scale(0.93,1)" x="0" y="0" font-size="4.9" text-anchor="end" fill="#111" >100</text>
<line x1="441.20" y1="166.85" x2="442.70" y2="166.85" stroke="#222" stroke-width="0.6"/>
<text transform="translate(441.30,169.05) scale(0.93,1)" x="0" y="0" font-size="4.9" text-anchor="end" fill="#111" >50</text>
<line x1="441.20" y1="185.60" x2="442.70" y2="185.60" stroke="#222" stroke-width="0.6"/>
<text transform="translate(441.30,187.80) scale(0.93,1)" x="0" y="0" font-size="4.9" text-anchor="end" fill="#111" >0</text>
<line x1="442.70" y1="193.00" x2="442.70" y2="194.50" stroke="#222" stroke-width="0.6"/>
<text transform="translate(442.70,200.00) scale(0.93,1)" x="0" y="0" font-size="4.9" text-anchor="middle" fill="#111" >0.001</text>
<line x1="457.18" y1="193.00" x2="457.18" y2="194.50" stroke="#222" stroke-width="0.6"/>
<text transform="translate(457.18,200.00) scale(0.93,1)" x="0" y="0" font-size="4.9" text-anchor="middle" fill="#111" >0.01</text>
<line x1="471.65" y1="193.00" x2="471.65" y2="194.50" stroke="#222" stroke-width="0.6"/>
<text transform="translate(471.65,200.00) scale(0.93,1)" x="0" y="0" font-size="4.9" text-anchor="middle" fill="#111" >0.1</text>
<line x1="486.12" y1="193.00" x2="486.12" y2="194.50" stroke="#222" stroke-width="0.6"/>
<text transform="translate(486.12,200.00) scale(0.93,1)" x="0" y="0" font-size="4.9" text-anchor="middle" fill="#111" >1</text>
<line x1="500.60" y1="193.00" x2="500.60" y2="194.50" stroke="#222" stroke-width="0.6"/>
<text transform="translate(500.60,200.00) scale(0.93,1)" x="0" y="0" font-size="4.9" text-anchor="middle" fill="#111" >10</text>
<text transform="translate(471.30,142.00) scale(0.8,1)" x="0" y="0" font-size="5.4" text-anchor="middle" fill="#111" >Beta</text>
<path d="M477.44,193.85 L482.51,192.72 L486.12,190.85 L490.47,187.85 L494.09,183.72 L497.71,176.22 L500.31,166.85" fill="none" stroke="#ee1c24" stroke-width="0.8" clip-path="url(#c442_185)"/>
<path d="M452.29,186.24 L452.90,186.18 L453.50,186.11 L454.10,186.03 L454.71,185.94 L455.31,185.84 L455.92,185.72 L456.52,185.59 L457.12,185.45 L457.73,185.29 L458.33,185.11 L458.94,184.91 L459.54,184.68 L460.14,184.43 L460.75,184.15 L461.35,183.84 L461.95,183.49 L462.56,183.11 L463.16,182.69 L463.77,182.23 L464.37,181.73 L464.97,181.19 L465.58,180.59 L466.18,179.96 L466.79,179.27 L467.39,178.54 L467.99,177.77 L468.60,176.95 L469.20,176.09 L469.80,175.20 L470.41,174.28 L471.01,173.34 L471.62,172.38 L472.22,171.41 L472.82,170.44 L473.43,169.47 L474.03,168.52 L474.64,167.59 L475.24,166.68 L475.84,165.81 L476.45,164.97 L477.05,164.17 L477.65,163.42 L478.26,162.71 L478.86,162.05 L479.47,161.43 L480.07,160.87 L480.67,160.34 L481.28,159.86 L481.88,159.42 L482.49,159.02 L483.09,158.66 L483.69,158.33 L484.30,158.04 L484.90,157.77 L485.50,157.53 L486.11,157.32 L486.71,157.13 L487.32,156.95 L487.92,156.80 L488.52,156.67 L489.13,156.54 L489.73,156.44 L490.33,156.34 L490.94,156.26 L491.54,156.18 L492.15,156.11 L492.75,156.05 L493.35,156.00 L493.96,155.95 L494.56,155.91 L495.17,155.88 L495.77,155.84 L496.37,155.82 L496.98,155.79 L497.58,155.77 L498.18,155.75 L498.79,155.73 L499.39,155.72 L500.00,155.70 L500.60,155.69" fill="none" stroke="#111" stroke-width="0.8" clip-path="url(#c442_185)"/>
<path d="M486.78,186.35 L486.78,193.00 M485.88,186.35 L487.68,186.35 M485.88,193.00 L487.68,193.00" stroke="#ee1c24" stroke-width="0.6" fill="none"/>
<rect x="485.58" y="188.90" width="2.4" height="2.4" rx="0.5" fill="#ee1c24"/>
<path d="M493.69,180.72 L493.69,188.22 M492.79,180.72 L494.59,180.72 M492.79,188.22 L494.59,188.22" stroke="#ee1c24" stroke-width="0.6" fill="none"/>
<rect x="492.49" y="183.28" width="2.4" height="2.4" rx="0.5" fill="#ee1c24"/>
<path d="M500.60,158.22 L500.60,171.72 M499.70,158.22 L501.50,158.22 M499.70,171.72 L501.50,171.72" stroke="#ee1c24" stroke-width="0.6" fill="none"/>
<rect x="499.40" y="163.78" width="2.4" height="2.4" rx="0.5" fill="#ee1c24"/>
<path d="M452.29,184.47 L452.29,188.22 M451.39,184.47 L453.19,184.47 M451.39,188.22 L453.19,188.22" stroke="#111" stroke-width="0.6" fill="none"/>
<rect x="451.09" y="185.15" width="2.4" height="2.4" rx="0.5" fill="#111"/>
<path d="M459.15,183.72 L459.15,187.47 M458.25,183.72 L460.05,183.72 M458.25,187.47 L460.05,187.47" stroke="#111" stroke-width="0.6" fill="none"/>
<rect x="457.95" y="184.40" width="2.4" height="2.4" rx="0.5" fill="#111"/>
<rect x="464.85" y="178.78" width="2.4" height="2.4" rx="0.5" fill="#111"/>
<path d="M472.95,166.47 L472.95,172.47 M472.05,166.47 L473.85,166.47 M472.05,172.47 L473.85,172.47" stroke="#111" stroke-width="0.6" fill="none"/>
<rect x="471.75" y="168.28" width="2.4" height="2.4" rx="0.5" fill="#111"/>
<path d="M479.87,159.72 L479.87,161.22 M478.97,159.72 L480.77,159.72 M478.97,161.22 L480.77,161.22" stroke="#111" stroke-width="0.6" fill="none"/>
<rect x="478.67" y="159.28" width="2.4" height="2.4" rx="0.5" fill="#111"/>
<path d="M486.78,155.22 L486.78,158.22 M485.88,155.22 L487.68,155.22 M485.88,158.22 L487.68,158.22" stroke="#111" stroke-width="0.6" fill="none"/>
<rect x="485.58" y="155.53" width="2.4" height="2.4" rx="0.5" fill="#111"/>
<path d="M493.69,155.60 L493.69,157.10 M492.79,155.60 L494.59,155.60 M492.79,157.10 L494.59,157.10" stroke="#111" stroke-width="0.6" fill="none"/>
<rect x="492.49" y="155.15" width="2.4" height="2.4" rx="0.5" fill="#111"/>
<path d="M500.60,154.85 L500.60,156.35 M499.70,154.85 L501.50,154.85 M499.70,156.35 L501.50,156.35" stroke="#111" stroke-width="0.6" fill="none"/>
<rect x="499.40" y="154.40" width="2.4" height="2.4" rx="0.5" fill="#111"/>
<clipPath id="c512_185"><rect x="512.7" y="142.1" width="60.89999999999998" height="50.70000000000002"/></clipPath>
<line x1="512.7" y1="185.60" x2="570.6" y2="185.60" stroke="#b0b0b0" stroke-width="0.7" stroke-dasharray="2.4,1.5"/>
<path d="M512.70,147.80 L512.70,192.80 L570.60,192.80" fill="none" stroke="#222" stroke-width="0.8"/>
<line x1="511.20" y1="148.10" x2="512.70" y2="148.10" stroke="#222" stroke-width="0.6"/>
<text transform="translate(511.30,150.30) scale(0.93,1)" x="0" y="0" font-size="4.9" text-anchor="end" fill="#111" >100</text>
<line x1="511.20" y1="166.85" x2="512.70" y2="166.85" stroke="#222" stroke-width="0.6"/>
<text transform="translate(511.30,169.05) scale(0.93,1)" x="0" y="0" font-size="4.9" text-anchor="end" fill="#111" >50</text>
<line x1="511.20" y1="185.60" x2="512.70" y2="185.60" stroke="#222" stroke-width="0.6"/>
<text transform="translate(511.30,187.80) scale(0.93,1)" x="0" y="0" font-size="4.9" text-anchor="end" fill="#111" >0</text>
<line x1="512.70" y1="192.80" x2="512.70" y2="194.30" stroke="#222" stroke-width="0.6"/>
<text transform="translate(512.70,199.80) scale(0.93,1)" x="0" y="0" font-size="4.9" text-anchor="middle" fill="#111" >0.001</text>
<line x1="527.18" y1="192.80" x2="527.18" y2="194.30" stroke="#222" stroke-width="0.6"/>
<text transform="translate(527.18,199.80) scale(0.93,1)" x="0" y="0" font-size="4.9" text-anchor="middle" fill="#111" >0.01</text>
<line x1="541.65" y1="192.80" x2="541.65" y2="194.30" stroke="#222" stroke-width="0.6"/>
<text transform="translate(541.65,199.80) scale(0.93,1)" x="0" y="0" font-size="4.9" text-anchor="middle" fill="#111" >0.1</text>
<line x1="556.12" y1="192.80" x2="556.12" y2="194.30" stroke="#222" stroke-width="0.6"/>
<text transform="translate(556.12,199.80) scale(0.93,1)" x="0" y="0" font-size="4.9" text-anchor="middle" fill="#111" >1</text>
<line x1="570.60" y1="192.80" x2="570.60" y2="194.30" stroke="#222" stroke-width="0.6"/>
<text transform="translate(570.60,199.80) scale(0.93,1)" x="0" y="0" font-size="4.9" text-anchor="middle" fill="#111" >10</text>
<text transform="translate(541.30,142.00) scale(0.8,1)" x="0" y="0" font-size="5.4" text-anchor="middle" fill="#111" >Delta</text>
<path d="M522.29,185.46 L522.90,185.44 L523.50,185.43 L524.10,185.42 L524.71,185.40 L525.31,185.38 L525.92,185.36 L526.52,185.34 L527.12,185.32 L527.73,185.30 L528.33,185.27 L528.94,185.25 L529.54,185.22 L530.14,185.19 L530.75,185.15 L531.35,185.11 L531.95,185.07 L532.56,185.03 L533.16,184.98 L533.77,184.93 L534.37,184.87 L534.97,184.81 L535.58,184.74 L536.18,184.67 L536.79,184.60 L537.39,184.51 L537.99,184.42 L538.60,184.33 L539.20,184.22 L539.80,184.11 L540.41,183.99 L541.01,183.86 L541.62,183.71 L542.22,183.56 L542.82,183.40 L543.43,183.22 L544.03,183.03 L544.64,182.83 L545.24,182.61 L545.84,182.37 L546.45,182.12 L547.05,181.85 L547.65,181.57 L548.26,181.26 L548.86,180.93 L549.47,180.58 L550.07,180.21 L550.67,179.82 L551.28,179.40 L551.88,178.96 L552.49,178.49 L553.09,177.99 L553.69,177.47 L554.30,176.93 L554.90,176.36 L555.50,175.76 L556.11,175.13 L556.71,174.48 L557.32,173.81 L557.92,173.11 L558.52,172.39 L559.13,171.64 L559.73,170.88 L560.33,170.10 L560.94,169.30 L561.54,168.49 L562.15,167.66 L562.75,166.83 L563.35,166.00 L563.96,165.15 L564.56,164.31 L565.17,163.47 L565.77,162.64 L566.37,161.81 L566.98,160.99 L567.58,160.19 L568.18,159.40 L568.79,158.63 L569.39,157.88 L570.00,157.15 L570.60,156.44" fill="none" stroke="#ee1c24" stroke-width="0.8" clip-path="url(#c512_185)"/>
<path d="M522.29,185.48 L522.90,185.27 L523.50,185.04 L524.10,184.79 L524.71,184.52 L525.31,184.22 L525.92,183.89 L526.52,183.53 L527.12,183.14 L527.73,182.72 L528.33,182.26 L528.94,181.77 L529.54,181.24 L530.14,180.67 L530.75,180.06 L531.35,179.42 L531.95,178.73 L532.56,178.00 L533.16,177.23 L533.77,176.43 L534.37,175.58 L534.97,174.71 L535.58,173.81 L536.18,172.88 L536.79,171.92 L537.39,170.95 L537.99,169.97 L538.60,168.98 L539.20,167.99 L539.80,167.01 L540.41,166.03 L541.01,165.07 L541.62,164.13 L542.22,163.21 L542.82,162.32 L543.43,161.46 L544.03,160.64 L544.64,159.85 L545.24,159.10 L545.84,158.39 L546.45,157.72 L547.05,157.09 L547.65,156.50 L548.26,155.95 L548.86,155.44 L549.47,154.96 L550.07,154.53 L550.67,154.12 L551.28,153.75 L551.88,153.40 L552.49,153.09 L553.09,152.80 L553.69,152.53 L554.30,152.29 L554.90,152.07 L555.50,151.87 L556.11,151.69 L556.71,151.53 L557.32,151.38 L557.92,151.24 L558.52,151.12 L559.13,151.01 L559.73,150.91 L560.33,150.81 L560.94,150.73 L561.54,150.66 L562.15,150.59 L562.75,150.53 L563.35,150.47 L563.96,150.43 L564.56,150.38 L565.17,150.34 L565.77,150.30 L566.37,150.27 L566.98,150.24 L567.58,150.22 L568.18,150.19 L568.79,150.17 L569.39,150.15 L570.00,150.13 L570.60,150.12" fill="none" stroke="#111" stroke-width="0.8" clip-path="url(#c512_185)"/>
<path d="M522.29,182.60 L522.29,187.10 M521.39,182.60 L523.19,182.60 M521.39,187.10 L523.19,187.10" stroke="#ee1c24" stroke-width="0.6" fill="none"/>
<rect x="521.09" y="183.65" width="2.4" height="2.4" rx="0.5" fill="#ee1c24"/>
<path d="M529.15,183.72 L529.15,185.97 M528.25,183.72 L530.05,183.72 M528.25,185.97 L530.05,185.97" stroke="#ee1c24" stroke-width="0.6" fill="none"/>
<rect x="527.95" y="183.65" width="2.4" height="2.4" rx="0.5" fill="#ee1c24"/>
<path d="M536.05,185.22 L536.05,185.97 M535.15,185.22 L536.95,185.22 M535.15,185.97 L536.95,185.97" stroke="#ee1c24" stroke-width="0.6" fill="none"/>
<rect x="534.85" y="184.40" width="2.4" height="2.4" rx="0.5" fill="#ee1c24"/>
<path d="M542.95,182.22 L542.95,183.72 M542.05,182.22 L543.85,182.22 M542.05,183.72 L543.85,183.72" stroke="#ee1c24" stroke-width="0.6" fill="none"/>
<rect x="541.75" y="181.78" width="2.4" height="2.4" rx="0.5" fill="#ee1c24"/>
<path d="M549.87,177.72 L549.87,182.22 M548.97,177.72 L550.77,177.72 M548.97,182.22 L550.77,182.22" stroke="#ee1c24" stroke-width="0.6" fill="none"/>
<rect x="548.67" y="178.78" width="2.4" height="2.4" rx="0.5" fill="#ee1c24"/>
<path d="M556.78,174.35 L556.78,176.60 M555.88,174.35 L557.68,174.35 M555.88,176.60 L557.68,176.60" stroke="#ee1c24" stroke-width="0.6" fill="none"/>
<rect x="555.58" y="174.28" width="2.4" height="2.4" rx="0.5" fill="#ee1c24"/>
<path d="M563.69,166.10 L563.69,169.10 M562.79,166.10 L564.59,166.10 M562.79,169.10 L564.59,169.10" stroke="#ee1c24" stroke-width="0.6" fill="none"/>
<rect x="562.49" y="166.40" width="2.4" height="2.4" rx="0.5" fill="#ee1c24"/>
<path d="M570.60,157.47 L570.60,161.22 M569.70,157.47 L571.50,157.47 M569.70,161.22 L571.50,161.22" stroke="#ee1c24" stroke-width="0.6" fill="none"/>
<rect x="569.40" y="158.15" width="2.4" height="2.4" rx="0.5" fill="#ee1c24"/>
<path d="M522.29,185.22 L522.29,188.97 M521.39,185.22 L523.19,185.22 M521.39,188.97 L523.19,188.97" stroke="#111" stroke-width="0.6" fill="none"/>
<rect x="521.09" y="185.90" width="2.4" height="2.4" rx="0.5" fill="#111"/>
<path d="M529.15,179.22 L529.15,182.97 M528.25,179.22 L530.05,179.22 M528.25,182.97 L530.05,182.97" stroke="#111" stroke-width="0.6" fill="none"/>
<rect x="527.95" y="179.90" width="2.4" height="2.4" rx="0.5" fill="#111"/>
<path d="M536.05,173.60 L536.05,177.35 M535.15,173.60 L536.95,173.60 M535.15,177.35 L536.95,177.35" stroke="#111" stroke-width="0.6" fill="none"/>
<rect x="534.85" y="174.28" width="2.4" height="2.4" rx="0.5" fill="#111"/>
<path d="M542.95,162.35 L542.95,163.85 M542.05,162.35 L543.85,162.35 M542.05,163.85 L543.85,163.85" stroke="#111" stroke-width="0.6" fill="none"/>
<rect x="541.75" y="161.90" width="2.4" height="2.4" rx="0.5" fill="#111"/>
<path d="M549.87,154.85 L549.87,156.35 M548.97,154.85 L550.77,154.85 M548.97,156.35 L550.77,156.35" stroke="#111" stroke-width="0.6" fill="none"/>
<rect x="548.67" y="154.40" width="2.4" height="2.4" rx="0.5" fill="#111"/>
<path d="M556.78,151.47 L556.78,152.22 M555.88,151.47 L557.68,151.47 M555.88,152.22 L557.68,152.22" stroke="#111" stroke-width="0.6" fill="none"/>
<rect x="555.58" y="150.65" width="2.4" height="2.4" rx="0.5" fill="#111"/>
<path d="M563.69,150.35 L563.69,151.10 M562.79,150.35 L564.59,150.35 M562.79,151.10 L564.59,151.10" stroke="#111" stroke-width="0.6" fill="none"/>
<rect x="562.49" y="149.53" width="2.4" height="2.4" rx="0.5" fill="#111"/>
<path d="M570.60,150.35 L570.60,151.10 M569.70,150.35 L571.50,150.35 M569.70,151.10 L571.50,151.10" stroke="#111" stroke-width="0.6" fill="none"/>
<rect x="569.40" y="149.53" width="2.4" height="2.4" rx="0.5" fill="#111"/>
<clipPath id="c586_185"><rect x="586.4" y="141.9" width="59.200000000000045" height="50.69999999999999"/></clipPath>
<line x1="586.4" y1="185.30" x2="642.6" y2="185.30" stroke="#b0b0b0" stroke-width="0.7" stroke-dasharray="2.4,1.5"/>
<path d="M586.40,147.60 L586.40,192.60 L642.60,192.60" fill="none" stroke="#222" stroke-width="0.8"/>
<line x1="584.90" y1="147.90" x2="586.40" y2="147.90" stroke="#222" stroke-width="0.6"/>
<text transform="translate(585.00,150.10) scale(0.93,1)" x="0" y="0" font-size="4.9" text-anchor="end" fill="#111" >100</text>
<line x1="584.90" y1="166.60" x2="586.40" y2="166.60" stroke="#222" stroke-width="0.6"/>
<text transform="translate(585.00,168.80) scale(0.93,1)" x="0" y="0" font-size="4.9" text-anchor="end" fill="#111" >50</text>
<line x1="584.90" y1="185.30" x2="586.40" y2="185.30" stroke="#222" stroke-width="0.6"/>
<text transform="translate(585.00,187.50) scale(0.93,1)" x="0" y="0" font-size="4.9" text-anchor="end" fill="#111" >0</text>
<line x1="586.40" y1="192.60" x2="586.40" y2="194.10" stroke="#222" stroke-width="0.6"/>
<text transform="translate(586.40,199.60) scale(0.93,1)" x="0" y="0" font-size="4.9" text-anchor="middle" fill="#111" >0.001</text>
<line x1="600.45" y1="192.60" x2="600.45" y2="194.10" stroke="#222" stroke-width="0.6"/>
<text transform="translate(600.45,199.60) scale(0.93,1)" x="0" y="0" font-size="4.9" text-anchor="middle" fill="#111" >0.01</text>
<line x1="614.50" y1="192.60" x2="614.50" y2="194.10" stroke="#222" stroke-width="0.6"/>
<text transform="translate(614.50,199.60) scale(0.93,1)" x="0" y="0" font-size="4.9" text-anchor="middle" fill="#111" >0.1</text>
<line x1="628.55" y1="192.60" x2="628.55" y2="194.10" stroke="#222" stroke-width="0.6"/>
<text transform="translate(628.55,199.60) scale(0.93,1)" x="0" y="0" font-size="4.9" text-anchor="middle" fill="#111" >1</text>
<line x1="642.60" y1="192.60" x2="642.60" y2="194.10" stroke="#222" stroke-width="0.6"/>
<text transform="translate(642.60,199.60) scale(0.93,1)" x="0" y="0" font-size="4.9" text-anchor="middle" fill="#111" >10</text>
<text transform="translate(614.50,142.60) scale(0.8,1)" x="0" y="0" font-size="5.4" text-anchor="middle" fill="#111" >BA.5</text>
<path d="M594.83,184.18 L607.48,184.55 L614.50,184.93 L620.12,186.05 L624.34,188.29 L627.14,190.54 L629.96,192.78 L631.36,194.28" fill="none" stroke="#ee1c24" stroke-width="0.8" clip-path="url(#c586_185)"/>
<path d="M595.71,184.73 L596.30,184.71 L596.88,184.68 L597.47,184.65 L598.06,184.61 L598.64,184.57 L599.23,184.52 L599.81,184.47 L600.40,184.41 L600.99,184.35 L601.57,184.28 L602.16,184.20 L602.74,184.11 L603.33,184.01 L603.92,183.90 L604.50,183.77 L605.09,183.64 L605.68,183.49 L606.26,183.33 L606.85,183.15 L607.43,182.96 L608.02,182.75 L608.61,182.52 L609.19,182.28 L609.78,182.02 L610.36,181.75 L610.95,181.46 L611.54,181.16 L612.12,180.85 L612.71,180.53 L613.29,180.20 L613.88,179.86 L614.47,179.52 L615.05,179.18 L615.64,178.85 L616.23,178.52 L616.81,178.19 L617.40,177.88 L617.98,177.58 L618.57,177.29 L619.16,177.01 L619.74,176.75 L620.33,176.51 L620.91,176.28 L621.50,176.07 L622.09,175.88 L622.67,175.70 L623.26,175.53 L623.84,175.38 L624.43,175.25 L625.02,175.12 L625.60,175.01 L626.19,174.91 L626.78,174.82 L627.36,174.74 L627.95,174.66 L628.53,174.60 L629.12,174.54 L629.71,174.49 L630.29,174.44 L630.88,174.40 L631.46,174.36 L632.05,174.33 L632.64,174.30 L633.22,174.28 L633.81,174.25 L634.39,174.23 L634.98,174.22 L635.57,174.20 L636.15,174.19 L636.74,174.17 L637.33,174.16 L637.91,174.15 L638.50,174.14 L639.08,174.14 L639.67,174.13 L640.26,174.12 L640.84,174.12 L641.43,174.11 L642.01,174.11 L642.60,174.11" fill="none" stroke="#111" stroke-width="0.8" clip-path="url(#c586_185)"/>
<path d="M595.71,184.55 L595.71,188.29 M594.81,184.55 L596.61,184.55 M594.81,188.29 L596.61,188.29" stroke="#ee1c24" stroke-width="0.6" fill="none"/>
<rect x="594.51" y="185.22" width="2.4" height="2.4" rx="0.5" fill="#ee1c24"/>
<path d="M602.37,174.08 L602.37,185.30 M601.47,174.08 L603.27,174.08 M601.47,185.30 L603.27,185.30" stroke="#ee1c24" stroke-width="0.6" fill="none"/>
<rect x="601.17" y="178.49" width="2.4" height="2.4" rx="0.5" fill="#ee1c24"/>
<path d="M609.06,183.43 L609.06,190.91 M608.16,183.43 L609.96,183.43 M608.16,190.91 L609.96,190.91" stroke="#ee1c24" stroke-width="0.6" fill="none"/>
<rect x="607.86" y="185.97" width="2.4" height="2.4" rx="0.5" fill="#ee1c24"/>
<path d="M615.76,183.80 L615.76,185.30 M614.86,183.80 L616.66,183.80 M614.86,185.30 L616.66,185.30" stroke="#ee1c24" stroke-width="0.6" fill="none"/>
<rect x="614.56" y="183.35" width="2.4" height="2.4" rx="0.5" fill="#ee1c24"/>
<path d="M622.48,187.17 L622.48,190.91 M621.58,187.17 L623.38,187.17 M621.58,190.91 L623.38,190.91" stroke="#ee1c24" stroke-width="0.6" fill="none"/>
<rect x="621.28" y="187.84" width="2.4" height="2.4" rx="0.5" fill="#ee1c24"/>
<path d="M595.71,182.31 L595.71,184.55 M594.81,182.31 L596.61,182.31 M594.81,184.55 L596.61,184.55" stroke="#111" stroke-width="0.6" fill="none"/>
<rect x="594.51" y="182.23" width="2.4" height="2.4" rx="0.5" fill="#111"/>
<path d="M602.37,183.80 L602.37,185.30 M601.47,183.80 L603.27,183.80 M601.47,185.30 L603.27,185.30" stroke="#111" stroke-width="0.6" fill="none"/>
<rect x="601.17" y="183.35" width="2.4" height="2.4" rx="0.5" fill="#111"/>
<path d="M609.06,181.19 L609.06,183.43 M608.16,181.19 L609.96,181.19 M608.16,183.43 L609.96,183.43" stroke="#111" stroke-width="0.6" fill="none"/>
<rect x="607.86" y="181.11" width="2.4" height="2.4" rx="0.5" fill="#111"/>
<path d="M615.76,178.94 L615.76,180.44 M614.86,178.94 L616.66,178.94 M614.86,180.44 L616.66,180.44" stroke="#111" stroke-width="0.6" fill="none"/>
<rect x="614.56" y="178.49" width="2.4" height="2.4" rx="0.5" fill="#111"/>
<path d="M622.48,175.20 L622.48,178.94 M621.58,175.20 L623.38,175.20 M621.58,178.94 L623.38,178.94" stroke="#111" stroke-width="0.6" fill="none"/>
<rect x="621.28" y="175.87" width="2.4" height="2.4" rx="0.5" fill="#111"/>
<path d="M629.19,172.58 L629.19,177.07 M628.29,172.58 L630.09,172.58 M628.29,177.07 L630.09,177.07" stroke="#111" stroke-width="0.6" fill="none"/>
<rect x="627.99" y="173.63" width="2.4" height="2.4" rx="0.5" fill="#111"/>
<path d="M635.89,172.96 L635.89,175.20 M634.99,172.96 L636.79,172.96 M634.99,175.20 L636.79,175.20" stroke="#111" stroke-width="0.6" fill="none"/>
<rect x="634.69" y="172.88" width="2.4" height="2.4" rx="0.5" fill="#111"/>
<path d="M642.60,173.33 L642.60,176.32 M641.70,173.33 L643.50,173.33 M641.70,176.32 L643.50,176.32" stroke="#111" stroke-width="0.6" fill="none"/>
<rect x="641.40" y="173.63" width="2.4" height="2.4" rx="0.5" fill="#111"/>
<line x1="646.3" y1="164.5" x2="651.3" y2="164.5" stroke="#111" stroke-width="0.7"/><rect x="647.75" y="163.45" width="2.1" height="2.1" fill="#111"/>
<text transform="translate(653.20,166.60) scale(0.9,1)" x="0" y="0" font-size="5.1" text-anchor="start" fill="#111" >Undepleted PV</text>
<line x1="646.3" y1="170.3" x2="651.3" y2="170.3" stroke="#ee1c24" stroke-width="0.7"/><rect x="647.75" y="169.25" width="2.1" height="2.1" fill="#ee1c24"/>
<text transform="translate(653.20,172.40) scale(0.9,1)" x="0" y="0" font-size="5.1" text-anchor="start" fill="#111" >HVTR-88-PF</text>
<clipPath id="c301_254"><rect x="301.5" y="210.7" width="57.5" height="51.60000000000002"/></clipPath>
<line x1="301.5" y1="254.60" x2="356" y2="254.60" stroke="#b0b0b0" stroke-width="0.7" stroke-dasharray="2.4,1.5"/>
<path d="M301.50,216.40 L301.50,262.30 L356.00,262.30" fill="none" stroke="#222" stroke-width="0.8"/>
<line x1="300.00" y1="216.70" x2="301.50" y2="216.70" stroke="#222" stroke-width="0.6"/>
<text transform="translate(300.10,218.90) scale(0.93,1)" x="0" y="0" font-size="4.9" text-anchor="end" fill="#111" >100</text>
<line x1="300.00" y1="235.65" x2="301.50" y2="235.65" stroke="#222" stroke-width="0.6"/>
<text transform="translate(300.10,237.85) scale(0.93,1)" x="0" y="0" font-size="4.9" text-anchor="end" fill="#111" >50</text>
<line x1="300.00" y1="254.60" x2="301.50" y2="254.60" stroke="#222" stroke-width="0.6"/>
<text transform="translate(300.10,256.80) scale(0.93,1)" x="0" y="0" font-size="4.9" text-anchor="end" fill="#111" >0</text>
<line x1="301.50" y1="262.30" x2="301.50" y2="263.80" stroke="#222" stroke-width="0.6"/>
<text transform="translate(301.50,269.30) scale(0.93,1)" x="0" y="0" font-size="4.9" text-anchor="middle" fill="#111" >0.001</text>
<line x1="315.12" y1="262.30" x2="315.12" y2="263.80" stroke="#222" stroke-width="0.6"/>
<text transform="translate(315.12,269.30) scale(0.93,1)" x="0" y="0" font-size="4.9" text-anchor="middle" fill="#111" >0.01</text>
<line x1="328.75" y1="262.30" x2="328.75" y2="263.80" stroke="#222" stroke-width="0.6"/>
<text transform="translate(328.75,269.30) scale(0.93,1)" x="0" y="0" font-size="4.9" text-anchor="middle" fill="#111" >0.1</text>
<line x1="342.38" y1="262.30" x2="342.38" y2="263.80" stroke="#222" stroke-width="0.6"/>
<text transform="translate(342.38,269.30) scale(0.93,1)" x="0" y="0" font-size="4.9" text-anchor="middle" fill="#111" >1</text>
<line x1="356.00" y1="262.30" x2="356.00" y2="263.80" stroke="#222" stroke-width="0.6"/>
<text transform="translate(356.00,269.30) scale(0.93,1)" x="0" y="0" font-size="4.9" text-anchor="middle" fill="#111" >10</text>
<text transform="translate(328.40,211.40) scale(0.8,1)" x="0" y="0" font-size="5.4" text-anchor="middle" fill="#111" >WT</text>
<path d="M310.53,257.84 L311.10,257.79 L311.67,257.73 L312.24,257.67 L312.80,257.60 L313.37,257.52 L313.94,257.43 L314.51,257.34 L315.08,257.24 L315.65,257.13 L316.21,257.01 L316.78,256.87 L317.35,256.73 L317.92,256.57 L318.49,256.40 L319.06,256.21 L319.62,256.01 L320.19,255.79 L320.76,255.55 L321.33,255.30 L321.90,255.02 L322.47,254.72 L323.03,254.40 L323.60,254.06 L324.17,253.69 L324.74,253.29 L325.31,252.87 L325.88,252.42 L326.44,251.95 L327.01,251.45 L327.58,250.92 L328.15,250.37 L328.72,249.79 L329.29,249.19 L329.85,248.56 L330.42,247.91 L330.99,247.24 L331.56,246.56 L332.13,245.86 L332.70,245.15 L333.27,244.43 L333.83,243.70 L334.40,242.97 L334.97,242.24 L335.54,241.52 L336.11,240.81 L336.68,240.10 L337.24,239.41 L337.81,238.74 L338.38,238.09 L338.95,237.45 L339.52,236.84 L340.09,236.26 L340.65,235.70 L341.22,235.16 L341.79,234.65 L342.36,234.17 L342.93,233.72 L343.50,233.29 L344.06,232.89 L344.63,232.51 L345.20,232.16 L345.77,231.83 L346.34,231.52 L346.91,231.24 L347.47,230.98 L348.04,230.74 L348.61,230.51 L349.18,230.30 L349.75,230.11 L350.32,229.94 L350.88,229.78 L351.45,229.63 L352.02,229.49 L352.59,229.37 L353.16,229.25 L353.73,229.15 L354.29,229.05 L354.86,228.97 L355.43,228.89 L356.00,228.81" fill="none" stroke="#ee1c24" stroke-width="0.8" clip-path="url(#c301_254)"/>
<path d="M310.53,260.61 L311.10,260.36 L311.67,260.07 L312.24,259.74 L312.80,259.36 L313.37,258.93 L313.94,258.44 L314.51,257.88 L315.08,257.25 L315.65,256.54 L316.21,255.74 L316.78,254.85 L317.35,253.87 L317.92,252.80 L318.49,251.62 L319.06,250.35 L319.62,248.99 L320.19,247.55 L320.76,246.03 L321.33,244.46 L321.90,242.85 L322.47,241.21 L323.03,239.56 L323.60,237.93 L324.17,236.34 L324.74,234.79 L325.31,233.31 L325.88,231.90 L326.44,230.58 L327.01,229.36 L327.58,228.23 L328.15,227.19 L328.72,226.26 L329.29,225.41 L329.85,224.66 L330.42,223.98 L330.99,223.39 L331.56,222.86 L332.13,222.39 L332.70,221.99 L333.27,221.63 L333.83,221.32 L334.40,221.05 L334.97,220.82 L335.54,220.62 L336.11,220.44 L336.68,220.29 L337.24,220.16 L337.81,220.05 L338.38,219.95 L338.95,219.86 L339.52,219.79 L340.09,219.73 L340.65,219.68 L341.22,219.63 L341.79,219.59 L342.36,219.56 L342.93,219.53 L343.50,219.50 L344.06,219.48 L344.63,219.46 L345.20,219.45 L345.77,219.43 L346.34,219.42 L346.91,219.41 L347.47,219.40 L348.04,219.40 L348.61,219.39 L349.18,219.39 L349.75,219.38 L350.32,219.38 L350.88,219.37 L351.45,219.37 L352.02,219.37 L352.59,219.37 L353.16,219.36 L353.73,219.36 L354.29,219.36 L354.86,219.36 L355.43,219.36 L356.00,219.36" fill="none" stroke="#111" stroke-width="0.8" clip-path="url(#c301_254)"/>
<path d="M310.53,256.50 L310.53,258.77 M309.63,256.50 L311.43,256.50 M309.63,258.77 L311.43,258.77" stroke="#ee1c24" stroke-width="0.6" fill="none"/>
<rect x="309.33" y="256.43" width="2.4" height="2.4" rx="0.5" fill="#ee1c24"/>
<path d="M316.99,255.36 L316.99,257.63 M316.09,255.36 L317.89,255.36 M316.09,257.63 L317.89,257.63" stroke="#ee1c24" stroke-width="0.6" fill="none"/>
<rect x="315.79" y="255.30" width="2.4" height="2.4" rx="0.5" fill="#ee1c24"/>
<path d="M323.47,252.70 L323.47,256.50 M322.57,252.70 L324.37,252.70 M322.57,256.50 L324.37,256.50" stroke="#ee1c24" stroke-width="0.6" fill="none"/>
<rect x="322.27" y="253.40" width="2.4" height="2.4" rx="0.5" fill="#ee1c24"/>
<path d="M329.97,246.64 L329.97,248.91 M329.07,246.64 L330.87,246.64 M329.07,248.91 L330.87,248.91" stroke="#ee1c24" stroke-width="0.6" fill="none"/>
<rect x="328.77" y="246.58" width="2.4" height="2.4" rx="0.5" fill="#ee1c24"/>
<path d="M336.49,242.47 L336.49,243.99 M335.59,242.47 L337.39,242.47 M335.59,243.99 L337.39,243.99" stroke="#ee1c24" stroke-width="0.6" fill="none"/>
<rect x="335.29" y="242.03" width="2.4" height="2.4" rx="0.5" fill="#ee1c24"/>
<path d="M342.99,233.00 L342.99,236.79 M342.09,233.00 L343.89,233.00 M342.09,236.79 L343.89,236.79" stroke="#ee1c24" stroke-width="0.6" fill="none"/>
<rect x="341.79" y="233.69" width="2.4" height="2.4" rx="0.5" fill="#ee1c24"/>
<path d="M349.49,228.83 L349.49,231.10 M348.59,228.83 L350.39,228.83 M348.59,231.10 L350.39,231.10" stroke="#ee1c24" stroke-width="0.6" fill="none"/>
<rect x="348.29" y="228.76" width="2.4" height="2.4" rx="0.5" fill="#ee1c24"/>
<path d="M356.00,228.45 L356.00,229.97 M355.10,228.45 L356.90,228.45 M355.10,229.97 L356.90,229.97" stroke="#ee1c24" stroke-width="0.6" fill="none"/>
<rect x="354.80" y="228.01" width="2.4" height="2.4" rx="0.5" fill="#ee1c24"/>
<path d="M310.53,255.74 L310.53,259.53 M309.63,255.74 L311.43,255.74 M309.63,259.53 L311.43,259.53" stroke="#111" stroke-width="0.6" fill="none"/>
<rect x="309.33" y="256.43" width="2.4" height="2.4" rx="0.5" fill="#111"/>
<path d="M316.99,251.57 L316.99,255.36 M316.09,251.57 L317.89,251.57 M316.09,255.36 L317.89,255.36" stroke="#111" stroke-width="0.6" fill="none"/>
<rect x="315.79" y="252.26" width="2.4" height="2.4" rx="0.5" fill="#111"/>
<path d="M323.47,234.13 L323.47,235.65 M322.57,234.13 L324.37,234.13 M322.57,235.65 L324.37,235.65" stroke="#111" stroke-width="0.6" fill="none"/>
<rect x="322.27" y="233.69" width="2.4" height="2.4" rx="0.5" fill="#111"/>
<path d="M329.97,223.52 L329.97,225.04 M329.07,223.52 L330.87,223.52 M329.07,225.04 L330.87,225.04" stroke="#111" stroke-width="0.6" fill="none"/>
<rect x="328.77" y="223.08" width="2.4" height="2.4" rx="0.5" fill="#111"/>
<path d="M336.49,218.22 L336.49,224.28 M335.59,218.22 L337.39,218.22 M335.59,224.28 L337.39,224.28" stroke="#111" stroke-width="0.6" fill="none"/>
<rect x="335.29" y="220.05" width="2.4" height="2.4" rx="0.5" fill="#111"/>
<path d="M342.99,218.97 L342.99,220.49 M342.09,218.97 L343.89,218.97 M342.09,220.49 L343.89,220.49" stroke="#111" stroke-width="0.6" fill="none"/>
<rect x="341.79" y="218.53" width="2.4" height="2.4" rx="0.5" fill="#111"/>
<path d="M349.49,217.46 L349.49,221.25 M348.59,217.46 L350.39,217.46 M348.59,221.25 L350.39,221.25" stroke="#111" stroke-width="0.6" fill="none"/>
<rect x="348.29" y="218.15" width="2.4" height="2.4" rx="0.5" fill="#111"/>
<path d="M356.00,217.84 L356.00,220.87 M355.10,217.84 L356.90,217.84 M355.10,220.87 L356.90,220.87" stroke="#111" stroke-width="0.6" fill="none"/>
<rect x="354.80" y="218.15" width="2.4" height="2.4" rx="0.5" fill="#111"/>
<clipPath id="c374_255"><rect x="374.8" y="210.8" width="51.80000000000001" height="51.80000000000001"/></clipPath>
<line x1="374.8" y1="255.30" x2="423.6" y2="255.30" stroke="#b0b0b0" stroke-width="0.7" stroke-dasharray="2.4,1.5"/>
<path d="M374.80,216.50 L374.80,262.60 L423.60,262.60" fill="none" stroke="#222" stroke-width="0.8"/>
<line x1="373.30" y1="216.80" x2="374.80" y2="216.80" stroke="#222" stroke-width="0.6"/>
<text transform="translate(373.40,219.00) scale(0.93,1)" x="0" y="0" font-size="4.9" text-anchor="end" fill="#111" >100</text>
<line x1="373.30" y1="236.05" x2="374.80" y2="236.05" stroke="#222" stroke-width="0.6"/>
<text transform="translate(373.40,238.25) scale(0.93,1)" x="0" y="0" font-size="4.9" text-anchor="end" fill="#111" >50</text>
<line x1="373.30" y1="255.30" x2="374.80" y2="255.30" stroke="#222" stroke-width="0.6"/>
<text transform="translate(373.40,257.50) scale(0.93,1)" x="0" y="0" font-size="4.9" text-anchor="end" fill="#111" >0</text>
<line x1="374.80" y1="262.60" x2="374.80" y2="264.10" stroke="#222" stroke-width="0.6"/>
<text transform="translate(374.80,269.60) scale(0.93,1)" x="0" y="0" font-size="4.9" text-anchor="middle" fill="#111" >0.001</text>
<line x1="387.00" y1="262.60" x2="387.00" y2="264.10" stroke="#222" stroke-width="0.6"/>
<text transform="translate(387.00,269.60) scale(0.93,1)" x="0" y="0" font-size="4.9" text-anchor="middle" fill="#111" >0.01</text>
<line x1="399.20" y1="262.60" x2="399.20" y2="264.10" stroke="#222" stroke-width="0.6"/>
<text transform="translate(399.20,269.60) scale(0.93,1)" x="0" y="0" font-size="4.9" text-anchor="middle" fill="#111" >0.1</text>
<line x1="411.40" y1="262.60" x2="411.40" y2="264.10" stroke="#222" stroke-width="0.6"/>
<text transform="translate(411.40,269.60) scale(0.93,1)" x="0" y="0" font-size="4.9" text-anchor="middle" fill="#111" >1</text>
<line x1="423.60" y1="262.60" x2="423.60" y2="264.10" stroke="#222" stroke-width="0.6"/>
<text transform="translate(423.60,269.60) scale(0.93,1)" x="0" y="0" font-size="4.9" text-anchor="middle" fill="#111" >10</text>
<text transform="translate(399.70,211.90) scale(0.8,1)" x="0" y="0" font-size="5.4" text-anchor="middle" fill="#111" >Alpha</text>
<path d="M382.89,252.22 L383.39,252.22 L383.90,252.22 L384.41,252.22 L384.92,252.22 L385.43,252.21 L385.94,252.21 L386.45,252.21 L386.96,252.21 L387.47,252.21 L387.97,252.21 L388.48,252.21 L388.99,252.20 L389.50,252.20 L390.01,252.20 L390.52,252.20 L391.03,252.19 L391.54,252.19 L392.05,252.18 L392.56,252.18 L393.06,252.17 L393.57,252.16 L394.08,252.16 L394.59,252.15 L395.10,252.13 L395.61,252.12 L396.12,252.10 L396.63,252.09 L397.14,252.07 L397.64,252.04 L398.15,252.02 L398.66,251.98 L399.17,251.95 L399.68,251.91 L400.19,251.86 L400.70,251.80 L401.21,251.74 L401.72,251.67 L402.22,251.59 L402.73,251.49 L403.24,251.38 L403.75,251.26 L404.26,251.12 L404.77,250.96 L405.28,250.78 L405.79,250.57 L406.30,250.34 L406.81,250.08 L407.31,249.79 L407.82,249.46 L408.33,249.09 L408.84,248.69 L409.35,248.25 L409.86,247.77 L410.37,247.24 L410.88,246.68 L411.39,246.07 L411.89,245.43 L412.40,244.75 L412.91,244.05 L413.42,243.33 L413.93,242.59 L414.44,241.84 L414.95,241.09 L415.46,240.35 L415.97,239.63 L416.47,238.92 L416.98,238.25 L417.49,237.61 L418.00,237.00 L418.51,236.43 L419.02,235.90 L419.53,235.42 L420.04,234.98 L420.55,234.57 L421.06,234.21 L421.56,233.88 L422.07,233.58 L422.58,233.32 L423.09,233.09 L423.60,232.88" fill="none" stroke="#ee1c24" stroke-width="0.8" clip-path="url(#c374_255)"/>
<path d="M382.89,255.59 L383.39,255.52 L383.90,255.45 L384.41,255.37 L384.92,255.28 L385.43,255.18 L385.94,255.06 L386.45,254.93 L386.96,254.79 L387.47,254.62 L387.97,254.44 L388.48,254.23 L388.99,254.00 L389.50,253.75 L390.01,253.46 L390.52,253.14 L391.03,252.79 L391.54,252.39 L392.05,251.96 L392.56,251.48 L393.06,250.96 L393.57,250.38 L394.08,249.76 L394.59,249.08 L395.10,248.35 L395.61,247.57 L396.12,246.73 L396.63,245.84 L397.14,244.90 L397.64,243.91 L398.15,242.88 L398.66,241.82 L399.17,240.73 L399.68,239.61 L400.19,238.49 L400.70,237.36 L401.21,236.23 L401.72,235.12 L402.22,234.03 L402.73,232.97 L403.24,231.95 L403.75,230.97 L404.26,230.03 L404.77,229.14 L405.28,228.31 L405.79,227.53 L406.30,226.80 L406.81,226.13 L407.31,225.51 L407.82,224.94 L408.33,224.42 L408.84,223.95 L409.35,223.52 L409.86,223.13 L410.37,222.78 L410.88,222.46 L411.39,222.18 L411.89,221.92 L412.40,221.70 L412.91,221.49 L413.42,221.31 L413.93,221.15 L414.44,221.00 L414.95,220.88 L415.46,220.76 L415.97,220.66 L416.47,220.57 L416.98,220.49 L417.49,220.42 L418.00,220.36 L418.51,220.30 L419.02,220.25 L419.53,220.21 L420.04,220.17 L420.55,220.14 L421.06,220.11 L421.56,220.08 L422.07,220.06 L422.58,220.04 L423.09,220.02 L423.60,220.00" fill="none" stroke="#111" stroke-width="0.8" clip-path="url(#c374_255)"/>
<path d="M382.89,250.68 L382.89,252.22 M381.99,250.68 L383.79,250.68 M381.99,252.22 L383.79,252.22" stroke="#ee1c24" stroke-width="0.6" fill="none"/>
<rect x="381.69" y="250.25" width="2.4" height="2.4" rx="0.5" fill="#ee1c24"/>
<path d="M388.67,247.60 L388.67,262.60 M387.77,247.60 L389.57,247.60 M387.77,262.60 L389.57,262.60" stroke="#ee1c24" stroke-width="0.6" fill="none"/>
<rect x="387.47" y="254.10" width="2.4" height="2.4" rx="0.5" fill="#ee1c24"/>
<path d="M394.48,261.85 L394.48,262.60 M393.58,261.85 L395.38,261.85 M393.58,262.60 L395.38,262.60" stroke="#ee1c24" stroke-width="0.6" fill="none"/>
<path d="M400.30,248.37 L400.30,256.07 M399.40,248.37 L401.20,248.37 M399.40,256.07 L401.20,256.07" stroke="#ee1c24" stroke-width="0.6" fill="none"/>
<rect x="399.10" y="251.02" width="2.4" height="2.4" rx="0.5" fill="#ee1c24"/>
<path d="M406.13,248.75 L406.13,250.30 M405.23,248.75 L407.03,248.75 M405.23,250.30 L407.03,250.30" stroke="#ee1c24" stroke-width="0.6" fill="none"/>
<rect x="404.93" y="248.33" width="2.4" height="2.4" rx="0.5" fill="#ee1c24"/>
<path d="M411.95,241.82 L411.95,245.68 M411.05,241.82 L412.85,241.82 M411.05,245.68 L412.85,245.68" stroke="#ee1c24" stroke-width="0.6" fill="none"/>
<rect x="410.75" y="242.55" width="2.4" height="2.4" rx="0.5" fill="#ee1c24"/>
<path d="M417.77,232.97 L417.77,235.28 M416.87,232.97 L418.67,232.97 M416.87,235.28 L418.67,235.28" stroke="#ee1c24" stroke-width="0.6" fill="none"/>
<rect x="416.57" y="232.93" width="2.4" height="2.4" rx="0.5" fill="#ee1c24"/>
<path d="M423.60,231.43 L423.60,232.97 M422.70,231.43 L424.50,231.43 M422.70,232.97 L424.50,232.97" stroke="#ee1c24" stroke-width="0.6" fill="none"/>
<rect x="422.40" y="231.00" width="2.4" height="2.4" rx="0.5" fill="#ee1c24"/>
<path d="M382.89,254.14 L382.89,258.00 M381.99,254.14 L383.79,254.14 M381.99,258.00 L383.79,258.00" stroke="#111" stroke-width="0.6" fill="none"/>
<rect x="381.69" y="254.87" width="2.4" height="2.4" rx="0.5" fill="#111"/>
<path d="M388.67,247.60 L388.67,256.84 M387.77,247.60 L389.57,247.60 M387.77,256.84 L389.57,256.84" stroke="#111" stroke-width="0.6" fill="none"/>
<rect x="387.47" y="251.02" width="2.4" height="2.4" rx="0.5" fill="#111"/>
<path d="M394.48,247.60 L394.48,249.14 M393.58,247.60 L395.38,247.60 M393.58,249.14 L395.38,249.14" stroke="#111" stroke-width="0.6" fill="none"/>
<rect x="393.28" y="247.17" width="2.4" height="2.4" rx="0.5" fill="#111"/>
<path d="M400.30,234.12 L400.30,237.98 M399.40,234.12 L401.20,234.12 M399.40,237.98 L401.20,237.98" stroke="#111" stroke-width="0.6" fill="none"/>
<rect x="399.10" y="234.85" width="2.4" height="2.4" rx="0.5" fill="#111"/>
<path d="M406.13,224.50 L406.13,226.81 M405.23,224.50 L407.03,224.50 M405.23,226.81 L407.03,226.81" stroke="#111" stroke-width="0.6" fill="none"/>
<rect x="404.93" y="224.46" width="2.4" height="2.4" rx="0.5" fill="#111"/>
<path d="M411.95,220.65 L411.95,222.96 M411.05,220.65 L412.85,220.65 M411.05,222.96 L412.85,222.96" stroke="#111" stroke-width="0.6" fill="none"/>
<rect x="410.75" y="220.61" width="2.4" height="2.4" rx="0.5" fill="#111"/>
<path d="M417.77,219.50 L417.77,221.81 M416.87,219.50 L418.67,219.50 M416.87,221.81 L418.67,221.81" stroke="#111" stroke-width="0.6" fill="none"/>
<rect x="416.57" y="219.45" width="2.4" height="2.4" rx="0.5" fill="#111"/>
<path d="M423.60,219.50 L423.60,221.81 M422.70,219.50 L424.50,219.50 M422.70,221.81 L424.50,221.81" stroke="#111" stroke-width="0.6" fill="none"/>
<rect x="422.40" y="219.45" width="2.4" height="2.4" rx="0.5" fill="#111"/>
<line x1="431.1" y1="234" x2="436.1" y2="234" stroke="#111" stroke-width="0.7"/><rect x="432.55" y="232.95" width="2.1" height="2.1" fill="#111"/>
<text transform="translate(438.00,236.10) scale(0.9,1)" x="0" y="0" font-size="5.1" text-anchor="start" fill="#111" >Undepleted PV</text>
<line x1="431.1" y1="240.7" x2="436.1" y2="240.7" stroke="#ee1c24" stroke-width="0.7"/><rect x="432.55" y="239.64999999999998" width="2.1" height="2.1" fill="#ee1c24"/>
<text transform="translate(438.00,242.80) scale(0.9,1)" x="0" y="0" font-size="5.1" text-anchor="start" fill="#111" >COVA2-17-PF</text>
<line x1="289.6" y1="11" x2="289.6" y2="261.5" stroke="#333" stroke-width="0.9" stroke-dasharray="1.2,1.4"/>
<line x1="302.8" y1="271.9" x2="421.4" y2="271.9" stroke="#999" stroke-width="1.1" stroke-dasharray="1.2,1.3"/>
<text x="282.30" y="115.40" font-size="6.5" text-anchor="middle" fill="#111" transform="rotate(-90 282.3 115.4)" dominant-baseline="middle">% Neutralization</text>
<text x="305.50" y="281.90" font-size="6.9" text-anchor="start" fill="#111" >Concentration μg/ml (log 10)</text>
<path d="M318.10,304.00 L318.10,358.60 L380.60,358.60" fill="none" stroke="#222" stroke-width="0.8"/>
<line x1="316.60" y1="358.60" x2="318.10" y2="358.60" stroke="#222" stroke-width="0.6"/>
<text x="316.40" y="361.10" font-size="5.6" text-anchor="end" fill="#111" >0</text>
<line x1="316.60" y1="347.78" x2="318.10" y2="347.78" stroke="#222" stroke-width="0.6"/>
<text x="316.40" y="350.28" font-size="5.6" text-anchor="end" fill="#111" >5×10⁵</text>
<line x1="316.60" y1="336.96" x2="318.10" y2="336.96" stroke="#222" stroke-width="0.6"/>
<text x="316.40" y="339.46" font-size="5.6" text-anchor="end" fill="#111" >1×10⁶</text>
<line x1="316.60" y1="326.14" x2="318.10" y2="326.14" stroke="#222" stroke-width="0.6"/>
<text x="316.40" y="328.64" font-size="5.6" text-anchor="end" fill="#111" >1.5×10⁶</text>
<line x1="316.60" y1="315.32" x2="318.10" y2="315.32" stroke="#222" stroke-width="0.6"/>
<text x="316.40" y="317.82" font-size="5.6" text-anchor="end" fill="#111" >2×10⁶</text>
<line x1="316.60" y1="304.50" x2="318.10" y2="304.50" stroke="#222" stroke-width="0.6"/>
<text x="316.40" y="307.00" font-size="5.6" text-anchor="end" fill="#111" >2.5×10⁶</text>
<line x1="318.10" y1="358.60" x2="318.10" y2="360.10" stroke="#222" stroke-width="0.6"/>
<text x="320.10" y="365.80" font-size="5.7" text-anchor="end" fill="#111" transform="rotate(-45 320.10 365.80)">0.0001</text>
<line x1="328.52" y1="358.60" x2="328.52" y2="360.10" stroke="#222" stroke-width="0.6"/>
<text x="330.52" y="365.80" font-size="5.7" text-anchor="end" fill="#111" transform="rotate(-45 330.52 365.80)">0.001</text>
<line x1="338.93" y1="358.60" x2="338.93" y2="360.10" stroke="#222" stroke-width="0.6"/>
<text x="340.93" y="365.80" font-size="5.7" text-anchor="end" fill="#111" transform="rotate(-45 340.93 365.80)">0.01</text>
<line x1="349.35" y1="358.60" x2="349.35" y2="360.10" stroke="#222" stroke-width="0.6"/>
<text x="351.35" y="365.80" font-size="5.7" text-anchor="end" fill="#111" transform="rotate(-45 351.35 365.80)">0.1</text>
<line x1="359.77" y1="358.60" x2="359.77" y2="360.10" stroke="#222" stroke-width="0.6"/>
<text x="361.77" y="365.80" font-size="5.7" text-anchor="end" fill="#111" transform="rotate(-45 361.77 365.80)">1</text>
<line x1="370.18" y1="358.60" x2="370.18" y2="360.10" stroke="#222" stroke-width="0.6"/>
<text x="372.18" y="365.80" font-size="5.7" text-anchor="end" fill="#111" transform="rotate(-45 372.18 365.80)">10</text>
<line x1="380.60" y1="358.60" x2="380.60" y2="360.10" stroke="#222" stroke-width="0.6"/>
<text x="382.60" y="365.80" font-size="5.7" text-anchor="end" fill="#111" transform="rotate(-45 382.60 365.80)">100</text>
<text x="346.60" y="296.70" font-size="5.8" text-anchor="middle" fill="#111" >WT</text>
<text x="293.10" y="331.3" font-size="5.4" text-anchor="middle" fill="#111" transform="rotate(-90 293.10 331.3)" dominant-baseline="middle">RLU</text>
<text x="349.40" y="383.60" font-size="5.3" text-anchor="middle" fill="#111" >p24 pg/ml</text>
<path d="M327.68,358.33 L333.83,358.06 L340.08,356.98 L346.33,355.90 L352.68,349.40 L359.04,343.45 L365.29,327.93 L370.18,318.84" fill="none" stroke="#ee1c24" stroke-width="0.7"/>
<circle cx="327.68" cy="358.33" r="1.2" fill="#ee1c24"/>
<circle cx="333.83" cy="358.06" r="1.2" fill="#ee1c24"/>
<circle cx="340.08" cy="356.98" r="1.2" fill="#ee1c24"/>
<circle cx="346.33" cy="355.90" r="1.2" fill="#ee1c24"/>
<path d="M352.68,348.32 L352.68,350.49 M351.78,348.32 L353.58,348.32 M351.78,350.49 L353.58,350.49" stroke="#ee1c24" stroke-width="0.6" fill="none"/>
<circle cx="352.68" cy="349.40" r="1.2" fill="#ee1c24"/>
<circle cx="359.04" cy="343.45" r="1.2" fill="#ee1c24"/>
<path d="M365.29,326.30 L365.29,329.55 M364.39,326.30 L366.19,326.30 M364.39,329.55 L366.19,329.55" stroke="#ee1c24" stroke-width="0.6" fill="none"/>
<circle cx="365.29" cy="327.93" r="1.2" fill="#ee1c24"/>
<path d="M370.18,316.13 L370.18,321.54 M369.28,316.13 L371.08,316.13 M369.28,321.54 L371.08,321.54" stroke="#ee1c24" stroke-width="0.6" fill="none"/>
<circle cx="370.18" cy="318.84" r="1.2" fill="#ee1c24"/>
<path d="M327.68,358.60 L333.83,358.06 L340.08,357.52 L346.33,355.90 L352.68,353.89 L359.04,348.86 L365.29,335.34 L370.18,325.33" fill="none" stroke="#111" stroke-width="0.7"/>
<circle cx="327.68" cy="358.60" r="1.2" fill="#111"/>
<circle cx="333.83" cy="358.06" r="1.2" fill="#111"/>
<circle cx="340.08" cy="357.52" r="1.2" fill="#111"/>
<circle cx="346.33" cy="355.90" r="1.2" fill="#111"/>
<circle cx="352.68" cy="353.89" r="1.2" fill="#111"/>
<circle cx="359.04" cy="348.86" r="1.2" fill="#111"/>
<path d="M365.29,334.25 L365.29,336.42 M364.39,334.25 L366.19,334.25 M364.39,336.42 L366.19,336.42" stroke="#111" stroke-width="0.6" fill="none"/>
<circle cx="365.29" cy="335.34" r="1.2" fill="#111"/>
<path d="M370.18,323.71 L370.18,326.95 M369.28,323.71 L371.08,323.71 M369.28,326.95 L371.08,326.95" stroke="#111" stroke-width="0.6" fill="none"/>
<circle cx="370.18" cy="325.33" r="1.2" fill="#111"/>
<line x1="322.8" y1="307.9" x2="327.8" y2="307.9" stroke="#111" stroke-width="0.7"/><circle cx="325.3" cy="307.9" r="1.2" fill="#111"/>
<text transform="translate(331.30,309.70) scale(0.85,1)" x="0" y="0" font-size="5.0" text-anchor="start" fill="#111" >Total</text>
<line x1="322.8" y1="314.5" x2="327.8" y2="314.5" stroke="#ee1c24" stroke-width="0.7"/><circle cx="325.3" cy="314.5" r="1.2" fill="#ee1c24"/>
<text transform="translate(331.30,316.30) scale(0.85,1)" x="0" y="0" font-size="5.0" text-anchor="start" fill="#111" >S309-PF</text>
<path d="M404.30,304.00 L404.30,357.10 L465.40,357.10" fill="none" stroke="#222" stroke-width="0.8"/>
<line x1="402.80" y1="357.10" x2="404.30" y2="357.10" stroke="#222" stroke-width="0.6"/>
<text x="402.60" y="359.60" font-size="5.6" text-anchor="end" fill="#111" >0</text>
<line x1="402.80" y1="343.95" x2="404.30" y2="343.95" stroke="#222" stroke-width="0.6"/>
<text x="402.60" y="346.45" font-size="5.6" text-anchor="end" fill="#111" >5×10⁵</text>
<line x1="402.80" y1="330.80" x2="404.30" y2="330.80" stroke="#222" stroke-width="0.6"/>
<text x="402.60" y="333.30" font-size="5.6" text-anchor="end" fill="#111" >1×10⁶</text>
<line x1="402.80" y1="317.65" x2="404.30" y2="317.65" stroke="#222" stroke-width="0.6"/>
<text x="402.60" y="320.15" font-size="5.6" text-anchor="end" fill="#111" >1.5×10⁶</text>
<line x1="402.80" y1="304.50" x2="404.30" y2="304.50" stroke="#222" stroke-width="0.6"/>
<text x="402.60" y="307.00" font-size="5.6" text-anchor="end" fill="#111" >2×10⁶</text>
<line x1="404.30" y1="357.10" x2="404.30" y2="358.60" stroke="#222" stroke-width="0.6"/>
<text x="406.30" y="364.30" font-size="5.7" text-anchor="end" fill="#111" transform="rotate(-45 406.30 364.30)">0.0001</text>
<line x1="414.48" y1="357.10" x2="414.48" y2="358.60" stroke="#222" stroke-width="0.6"/>
<text x="416.48" y="364.30" font-size="5.7" text-anchor="end" fill="#111" transform="rotate(-45 416.48 364.30)">0.001</text>
<line x1="424.67" y1="357.10" x2="424.67" y2="358.60" stroke="#222" stroke-width="0.6"/>
<text x="426.67" y="364.30" font-size="5.7" text-anchor="end" fill="#111" transform="rotate(-45 426.67 364.30)">0.01</text>
<line x1="434.85" y1="357.10" x2="434.85" y2="358.60" stroke="#222" stroke-width="0.6"/>
<text x="436.85" y="364.30" font-size="5.7" text-anchor="end" fill="#111" transform="rotate(-45 436.85 364.30)">0.1</text>
<line x1="445.03" y1="357.10" x2="445.03" y2="358.60" stroke="#222" stroke-width="0.6"/>
<text x="447.03" y="364.30" font-size="5.7" text-anchor="end" fill="#111" transform="rotate(-45 447.03 364.30)">1</text>
<line x1="455.22" y1="357.10" x2="455.22" y2="358.60" stroke="#222" stroke-width="0.6"/>
<text x="457.22" y="364.30" font-size="5.7" text-anchor="end" fill="#111" transform="rotate(-45 457.22 364.30)">10</text>
<line x1="465.40" y1="357.10" x2="465.40" y2="358.60" stroke="#222" stroke-width="0.6"/>
<text x="467.40" y="364.30" font-size="5.7" text-anchor="end" fill="#111" transform="rotate(-45 467.40 364.30)">100</text>
<text x="431.60" y="296.70" font-size="5.8" text-anchor="middle" fill="#111" >WT</text>
<text x="435.00" y="382.40" font-size="5.3" text-anchor="middle" fill="#111" >p24 pg/ml</text>
<path d="M413.67,357.10 L419.68,356.57 L425.79,356.05 L431.90,354.47 L438.11,347.63 L444.32,342.37 L450.43,329.22 L455.22,321.86" fill="none" stroke="#ee1c24" stroke-width="0.7"/>
<circle cx="413.67" cy="357.10" r="1.2" fill="#ee1c24"/>
<circle cx="419.68" cy="356.57" r="1.2" fill="#ee1c24"/>
<circle cx="425.79" cy="356.05" r="1.2" fill="#ee1c24"/>
<circle cx="431.90" cy="354.47" r="1.2" fill="#ee1c24"/>
<path d="M438.11,346.05 L438.11,349.21 M437.21,346.05 L439.01,346.05 M437.21,349.21 L439.01,349.21" stroke="#ee1c24" stroke-width="0.6" fill="none"/>
<circle cx="438.11" cy="347.63" r="1.2" fill="#ee1c24"/>
<circle cx="444.32" cy="342.37" r="1.2" fill="#ee1c24"/>
<path d="M450.43,328.17 L450.43,330.27 M449.53,328.17 L451.33,328.17 M449.53,330.27 L451.33,330.27" stroke="#ee1c24" stroke-width="0.6" fill="none"/>
<circle cx="450.43" cy="329.22" r="1.2" fill="#ee1c24"/>
<path d="M455.22,320.28 L455.22,323.44 M454.32,320.28 L456.12,320.28 M454.32,323.44 L456.12,323.44" stroke="#ee1c24" stroke-width="0.6" fill="none"/>
<circle cx="455.22" cy="321.86" r="1.2" fill="#ee1c24"/>
<path d="M413.67,357.10 L419.68,356.84 L425.79,356.31 L431.90,354.47 L438.11,351.31 L444.32,344.48 L450.43,329.22 L455.22,316.60" fill="none" stroke="#111" stroke-width="0.7"/>
<circle cx="413.67" cy="357.10" r="1.2" fill="#111"/>
<circle cx="419.68" cy="356.84" r="1.2" fill="#111"/>
<circle cx="425.79" cy="356.31" r="1.2" fill="#111"/>
<circle cx="431.90" cy="354.47" r="1.2" fill="#111"/>
<circle cx="438.11" cy="351.31" r="1.2" fill="#111"/>
<circle cx="444.32" cy="344.48" r="1.2" fill="#111"/>
<path d="M450.43,328.17 L450.43,330.27 M449.53,328.17 L451.33,328.17 M449.53,330.27 L451.33,330.27" stroke="#111" stroke-width="0.6" fill="none"/>
<circle cx="450.43" cy="329.22" r="1.2" fill="#111"/>
<path d="M455.22,314.49 L455.22,318.70 M454.32,314.49 L456.12,314.49 M454.32,318.70 L456.12,318.70" stroke="#111" stroke-width="0.6" fill="none"/>
<circle cx="455.22" cy="316.60" r="1.2" fill="#111"/>
<line x1="407.5" y1="307.9" x2="412.5" y2="307.9" stroke="#111" stroke-width="0.7"/><circle cx="410" cy="307.9" r="1.2" fill="#111"/>
<text transform="translate(416.00,309.70) scale(0.85,1)" x="0" y="0" font-size="5.0" text-anchor="start" fill="#111" >Total</text>
<line x1="407.5" y1="314" x2="412.5" y2="314" stroke="#ee1c24" stroke-width="0.7"/><circle cx="410" cy="314" r="1.2" fill="#ee1c24"/>
<text transform="translate(416.00,315.80) scale(0.85,1)" x="0" y="0" font-size="5.0" text-anchor="start" fill="#111" >COVA2-17-PF</text>
<path d="M502.40,303.20 L502.40,357.90 L565.30,357.90" fill="none" stroke="#222" stroke-width="0.8"/>
<line x1="500.90" y1="357.90" x2="502.40" y2="357.90" stroke="#222" stroke-width="0.6"/>
<text x="500.70" y="360.40" font-size="5.6" text-anchor="end" fill="#111" >0</text>
<line x1="500.90" y1="339.83" x2="502.40" y2="339.83" stroke="#222" stroke-width="0.6"/>
<text x="500.70" y="342.33" font-size="5.6" text-anchor="end" fill="#111" >5×10⁵</text>
<line x1="500.90" y1="321.77" x2="502.40" y2="321.77" stroke="#222" stroke-width="0.6"/>
<text x="500.70" y="324.27" font-size="5.6" text-anchor="end" fill="#111" >1×10⁶</text>
<line x1="500.90" y1="303.70" x2="502.40" y2="303.70" stroke="#222" stroke-width="0.6"/>
<text x="500.70" y="306.20" font-size="5.6" text-anchor="end" fill="#111" >1.5×10⁶</text>
<line x1="502.40" y1="357.90" x2="502.40" y2="359.40" stroke="#222" stroke-width="0.6"/>
<text x="504.40" y="365.10" font-size="5.7" text-anchor="end" fill="#111" transform="rotate(-45 504.40 365.10)">0.0001</text>
<line x1="512.88" y1="357.90" x2="512.88" y2="359.40" stroke="#222" stroke-width="0.6"/>
<text x="514.88" y="365.10" font-size="5.7" text-anchor="end" fill="#111" transform="rotate(-45 514.88 365.10)">0.001</text>
<line x1="523.37" y1="357.90" x2="523.37" y2="359.40" stroke="#222" stroke-width="0.6"/>
<text x="525.37" y="365.10" font-size="5.7" text-anchor="end" fill="#111" transform="rotate(-45 525.37 365.10)">0.01</text>
<line x1="533.85" y1="357.90" x2="533.85" y2="359.40" stroke="#222" stroke-width="0.6"/>
<text x="535.85" y="365.10" font-size="5.7" text-anchor="end" fill="#111" transform="rotate(-45 535.85 365.10)">0.1</text>
<line x1="544.33" y1="357.90" x2="544.33" y2="359.40" stroke="#222" stroke-width="0.6"/>
<text x="546.33" y="365.10" font-size="5.7" text-anchor="end" fill="#111" transform="rotate(-45 546.33 365.10)">1</text>
<line x1="554.82" y1="357.90" x2="554.82" y2="359.40" stroke="#222" stroke-width="0.6"/>
<text x="556.82" y="365.10" font-size="5.7" text-anchor="end" fill="#111" transform="rotate(-45 556.82 365.10)">10</text>
<line x1="565.30" y1="357.90" x2="565.30" y2="359.40" stroke="#222" stroke-width="0.6"/>
<text x="567.30" y="365.10" font-size="5.7" text-anchor="end" fill="#111" transform="rotate(-45 567.30 365.10)">100</text>
<text x="534.50" y="296.70" font-size="5.8" text-anchor="middle" fill="#111" >Delta</text>
<text x="477.20" y="330" font-size="5.4" text-anchor="middle" fill="#111" transform="rotate(-90 477.20 330)" dominant-baseline="middle">RLU</text>
<text x="533.60" y="382.60" font-size="5.3" text-anchor="middle" fill="#111" >p24 pg/ml</text>
<path d="M512.04,357.90 L518.23,357.36 L524.52,356.27 L530.81,354.92 L537.20,349.77 L543.60,343.27 L549.89,328.63 L554.82,316.17" fill="none" stroke="#ee1c24" stroke-width="0.7"/>
<circle cx="512.04" cy="357.90" r="1.2" fill="#ee1c24"/>
<circle cx="518.23" cy="357.36" r="1.2" fill="#ee1c24"/>
<circle cx="524.52" cy="356.27" r="1.2" fill="#ee1c24"/>
<circle cx="530.81" cy="354.92" r="1.2" fill="#ee1c24"/>
<path d="M537.20,348.69 L537.20,350.85 M536.30,348.69 L538.10,348.69 M536.30,350.85 L538.10,350.85" stroke="#ee1c24" stroke-width="0.6" fill="none"/>
<circle cx="537.20" cy="349.77" r="1.2" fill="#ee1c24"/>
<path d="M543.60,341.10 L543.60,345.43 M542.70,341.10 L544.50,341.10 M542.70,345.43 L544.50,345.43" stroke="#ee1c24" stroke-width="0.6" fill="none"/>
<circle cx="543.60" cy="343.27" r="1.2" fill="#ee1c24"/>
<path d="M549.89,326.46 L549.89,330.80 M548.99,326.46 L550.79,326.46 M548.99,330.80 L550.79,330.80" stroke="#ee1c24" stroke-width="0.6" fill="none"/>
<circle cx="549.89" cy="328.63" r="1.2" fill="#ee1c24"/>
<path d="M554.82,311.83 L554.82,320.50 M553.92,311.83 L555.72,311.83 M553.92,320.50 L555.72,320.50" stroke="#ee1c24" stroke-width="0.6" fill="none"/>
<circle cx="554.82" cy="316.17" r="1.2" fill="#ee1c24"/>
<path d="M512.04,357.90 L518.23,357.36 L524.52,356.60 L530.81,355.30 L537.20,351.67 L543.60,346.19 L549.89,336.22 L554.82,324.02" fill="none" stroke="#111" stroke-width="0.7"/>
<circle cx="512.04" cy="357.90" r="1.2" fill="#111"/>
<circle cx="518.23" cy="357.36" r="1.2" fill="#111"/>
<circle cx="524.52" cy="356.60" r="1.2" fill="#111"/>
<circle cx="530.81" cy="355.30" r="1.2" fill="#111"/>
<circle cx="537.20" cy="351.67" r="1.2" fill="#111"/>
<circle cx="543.60" cy="346.19" r="1.2" fill="#111"/>
<path d="M549.89,333.51 L549.89,338.93 M548.99,333.51 L550.79,333.51 M548.99,338.93 L550.79,338.93" stroke="#111" stroke-width="0.6" fill="none"/>
<circle cx="549.89" cy="336.22" r="1.2" fill="#111"/>
<circle cx="554.82" cy="324.02" r="1.2" fill="#111"/>
<line x1="505.5" y1="307" x2="510.5" y2="307" stroke="#111" stroke-width="0.7"/><circle cx="508" cy="307" r="1.2" fill="#111"/>
<text transform="translate(514.00,308.80) scale(0.85,1)" x="0" y="0" font-size="5.0" text-anchor="start" fill="#111" >Total</text>
<line x1="505.5" y1="313.6" x2="510.5" y2="313.6" stroke="#ee1c24" stroke-width="0.7"/><circle cx="508" cy="313.6" r="1.2" fill="#ee1c24"/>
<text transform="translate(514.00,315.40) scale(0.85,1)" x="0" y="0" font-size="5.0" text-anchor="start" fill="#111" >S309-PF</text>
<path d="M593.90,303.20 L593.90,356.90 L655.30,356.90" fill="none" stroke="#222" stroke-width="0.8"/>
<line x1="592.40" y1="356.90" x2="593.90" y2="356.90" stroke="#222" stroke-width="0.6"/>
<text x="592.20" y="359.40" font-size="5.6" text-anchor="end" fill="#111" >0</text>
<line x1="592.40" y1="339.17" x2="593.90" y2="339.17" stroke="#222" stroke-width="0.6"/>
<text x="592.20" y="341.67" font-size="5.6" text-anchor="end" fill="#111" >5×10⁵</text>
<line x1="592.40" y1="321.43" x2="593.90" y2="321.43" stroke="#222" stroke-width="0.6"/>
<text x="592.20" y="323.93" font-size="5.6" text-anchor="end" fill="#111" >1×10⁶</text>
<line x1="592.40" y1="303.70" x2="593.90" y2="303.70" stroke="#222" stroke-width="0.6"/>
<text x="592.20" y="306.20" font-size="5.6" text-anchor="end" fill="#111" >1.5×10⁶</text>
<line x1="593.90" y1="356.90" x2="593.90" y2="358.40" stroke="#222" stroke-width="0.6"/>
<text x="595.90" y="364.10" font-size="5.7" text-anchor="end" fill="#111" transform="rotate(-45 595.90 364.10)">0.0001</text>
<line x1="604.13" y1="356.90" x2="604.13" y2="358.40" stroke="#222" stroke-width="0.6"/>
<text x="606.13" y="364.10" font-size="5.7" text-anchor="end" fill="#111" transform="rotate(-45 606.13 364.10)">0.001</text>
<line x1="614.37" y1="356.90" x2="614.37" y2="358.40" stroke="#222" stroke-width="0.6"/>
<text x="616.37" y="364.10" font-size="5.7" text-anchor="end" fill="#111" transform="rotate(-45 616.37 364.10)">0.01</text>
<line x1="624.60" y1="356.90" x2="624.60" y2="358.40" stroke="#222" stroke-width="0.6"/>
<text x="626.60" y="364.10" font-size="5.7" text-anchor="end" fill="#111" transform="rotate(-45 626.60 364.10)">0.1</text>
<line x1="634.83" y1="356.90" x2="634.83" y2="358.40" stroke="#222" stroke-width="0.6"/>
<text x="636.83" y="364.10" font-size="5.7" text-anchor="end" fill="#111" transform="rotate(-45 636.83 364.10)">1</text>
<line x1="645.07" y1="356.90" x2="645.07" y2="358.40" stroke="#222" stroke-width="0.6"/>
<text x="647.07" y="364.10" font-size="5.7" text-anchor="end" fill="#111" transform="rotate(-45 647.07 364.10)">10</text>
<line x1="655.30" y1="356.90" x2="655.30" y2="358.40" stroke="#222" stroke-width="0.6"/>
<text x="657.30" y="364.10" font-size="5.7" text-anchor="end" fill="#111" transform="rotate(-45 657.30 364.10)">100</text>
<text x="617.50" y="296.70" font-size="5.8" text-anchor="middle" fill="#111" >Delta</text>
<text x="624.30" y="382.10" font-size="5.3" text-anchor="middle" fill="#111" >p24 pg/ml</text>
<path d="M603.31,356.90 L609.35,356.37 L615.49,355.30 L621.63,354.24 L627.87,349.45 L634.12,343.07 L640.26,330.83 L645.07,321.79" fill="none" stroke="#ee1c24" stroke-width="0.7"/>
<circle cx="603.31" cy="356.90" r="1.2" fill="#ee1c24"/>
<circle cx="609.35" cy="356.37" r="1.2" fill="#ee1c24"/>
<circle cx="615.49" cy="355.30" r="1.2" fill="#ee1c24"/>
<circle cx="621.63" cy="354.24" r="1.2" fill="#ee1c24"/>
<path d="M627.87,348.39 L627.87,350.52 M626.97,348.39 L628.77,348.39 M626.97,350.52 L628.77,350.52" stroke="#ee1c24" stroke-width="0.6" fill="none"/>
<circle cx="627.87" cy="349.45" r="1.2" fill="#ee1c24"/>
<path d="M634.12,342.00 L634.12,344.13 M633.22,342.00 L635.02,342.00 M633.22,344.13 L635.02,344.13" stroke="#ee1c24" stroke-width="0.6" fill="none"/>
<circle cx="634.12" cy="343.07" r="1.2" fill="#ee1c24"/>
<path d="M640.26,329.24 L640.26,332.43 M639.36,329.24 L641.16,329.24 M639.36,332.43 L641.16,332.43" stroke="#ee1c24" stroke-width="0.6" fill="none"/>
<circle cx="640.26" cy="330.83" r="1.2" fill="#ee1c24"/>
<path d="M645.07,320.19 L645.07,323.38 M644.17,320.19 L645.97,320.19 M644.17,323.38 L645.97,323.38" stroke="#ee1c24" stroke-width="0.6" fill="none"/>
<circle cx="645.07" cy="321.79" r="1.2" fill="#ee1c24"/>
<path d="M603.31,356.90 L609.35,356.37 L615.49,355.57 L621.63,354.77 L627.87,351.05 L634.12,345.73 L640.26,336.15 L645.07,323.92" fill="none" stroke="#111" stroke-width="0.7"/>
<circle cx="603.31" cy="356.90" r="1.2" fill="#111"/>
<circle cx="609.35" cy="356.37" r="1.2" fill="#111"/>
<circle cx="615.49" cy="355.57" r="1.2" fill="#111"/>
<circle cx="621.63" cy="354.77" r="1.2" fill="#111"/>
<circle cx="627.87" cy="351.05" r="1.2" fill="#111"/>
<circle cx="634.12" cy="345.73" r="1.2" fill="#111"/>
<path d="M640.26,333.49 L640.26,338.81 M639.36,333.49 L641.16,333.49 M639.36,338.81 L641.16,338.81" stroke="#111" stroke-width="0.6" fill="none"/>
<circle cx="640.26" cy="336.15" r="1.2" fill="#111"/>
<circle cx="645.07" cy="323.92" r="1.2" fill="#111"/>
<line x1="595.5" y1="304.5" x2="600.5" y2="304.5" stroke="#111" stroke-width="0.7"/><circle cx="598" cy="304.5" r="1.2" fill="#111"/>
<text transform="translate(604.00,306.30) scale(0.85,1)" x="0" y="0" font-size="5.0" text-anchor="start" fill="#111" >Total</text>
<line x1="595.5" y1="311.8" x2="600.5" y2="311.8" stroke="#ee1c24" stroke-width="0.7"/><circle cx="598" cy="311.8" r="1.2" fill="#ee1c24"/>
<text transform="translate(604.00,313.60) scale(0.85,1)" x="0" y="0" font-size="5.0" text-anchor="start" fill="#111" >COVA2-15-PF</text>
</svg></body></html>
